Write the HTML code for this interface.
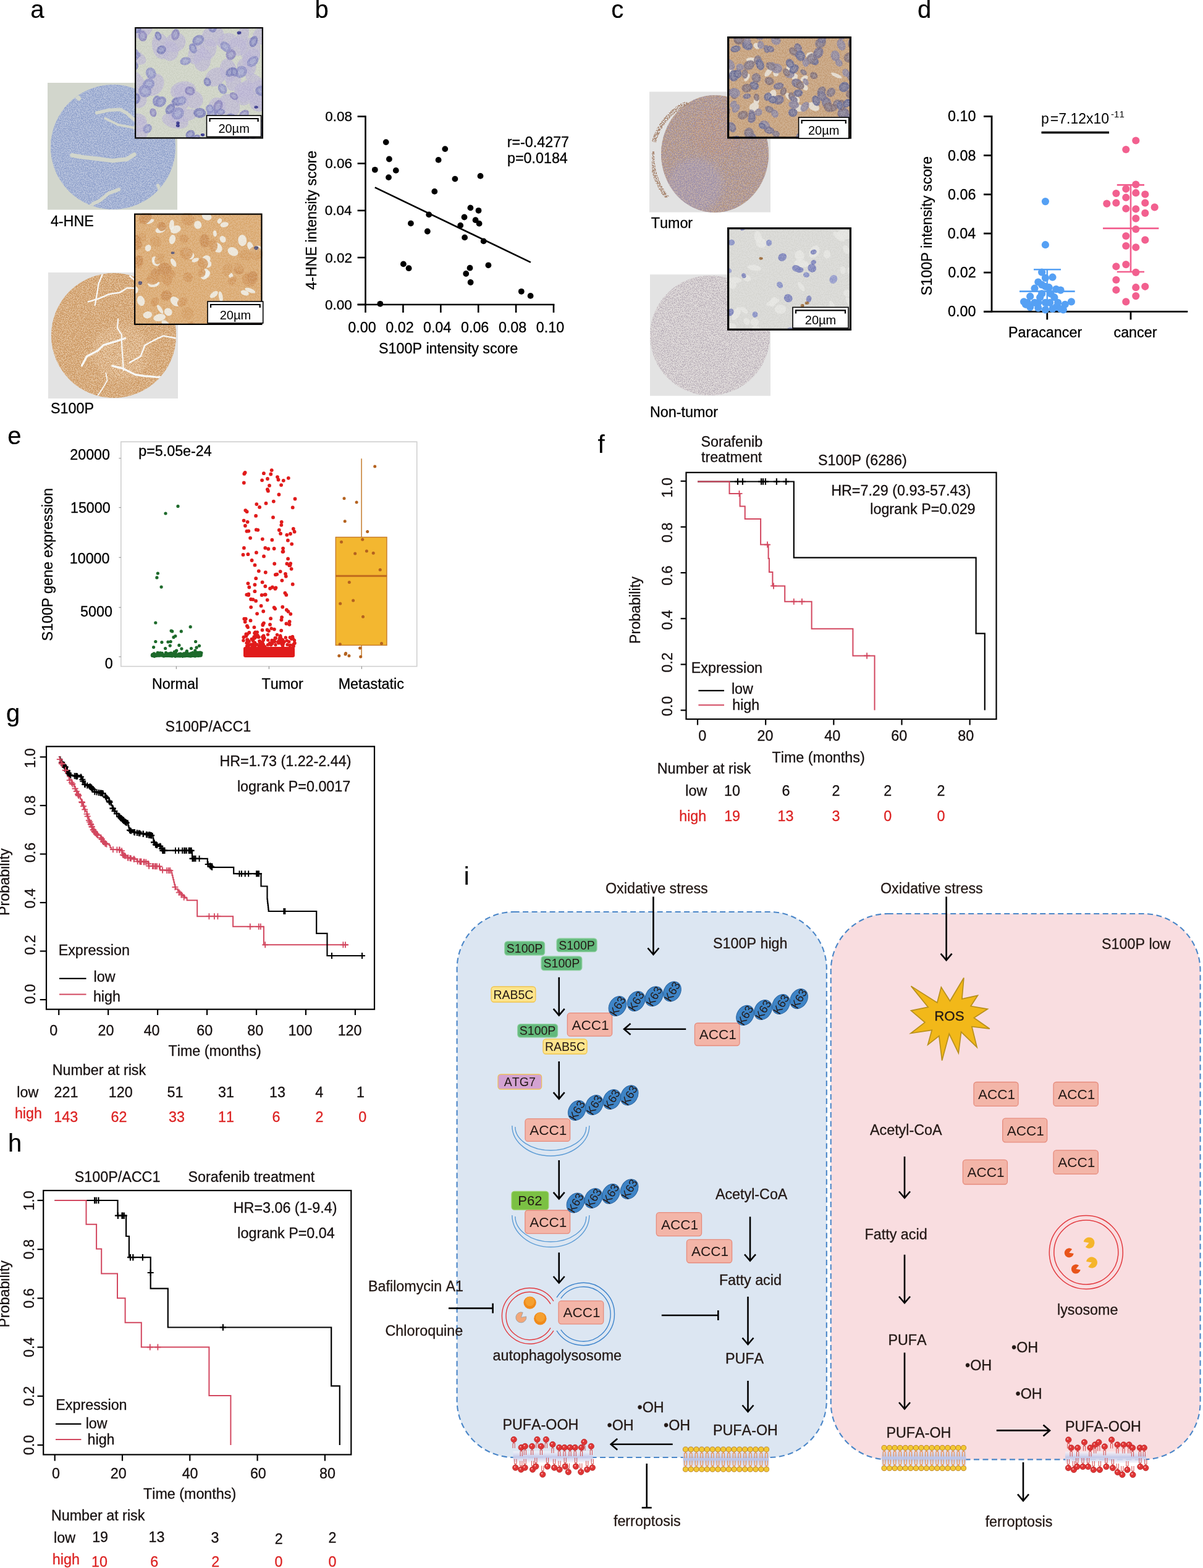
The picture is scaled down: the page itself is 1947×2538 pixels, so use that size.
<!DOCTYPE html>
<html><head><meta charset="utf-8"><title>Figure</title>
<style>
html,body{margin:0;padding:0;background:#fff;}
body{width:1947px;height:2538px;overflow:hidden;position:relative;}
svg{position:absolute;left:0;top:0;display:block;}
text{font-family:"Liberation Sans", Arial, Helvetica, sans-serif;font-kerning:none;}
</style></head><body>
<svg width="1947" height="2538" viewBox="0 0 1947 2538">
<defs>
<filter id="noise1" x="0" y="0" width="100%" height="100%"><feTurbulence type="fractalNoise" baseFrequency="0.55" numOctaves="2" seed="3" result="t"/><feColorMatrix in="t" type="matrix" values="0 0 0 0 1  0 0 0 0 1  0 0 0 0 1  0 0 0 -9 5.2" result="m"/><feComposite in="SourceGraphic" in2="m" operator="in"/></filter>
<filter id="blur6"><feGaussianBlur stdDeviation="6"/></filter>
<filter id="noise2" x="0" y="0" width="100%" height="100%"><feTurbulence type="fractalNoise" baseFrequency="0.7" numOctaves="2" seed="8" result="t"/><feColorMatrix in="t" type="matrix" values="0 0 0 0 1  0 0 0 0 1  0 0 0 0 1  0 0 0 9 -4.6" result="m"/><feComposite in="SourceGraphic" in2="m" operator="in"/></filter>
</defs>
<text x="49.35" y="29.20" font-size="40" fill="#000" stroke="#000" stroke-width="0.2" >a</text>
<rect x="77" y="134" width="210" height="205.5" fill="#d2d6cc"/>
<clipPath id="c1"><ellipse cx="183" cy="238" rx="101" ry="101"/></clipPath>
<ellipse cx="183" cy="238" rx="101" ry="101" fill="#a4b2d3"/>
<g clip-path="url(#c1)">
<rect x="82" y="137" width="202" height="202" fill="#c9d2e6" filter="url(#noise1)" opacity="0.55"/>
<rect x="82" y="137" width="202" height="202" fill="#7f93c5" filter="url(#noise2)" opacity="0.7"/>
<path d="M192.7,306.6 L176.0,312.7 L161.9,324.5 L151.2,329.5 L135.3,343.7 L126.8,366.7" stroke="#d2d6cc" stroke-width="5.4" fill="none" stroke-linecap="round" stroke-linejoin="round"/>
<path d="M127.7,159.6 L119.7,150.8 L110.5,142.7 L90.0,135.2 L75.4,124.3 L63.2,111.6" stroke="#d2d6cc" stroke-width="7.0" fill="none" stroke-linecap="round" stroke-linejoin="round"/>
<path d="M216.6,208.1 L220.8,197.6 L229.3,178.4 L239.9,157.9 L239.2,134.3 L237.3,118.4" stroke="#d2d6cc" stroke-width="2.8" fill="none" stroke-linecap="round" stroke-linejoin="round"/>
<path d="M228.0,200.8 L214.2,191.3 L204.9,182.9 L194.4,177.2 L176.0,178.3 L156.5,182.6" stroke="#d2d6cc" stroke-width="5.4" fill="none" stroke-linecap="round" stroke-linejoin="round"/>
<path d="M170.2,191.6 L191.7,202.2 L213.9,206.2 L236.3,210.1 L260.6,207.5 L280.2,201.1" stroke="#d2d6cc" stroke-width="3.8" fill="none" stroke-linecap="round" stroke-linejoin="round"/>
<path d="M116.8,251.4 L135.4,254.5 L159.5,257.2 L181.9,260.2 L205.3,257.6 L217.3,250.1" stroke="#d2d6cc" stroke-width="6.7" fill="none" stroke-linecap="round" stroke-linejoin="round"/>
<path d="M255.7,299.8 L259.5,311.0 L275.1,321.5 L281.6,341.2 L287.1,352.9 L289.0,366.1" stroke="#d2d6cc" stroke-width="5.0" fill="none" stroke-linecap="round" stroke-linejoin="round"/>
</g>
<clipPath id="i1"><rect x="218" y="44" width="208" height="180.5"/></clipPath>
<g clip-path="url(#i1)">
<rect x="218" y="44" width="208" height="180.5" fill="#ccd1c3"/>
<ellipse cx="395.3" cy="154.9" rx="14.8" ry="15.9" transform="rotate(37 395.3 154.9)" fill="#b7b1d1" opacity="0.72"/>
<ellipse cx="221.4" cy="92.6" rx="16.5" ry="9.5" transform="rotate(32 221.4 92.6)" fill="#b7b1d1" opacity="0.72"/>
<ellipse cx="294.7" cy="147.3" rx="13.3" ry="11.7" transform="rotate(160 294.7 147.3)" fill="#b7b1d1" opacity="0.72"/>
<ellipse cx="421.9" cy="162.6" rx="18.9" ry="13.4" transform="rotate(25 421.9 162.6)" fill="#b7b1d1" opacity="0.72"/>
<ellipse cx="225.3" cy="47.2" rx="21.1" ry="14.3" transform="rotate(173 225.3 47.2)" fill="#b7b1d1" opacity="0.72"/>
<ellipse cx="222.4" cy="158.8" rx="16.8" ry="14.5" transform="rotate(57 222.4 158.8)" fill="#b7b1d1" opacity="0.72"/>
<ellipse cx="425.9" cy="57.6" rx="17.5" ry="14.5" transform="rotate(162 425.9 57.6)" fill="#b7b1d1" opacity="0.72"/>
<ellipse cx="371.3" cy="171.0" rx="19.9" ry="15.9" transform="rotate(63 371.3 171.0)" fill="#b7b1d1" opacity="0.72"/>
<ellipse cx="360.5" cy="206.6" rx="20.7" ry="12.1" transform="rotate(142 360.5 206.6)" fill="#b7b1d1" opacity="0.72"/>
<ellipse cx="397.6" cy="147.4" rx="18.2" ry="11.9" transform="rotate(105 397.6 147.4)" fill="#b7b1d1" opacity="0.72"/>
<ellipse cx="344.6" cy="58.5" rx="18.4" ry="16.4" transform="rotate(158 344.6 58.5)" fill="#b7b1d1" opacity="0.72"/>
<ellipse cx="369.5" cy="114.1" rx="19.4" ry="13.4" transform="rotate(79 369.5 114.1)" fill="#b7b1d1" opacity="0.72"/>
<ellipse cx="392.4" cy="59.1" rx="19.5" ry="9.2" transform="rotate(108 392.4 59.1)" fill="#b7b1d1" opacity="0.72"/>
<ellipse cx="318.0" cy="85.6" rx="19.0" ry="12.7" transform="rotate(111 318.0 85.6)" fill="#b7b1d1" opacity="0.72"/>
<ellipse cx="409.5" cy="90.2" rx="12.1" ry="11.3" transform="rotate(122 409.5 90.2)" fill="#b7b1d1" opacity="0.72"/>
<ellipse cx="260.1" cy="74.6" rx="21.1" ry="13.9" transform="rotate(80 260.1 74.6)" fill="#b7b1d1" opacity="0.72"/>
<ellipse cx="403.5" cy="103.0" rx="18.7" ry="10.5" transform="rotate(78 403.5 103.0)" fill="#b7b1d1" opacity="0.72"/>
<ellipse cx="385.6" cy="209.0" rx="20.8" ry="11.9" transform="rotate(105 385.6 209.0)" fill="#b7b1d1" opacity="0.72"/>
<ellipse cx="283.8" cy="68.6" rx="17.0" ry="15.3" transform="rotate(153 283.8 68.6)" fill="#b7b1d1" opacity="0.72"/>
<ellipse cx="365.9" cy="215.5" rx="14.8" ry="10.3" transform="rotate(81 365.9 215.5)" fill="#b7b1d1" opacity="0.72"/>
<ellipse cx="275.2" cy="82.6" rx="16.1" ry="13.7" transform="rotate(89 275.2 82.6)" fill="#b7b1d1" opacity="0.72"/>
<ellipse cx="283.6" cy="195.5" rx="21.8" ry="12.4" transform="rotate(13 283.6 195.5)" fill="#b7b1d1" opacity="0.72"/>
<ellipse cx="224.5" cy="201.5" rx="12.4" ry="14.3" transform="rotate(103 224.5 201.5)" fill="#b7b1d1" opacity="0.72"/>
<ellipse cx="282.3" cy="186.9" rx="12.2" ry="10.0" transform="rotate(82 282.3 186.9)" fill="#b7b1d1" opacity="0.72"/>
<ellipse cx="223.1" cy="193.8" rx="14.4" ry="10.1" transform="rotate(8 223.1 193.8)" fill="#b7b1d1" opacity="0.72"/>
<ellipse cx="348.9" cy="124.6" rx="18.3" ry="13.9" transform="rotate(145 348.9 124.6)" fill="#b7b1d1" opacity="0.72"/>
<ellipse cx="417.4" cy="167.6" rx="14.0" ry="12.6" transform="rotate(32 417.4 167.6)" fill="#b7b1d1" opacity="0.72"/>
<ellipse cx="220.2" cy="129.2" rx="19.1" ry="10.3" transform="rotate(49 220.2 129.2)" fill="#b7b1d1" opacity="0.72"/>
<ellipse cx="289.9" cy="169.9" rx="17.2" ry="13.6" transform="rotate(136 289.9 169.9)" fill="#b7b1d1" opacity="0.72"/>
<ellipse cx="299.9" cy="186.9" rx="21.1" ry="9.7" transform="rotate(168 299.9 186.9)" fill="#b7b1d1" opacity="0.72"/>
<ellipse cx="368.3" cy="67.4" rx="16.5" ry="13.7" transform="rotate(164 368.3 67.4)" fill="#b7b1d1" opacity="0.72"/>
<ellipse cx="296.4" cy="146.7" rx="20.8" ry="15.0" transform="rotate(170 296.4 146.7)" fill="#b7b1d1" opacity="0.72"/>
<ellipse cx="314.5" cy="161.6" rx="14.0" ry="14.4" transform="rotate(147 314.5 161.6)" fill="#b7b1d1" opacity="0.72"/>
<ellipse cx="351.5" cy="173.5" rx="14.1" ry="15.7" transform="rotate(176 351.5 173.5)" fill="#b7b1d1" opacity="0.72"/>
<ellipse cx="421.3" cy="140.9" rx="19.9" ry="11.4" transform="rotate(164 421.3 140.9)" fill="#b7b1d1" opacity="0.72"/>
<ellipse cx="396.0" cy="106.9" rx="12.8" ry="12.3" transform="rotate(99 396.0 106.9)" fill="#b7b1d1" opacity="0.72"/>
<ellipse cx="377.8" cy="132.0" rx="12.3" ry="15.1" transform="rotate(12 377.8 132.0)" fill="#b7b1d1" opacity="0.72"/>
<ellipse cx="384.4" cy="75.2" rx="15.4" ry="14.9" transform="rotate(25 384.4 75.2)" fill="#b7b1d1" opacity="0.72"/>
<ellipse cx="248.9" cy="137.2" rx="19.2" ry="15.3" transform="rotate(124 248.9 137.2)" fill="#b7b1d1" opacity="0.72"/>
<ellipse cx="414.7" cy="132.9" rx="21.5" ry="9.6" transform="rotate(40 414.7 132.9)" fill="#b7b1d1" opacity="0.72"/>
<ellipse cx="327.5" cy="96.4" rx="19.3" ry="13.8" transform="rotate(94 327.5 96.4)" fill="#b7b1d1" opacity="0.72"/>
<ellipse cx="393.5" cy="145.1" rx="15.1" ry="11.9" transform="rotate(152 393.5 145.1)" fill="#b7b1d1" opacity="0.72"/>
<ellipse cx="405.3" cy="81.6" rx="20.5" ry="16.3" transform="rotate(94 405.3 81.6)" fill="#b7b1d1" opacity="0.72"/>
<ellipse cx="337.2" cy="80.3" rx="17.4" ry="12.8" transform="rotate(109 337.2 80.3)" fill="#b7b1d1" opacity="0.72"/>
<ellipse cx="223.8" cy="219.0" rx="17.2" ry="12.0" transform="rotate(144 223.8 219.0)" fill="#b7b1d1" opacity="0.72"/>
<ellipse cx="335.6" cy="132.6" rx="7.3" ry="5.9" transform="rotate(74 335.6 132.6)" fill="#7577b5" opacity="0.88"/>
<ellipse cx="335.6" cy="132.6" rx="4.0" ry="2.9" transform="rotate(74 335.6 132.6)" fill="#c9cde0" opacity="0.35"/>
<ellipse cx="420.7" cy="214.1" rx="8.0" ry="6.4" transform="rotate(61 420.7 214.1)" fill="#8a8cc2" opacity="0.88"/>
<ellipse cx="420.7" cy="214.1" rx="4.4" ry="3.2" transform="rotate(61 420.7 214.1)" fill="#c9cde0" opacity="0.35"/>
<ellipse cx="408.6" cy="216.4" rx="9.1" ry="6.2" transform="rotate(76 408.6 216.4)" fill="#8580b8" opacity="0.88"/>
<ellipse cx="408.6" cy="216.4" rx="5.0" ry="3.1" transform="rotate(76 408.6 216.4)" fill="#c9cde0" opacity="0.35"/>
<ellipse cx="220.4" cy="89.1" rx="7.1" ry="5.0" transform="rotate(2 220.4 89.1)" fill="#7f82bc" opacity="0.88"/>
<ellipse cx="220.4" cy="89.1" rx="3.9" ry="2.5" transform="rotate(2 220.4 89.1)" fill="#c9cde0" opacity="0.35"/>
<ellipse cx="275.4" cy="176.4" rx="9.5" ry="6.5" transform="rotate(132 275.4 176.4)" fill="#7577b5" opacity="0.88"/>
<ellipse cx="275.4" cy="176.4" rx="5.2" ry="3.2" transform="rotate(132 275.4 176.4)" fill="#c9cde0" opacity="0.35"/>
<ellipse cx="240.5" cy="136.2" rx="9.9" ry="8.5" transform="rotate(158 240.5 136.2)" fill="#8a8cc2" opacity="0.88"/>
<ellipse cx="240.5" cy="136.2" rx="5.4" ry="4.2" transform="rotate(158 240.5 136.2)" fill="#c9cde0" opacity="0.35"/>
<ellipse cx="219.0" cy="159.3" rx="9.2" ry="8.3" transform="rotate(96 219.0 159.3)" fill="#7577b5" opacity="0.88"/>
<ellipse cx="219.0" cy="159.3" rx="5.0" ry="4.2" transform="rotate(96 219.0 159.3)" fill="#c9cde0" opacity="0.35"/>
<ellipse cx="261.2" cy="80.7" rx="7.9" ry="6.9" transform="rotate(146 261.2 80.7)" fill="#7577b5" opacity="0.88"/>
<ellipse cx="261.2" cy="80.7" rx="4.4" ry="3.5" transform="rotate(146 261.2 80.7)" fill="#c9cde0" opacity="0.35"/>
<ellipse cx="409.0" cy="99.5" rx="10.6" ry="7.5" transform="rotate(140 409.0 99.5)" fill="#8a8cc2" opacity="0.88"/>
<ellipse cx="409.0" cy="99.5" rx="5.8" ry="3.7" transform="rotate(140 409.0 99.5)" fill="#c9cde0" opacity="0.35"/>
<ellipse cx="256.0" cy="58.3" rx="7.5" ry="5.1" transform="rotate(70 256.0 58.3)" fill="#7577b5" opacity="0.88"/>
<ellipse cx="256.0" cy="58.3" rx="4.1" ry="2.5" transform="rotate(70 256.0 58.3)" fill="#c9cde0" opacity="0.35"/>
<ellipse cx="307.9" cy="217.4" rx="7.8" ry="6.5" transform="rotate(144 307.9 217.4)" fill="#7577b5" opacity="0.88"/>
<ellipse cx="307.9" cy="217.4" rx="4.3" ry="3.3" transform="rotate(144 307.9 217.4)" fill="#c9cde0" opacity="0.35"/>
<ellipse cx="234.7" cy="147.4" rx="10.6" ry="10.0" transform="rotate(21 234.7 147.4)" fill="#8a8cc2" opacity="0.88"/>
<ellipse cx="234.7" cy="147.4" rx="5.9" ry="5.0" transform="rotate(21 234.7 147.4)" fill="#c9cde0" opacity="0.35"/>
<ellipse cx="323.2" cy="182.9" rx="10.2" ry="8.1" transform="rotate(4 323.2 182.9)" fill="#7577b5" opacity="0.88"/>
<ellipse cx="323.2" cy="182.9" rx="5.6" ry="4.1" transform="rotate(4 323.2 182.9)" fill="#c9cde0" opacity="0.35"/>
<ellipse cx="378.6" cy="155.6" rx="7.6" ry="5.4" transform="rotate(37 378.6 155.6)" fill="#8580b8" opacity="0.88"/>
<ellipse cx="378.6" cy="155.6" rx="4.2" ry="2.7" transform="rotate(37 378.6 155.6)" fill="#c9cde0" opacity="0.35"/>
<ellipse cx="395.5" cy="226.7" rx="9.3" ry="6.4" transform="rotate(123 395.5 226.7)" fill="#7f82bc" opacity="0.88"/>
<ellipse cx="395.5" cy="226.7" rx="5.1" ry="3.2" transform="rotate(123 395.5 226.7)" fill="#c9cde0" opacity="0.35"/>
<ellipse cx="230.8" cy="58.2" rx="8.9" ry="7.1" transform="rotate(77 230.8 58.2)" fill="#8580b8" opacity="0.88"/>
<ellipse cx="230.8" cy="58.2" rx="4.9" ry="3.6" transform="rotate(77 230.8 58.2)" fill="#c9cde0" opacity="0.35"/>
<ellipse cx="343.8" cy="42.5" rx="10.4" ry="7.3" transform="rotate(82 343.8 42.5)" fill="#7f82bc" opacity="0.88"/>
<ellipse cx="343.8" cy="42.5" rx="5.7" ry="3.7" transform="rotate(82 343.8 42.5)" fill="#c9cde0" opacity="0.35"/>
<ellipse cx="373.7" cy="116.4" rx="9.4" ry="6.4" transform="rotate(143 373.7 116.4)" fill="#7577b5" opacity="0.88"/>
<ellipse cx="373.7" cy="116.4" rx="5.2" ry="3.2" transform="rotate(143 373.7 116.4)" fill="#c9cde0" opacity="0.35"/>
<ellipse cx="283.9" cy="56.0" rx="9.3" ry="6.6" transform="rotate(105 283.9 56.0)" fill="#8580b8" opacity="0.88"/>
<ellipse cx="283.9" cy="56.0" rx="5.1" ry="3.3" transform="rotate(105 283.9 56.0)" fill="#c9cde0" opacity="0.35"/>
<ellipse cx="287.7" cy="183.7" rx="10.6" ry="9.3" transform="rotate(140 287.7 183.7)" fill="#8a8cc2" opacity="0.88"/>
<ellipse cx="287.7" cy="183.7" rx="5.9" ry="4.6" transform="rotate(140 287.7 183.7)" fill="#c9cde0" opacity="0.35"/>
<ellipse cx="390.0" cy="116.5" rx="10.5" ry="9.0" transform="rotate(138 390.0 116.5)" fill="#8a8cc2" opacity="0.88"/>
<ellipse cx="390.0" cy="116.5" rx="5.8" ry="4.5" transform="rotate(138 390.0 116.5)" fill="#c9cde0" opacity="0.35"/>
<ellipse cx="379.3" cy="116.5" rx="7.3" ry="5.5" transform="rotate(84 379.3 116.5)" fill="#7577b5" opacity="0.88"/>
<ellipse cx="379.3" cy="116.5" rx="4.0" ry="2.7" transform="rotate(84 379.3 116.5)" fill="#c9cde0" opacity="0.35"/>
<ellipse cx="216.3" cy="107.0" rx="7.9" ry="7.4" transform="rotate(120 216.3 107.0)" fill="#7f82bc" opacity="0.88"/>
<ellipse cx="216.3" cy="107.0" rx="4.4" ry="3.7" transform="rotate(120 216.3 107.0)" fill="#c9cde0" opacity="0.35"/>
<ellipse cx="287.0" cy="164.4" rx="9.1" ry="7.0" transform="rotate(180 287.0 164.4)" fill="#7577b5" opacity="0.88"/>
<ellipse cx="287.0" cy="164.4" rx="5.0" ry="3.5" transform="rotate(180 287.0 164.4)" fill="#c9cde0" opacity="0.35"/>
<ellipse cx="352.7" cy="172.2" rx="10.9" ry="7.2" transform="rotate(111 352.7 172.2)" fill="#8580b8" opacity="0.88"/>
<ellipse cx="352.7" cy="172.2" rx="6.0" ry="3.6" transform="rotate(111 352.7 172.2)" fill="#c9cde0" opacity="0.35"/>
<ellipse cx="373.6" cy="88.4" rx="9.0" ry="7.9" transform="rotate(117 373.6 88.4)" fill="#8580b8" opacity="0.88"/>
<ellipse cx="373.6" cy="88.4" rx="5.0" ry="4.0" transform="rotate(117 373.6 88.4)" fill="#c9cde0" opacity="0.35"/>
<ellipse cx="216.3" cy="88.7" rx="10.6" ry="8.7" transform="rotate(91 216.3 88.7)" fill="#8a8cc2" opacity="0.88"/>
<ellipse cx="216.3" cy="88.7" rx="5.8" ry="4.3" transform="rotate(91 216.3 88.7)" fill="#c9cde0" opacity="0.35"/>
<ellipse cx="422.9" cy="147.1" rx="9.6" ry="8.5" transform="rotate(14 422.9 147.1)" fill="#7f82bc" opacity="0.88"/>
<ellipse cx="422.9" cy="147.1" rx="5.3" ry="4.3" transform="rotate(14 422.9 147.1)" fill="#c9cde0" opacity="0.35"/>
<ellipse cx="343.1" cy="183.1" rx="8.5" ry="8.0" transform="rotate(69 343.1 183.1)" fill="#7f82bc" opacity="0.88"/>
<ellipse cx="343.1" cy="183.1" rx="4.7" ry="4.0" transform="rotate(69 343.1 183.1)" fill="#c9cde0" opacity="0.35"/>
<ellipse cx="423.5" cy="201.3" rx="8.7" ry="7.0" transform="rotate(51 423.5 201.3)" fill="#7f82bc" opacity="0.88"/>
<ellipse cx="423.5" cy="201.3" rx="4.8" ry="3.5" transform="rotate(51 423.5 201.3)" fill="#c9cde0" opacity="0.35"/>
<ellipse cx="300.1" cy="98.9" rx="8.9" ry="6.5" transform="rotate(167 300.1 98.9)" fill="#8a8cc2" opacity="0.88"/>
<ellipse cx="300.1" cy="98.9" rx="4.9" ry="3.3" transform="rotate(167 300.1 98.9)" fill="#c9cde0" opacity="0.35"/>
<ellipse cx="357.3" cy="181.0" rx="7.1" ry="5.1" transform="rotate(8 357.3 181.0)" fill="#7f82bc" opacity="0.88"/>
<ellipse cx="357.3" cy="181.0" rx="3.9" ry="2.6" transform="rotate(8 357.3 181.0)" fill="#c9cde0" opacity="0.35"/>
<ellipse cx="247.8" cy="182.3" rx="7.2" ry="5.4" transform="rotate(72 247.8 182.3)" fill="#8580b8" opacity="0.88"/>
<ellipse cx="247.8" cy="182.3" rx="4.0" ry="2.7" transform="rotate(72 247.8 182.3)" fill="#c9cde0" opacity="0.35"/>
<ellipse cx="339.7" cy="176.3" rx="7.3" ry="6.7" transform="rotate(77 339.7 176.3)" fill="#8a8cc2" opacity="0.88"/>
<ellipse cx="339.7" cy="176.3" rx="4.0" ry="3.4" transform="rotate(77 339.7 176.3)" fill="#c9cde0" opacity="0.35"/>
<ellipse cx="317.2" cy="223.4" rx="7.2" ry="4.9" transform="rotate(146 317.2 223.4)" fill="#7577b5" opacity="0.88"/>
<ellipse cx="317.2" cy="223.4" rx="3.9" ry="2.4" transform="rotate(146 317.2 223.4)" fill="#c9cde0" opacity="0.35"/>
<ellipse cx="410.4" cy="67.2" rx="9.4" ry="6.4" transform="rotate(112 410.4 67.2)" fill="#7577b5" opacity="0.88"/>
<ellipse cx="410.4" cy="67.2" rx="5.2" ry="3.2" transform="rotate(112 410.4 67.2)" fill="#c9cde0" opacity="0.35"/>
<ellipse cx="312.4" cy="78.4" rx="8.4" ry="5.9" transform="rotate(65 312.4 78.4)" fill="#7f82bc" opacity="0.88"/>
<ellipse cx="312.4" cy="78.4" rx="4.6" ry="2.9" transform="rotate(65 312.4 78.4)" fill="#c9cde0" opacity="0.35"/>
<ellipse cx="244.2" cy="118.6" rx="9.6" ry="8.2" transform="rotate(66 244.2 118.6)" fill="#8a8cc2" opacity="0.88"/>
<ellipse cx="244.2" cy="118.6" rx="5.3" ry="4.1" transform="rotate(66 244.2 118.6)" fill="#c9cde0" opacity="0.35"/>
<ellipse cx="374.7" cy="193.7" rx="10.8" ry="9.4" transform="rotate(43 374.7 193.7)" fill="#7577b5" opacity="0.88"/>
<ellipse cx="374.7" cy="193.7" rx="5.9" ry="4.7" transform="rotate(43 374.7 193.7)" fill="#c9cde0" opacity="0.35"/>
<ellipse cx="238.6" cy="208.3" rx="8.1" ry="6.7" transform="rotate(131 238.6 208.3)" fill="#8a8cc2" opacity="0.88"/>
<ellipse cx="238.6" cy="208.3" rx="4.5" ry="3.4" transform="rotate(131 238.6 208.3)" fill="#c9cde0" opacity="0.35"/>
<ellipse cx="365.0" cy="75.8" rx="10.0" ry="7.1" transform="rotate(45 365.0 75.8)" fill="#8a8cc2" opacity="0.88"/>
<ellipse cx="365.0" cy="75.8" rx="5.5" ry="3.5" transform="rotate(45 365.0 75.8)" fill="#c9cde0" opacity="0.35"/>
<ellipse cx="425.6" cy="212.6" rx="9.5" ry="6.2" transform="rotate(47 425.6 212.6)" fill="#7f82bc" opacity="0.88"/>
<ellipse cx="425.6" cy="212.6" rx="5.2" ry="3.1" transform="rotate(47 425.6 212.6)" fill="#c9cde0" opacity="0.35"/>
<ellipse cx="219.8" cy="47.2" rx="9.2" ry="6.2" transform="rotate(16 219.8 47.2)" fill="#7577b5" opacity="0.88"/>
<ellipse cx="219.8" cy="47.2" rx="5.0" ry="3.1" transform="rotate(16 219.8 47.2)" fill="#c9cde0" opacity="0.35"/>
<ellipse cx="360.1" cy="143.8" rx="8.9" ry="6.8" transform="rotate(61 360.1 143.8)" fill="#8a8cc2" opacity="0.88"/>
<ellipse cx="360.1" cy="143.8" rx="4.9" ry="3.4" transform="rotate(61 360.1 143.8)" fill="#c9cde0" opacity="0.35"/>
<ellipse cx="320.8" cy="65.1" rx="10.2" ry="8.0" transform="rotate(148 320.8 65.1)" fill="#7f82bc" opacity="0.88"/>
<ellipse cx="320.8" cy="65.1" rx="5.6" ry="4.0" transform="rotate(148 320.8 65.1)" fill="#c9cde0" opacity="0.35"/>
<ellipse cx="395.0" cy="184.9" rx="8.7" ry="6.3" transform="rotate(146 395.0 184.9)" fill="#8580b8" opacity="0.88"/>
<ellipse cx="395.0" cy="184.9" rx="4.8" ry="3.2" transform="rotate(146 395.0 184.9)" fill="#c9cde0" opacity="0.35"/>
<ellipse cx="293.7" cy="163.2" rx="8.2" ry="7.2" transform="rotate(149 293.7 163.2)" fill="#8a8cc2" opacity="0.88"/>
<ellipse cx="293.7" cy="163.2" rx="4.5" ry="3.6" transform="rotate(149 293.7 163.2)" fill="#c9cde0" opacity="0.35"/>
<ellipse cx="253.7" cy="163.2" rx="8.8" ry="6.6" transform="rotate(98 253.7 163.2)" fill="#7f82bc" opacity="0.88"/>
<ellipse cx="253.7" cy="163.2" rx="4.9" ry="3.3" transform="rotate(98 253.7 163.2)" fill="#c9cde0" opacity="0.35"/>
<ellipse cx="307.3" cy="147.1" rx="8.2" ry="7.2" transform="rotate(14 307.3 147.1)" fill="#8580b8" opacity="0.88"/>
<ellipse cx="307.3" cy="147.1" rx="4.5" ry="3.6" transform="rotate(14 307.3 147.1)" fill="#c9cde0" opacity="0.35"/>
<ellipse cx="260.1" cy="164.8" rx="9.8" ry="7.8" transform="rotate(138 260.1 164.8)" fill="#7f82bc" opacity="0.88"/>
<ellipse cx="260.1" cy="164.8" rx="5.4" ry="3.9" transform="rotate(138 260.1 164.8)" fill="#c9cde0" opacity="0.35"/>
<ellipse cx="287.9" cy="199.3" rx="2.8" ry="2.8" fill="#2b2b86"/>
<ellipse cx="287.8" cy="203.5" rx="3.0" ry="2.5" fill="#2b2b86"/>
<ellipse cx="340.8" cy="202.9" rx="3.5" ry="2.3" fill="#2b2b86"/>
<ellipse cx="328.0" cy="218.2" rx="3.2" ry="2.3" fill="#2b2b86"/>
<ellipse cx="414.6" cy="173.4" rx="3.3" ry="2.1" fill="#2b2b86"/>
<ellipse cx="387.0" cy="53.1" rx="3.5" ry="2.7" fill="#2b2b86"/>
<rect x="218" y="44" width="208" height="180.5" fill="#fff" filter="url(#noise1)" opacity="0.18"/>
</g>
<rect x="219.1" y="45.1" width="205.8" height="178.3" fill="none" stroke="#000" stroke-width="2.2"/>
<rect x="334.5" y="187" width="88.10000000000002" height="34.400000000000006" fill="#fff" stroke="#000" stroke-width="1.6"/>
<path d="M339.5,197 V192 H417.6 V197" fill="none" stroke="#000" stroke-width="2.2"/>
<text x="378.6" y="215.4" font-size="20" text-anchor="middle">20µm</text>
<text x="81.90" y="366.20" font-size="23.3" fill="#000" stroke="#000" stroke-width="0.3" >4-HNE</text>
<rect x="78" y="441" width="210" height="204" fill="#e3e3e3"/>
<clipPath id="c2"><ellipse cx="184" cy="543" rx="101" ry="101"/></clipPath>
<ellipse cx="184" cy="543" rx="101" ry="101" fill="#d6a774"/>
<g clip-path="url(#c2)">
<circle cx="195" cy="570" r="45" fill="#e6c29a" opacity="0.7" filter="url(#blur6)"/>
<rect x="83" y="442" width="202" height="202" fill="#eed8bd" filter="url(#noise1)" opacity="0.55"/>
<rect x="83" y="442" width="202" height="202" fill="#bf8650" filter="url(#noise2)" opacity="0.7"/>
<path d="M222.6,521.7 L224.8,503.1 L223.2,486.5 L227.9,473.5 L225.0,459.4 L210.3,447.0" stroke="#f7f7f5" stroke-width="2.7" fill="none" stroke-linecap="round" stroke-linejoin="round"/>
<path d="M191.3,516.3 L189.9,530.9 L196.8,541.6 L197.3,562.3 L198.4,577.3 L199.8,599.4" stroke="#f7f7f5" stroke-width="2.2" fill="none" stroke-linecap="round" stroke-linejoin="round"/>
<path d="M182.1,592.3 L199.6,596.7 L218.7,606.4 L234.1,608.6 L252.0,610.2 L262.1,610.4" stroke="#f7f7f5" stroke-width="3.3" fill="none" stroke-linecap="round" stroke-linejoin="round"/>
<path d="M142.9,488.4 L161.6,482.7 L177.3,475.9 L194.2,473.4 L206.0,466.0 L227.2,466.9" stroke="#f7f7f5" stroke-width="2.5" fill="none" stroke-linecap="round" stroke-linejoin="round"/>
<path d="M153.7,494.1 L157.0,475.4 L159.6,459.0 L167.9,438.7 L184.0,425.3 L203.5,416.4" stroke="#f7f7f5" stroke-width="2.3" fill="none" stroke-linecap="round" stroke-linejoin="round"/>
<path d="M209.9,586.9 L227.6,576.8 L234.5,558.7 L253.8,548.4 L264.4,543.6 L287.1,548.0" stroke="#f7f7f5" stroke-width="2.4" fill="none" stroke-linecap="round" stroke-linejoin="round"/>
<path d="M171.3,603.6 L173.6,615.7 L167.0,627.1 L157.0,642.3 L155.2,654.9 L159.9,666.9" stroke="#f7f7f5" stroke-width="1.8" fill="none" stroke-linecap="round" stroke-linejoin="round"/>
<path d="M202.6,547.5 L185.1,553.3 L167.7,558.4 L158.5,567.4 L140.5,576.7 L132.5,591.8" stroke="#f7f7f5" stroke-width="3.4" fill="none" stroke-linecap="round" stroke-linejoin="round"/>
</g>
<clipPath id="i2"><rect x="217" y="345.5" width="207.5" height="180.5"/></clipPath>
<g clip-path="url(#i2)">
<rect x="217" y="345.5" width="207.5" height="180.5" fill="#d9a76d"/>
<ellipse cx="417.0" cy="402.6" rx="6.4" ry="5.1" transform="rotate(180 417.0 402.6)" fill="#eef0ea" opacity="0.85"/>
<ellipse cx="355.4" cy="357.6" rx="4.4" ry="3.4" transform="rotate(120 355.4 357.6)" fill="#eef0ea" opacity="0.85"/>
<ellipse cx="357.2" cy="480.3" rx="8.7" ry="3.3" transform="rotate(80 357.2 480.3)" fill="#eef0ea" opacity="0.85"/>
<ellipse cx="396.2" cy="474.0" rx="6.9" ry="4.0" transform="rotate(20 396.2 474.0)" fill="#eef0ea" opacity="0.85"/>
<ellipse cx="377.2" cy="500.0" rx="9.1" ry="5.8" transform="rotate(162 377.2 500.0)" fill="#eef0ea" opacity="0.85"/>
<ellipse cx="248.6" cy="458.8" rx="9.6" ry="5.9" transform="rotate(172 248.6 458.8)" fill="#eef0ea" opacity="0.85"/>
<ellipse cx="373.6" cy="445.8" rx="4.5" ry="3.6" transform="rotate(68 373.6 445.8)" fill="#eef0ea" opacity="0.85"/>
<ellipse cx="239.7" cy="401.4" rx="5.6" ry="4.8" transform="rotate(115 239.7 401.4)" fill="#eef0ea" opacity="0.85"/>
<ellipse cx="309.7" cy="414.5" rx="4.6" ry="5.4" transform="rotate(24 309.7 414.5)" fill="#eef0ea" opacity="0.85"/>
<ellipse cx="347.8" cy="377.9" rx="5.2" ry="3.0" transform="rotate(83 347.8 377.9)" fill="#eef0ea" opacity="0.85"/>
<ellipse cx="363.1" cy="363.6" rx="4.2" ry="6.9" transform="rotate(78 363.1 363.6)" fill="#eef0ea" opacity="0.85"/>
<ellipse cx="377.0" cy="407.2" rx="8.9" ry="6.7" transform="rotate(25 377.0 407.2)" fill="#eef0ea" opacity="0.85"/>
<ellipse cx="259.6" cy="372.2" rx="8.1" ry="4.8" transform="rotate(166 259.6 372.2)" fill="#eef0ea" opacity="0.85"/>
<ellipse cx="346.3" cy="476.7" rx="7.7" ry="4.1" transform="rotate(142 346.3 476.7)" fill="#eef0ea" opacity="0.85"/>
<ellipse cx="267.8" cy="523.4" rx="7.2" ry="3.9" transform="rotate(34 267.8 523.4)" fill="#eef0ea" opacity="0.85"/>
<ellipse cx="280.7" cy="425.1" rx="7.3" ry="3.7" transform="rotate(60 280.7 425.1)" fill="#eef0ea" opacity="0.85"/>
<ellipse cx="277.9" cy="364.0" rx="8.3" ry="3.9" transform="rotate(97 277.9 364.0)" fill="#eef0ea" opacity="0.85"/>
<ellipse cx="278.9" cy="387.7" rx="7.7" ry="5.0" transform="rotate(103 278.9 387.7)" fill="#eef0ea" opacity="0.85"/>
<ellipse cx="258.1" cy="514.0" rx="10.0" ry="5.8" transform="rotate(168 258.1 514.0)" fill="#eef0ea" opacity="0.85"/>
<ellipse cx="334.7" cy="350.3" rx="8.0" ry="6.1" transform="rotate(25 334.7 350.3)" fill="#eef0ea" opacity="0.85"/>
<ellipse cx="316.2" cy="420.9" rx="6.0" ry="3.2" transform="rotate(157 316.2 420.9)" fill="#eef0ea" opacity="0.85"/>
<ellipse cx="272.2" cy="504.9" rx="6.7" ry="5.9" transform="rotate(43 272.2 504.9)" fill="#eef0ea" opacity="0.85"/>
<ellipse cx="335.1" cy="444.1" rx="4.4" ry="6.6" transform="rotate(30 335.1 444.1)" fill="#eef0ea" opacity="0.85"/>
<ellipse cx="371.7" cy="507.4" rx="6.0" ry="3.4" transform="rotate(168 371.7 507.4)" fill="#eef0ea" opacity="0.85"/>
<ellipse cx="217.8" cy="469.2" rx="6.2" ry="6.0" transform="rotate(65 217.8 469.2)" fill="#eef0ea" opacity="0.85"/>
<ellipse cx="251.4" cy="453.4" rx="8.9" ry="4.7" transform="rotate(73 251.4 453.4)" fill="#eef0ea" opacity="0.85"/>
<ellipse cx="379.4" cy="513.3" rx="10.0" ry="3.4" transform="rotate(136 379.4 513.3)" fill="#eef0ea" opacity="0.85"/>
<ellipse cx="392.8" cy="509.1" rx="7.7" ry="5.5" transform="rotate(137 392.8 509.1)" fill="#eef0ea" opacity="0.85"/>
<ellipse cx="249.9" cy="419.9" rx="4.2" ry="5.0" transform="rotate(21 249.9 419.9)" fill="#eef0ea" opacity="0.85"/>
<ellipse cx="301.2" cy="406.2" rx="4.8" ry="3.8" transform="rotate(168 301.2 406.2)" fill="#eef0ea" opacity="0.85"/>
<ellipse cx="228.1" cy="487.0" rx="8.3" ry="6.1" transform="rotate(73 228.1 487.0)" fill="#eef0ea" opacity="0.85"/>
<ellipse cx="320.2" cy="364.0" rx="6.1" ry="6.6" transform="rotate(164 320.2 364.0)" fill="#eef0ea" opacity="0.85"/>
<ellipse cx="334.2" cy="419.0" rx="5.7" ry="6.5" transform="rotate(83 334.2 419.0)" fill="#eef0ea" opacity="0.85"/>
<ellipse cx="404.9" cy="470.1" rx="9.0" ry="3.3" transform="rotate(21 404.9 470.1)" fill="#eef0ea" opacity="0.85"/>
<ellipse cx="411.8" cy="405.1" rx="7.1" ry="4.6" transform="rotate(4 411.8 405.1)" fill="#eef0ea" opacity="0.85"/>
<ellipse cx="405.3" cy="398.9" rx="7.7" ry="4.6" transform="rotate(68 405.3 398.9)" fill="#eef0ea" opacity="0.85"/>
<ellipse cx="283.8" cy="488.0" rx="9.3" ry="6.5" transform="rotate(44 283.8 488.0)" fill="#eef0ea" opacity="0.85"/>
<ellipse cx="392.2" cy="389.2" rx="9.2" ry="6.9" transform="rotate(86 392.2 389.2)" fill="#eef0ea" opacity="0.85"/>
<ellipse cx="238.9" cy="509.7" rx="7.3" ry="5.6" transform="rotate(169 238.9 509.7)" fill="#eef0ea" opacity="0.85"/>
<ellipse cx="399.5" cy="525.9" rx="8.4" ry="6.5" transform="rotate(66 399.5 525.9)" fill="#eef0ea" opacity="0.85"/>
<ellipse cx="330.3" cy="447.3" rx="5.0" ry="5.5" transform="rotate(76 330.3 447.3)" fill="#eef0ea" opacity="0.85"/>
<ellipse cx="242.5" cy="358.4" rx="7.1" ry="3.3" transform="rotate(159 242.5 358.4)" fill="#eef0ea" opacity="0.85"/>
<ellipse cx="336.5" cy="427.3" rx="5.8" ry="5.9" transform="rotate(4 336.5 427.3)" fill="#eef0ea" opacity="0.85"/>
<ellipse cx="252.7" cy="425.1" rx="6.7" ry="5.0" transform="rotate(25 252.7 425.1)" fill="#eef0ea" opacity="0.85"/>
<ellipse cx="360.6" cy="387.2" rx="5.8" ry="4.7" transform="rotate(56 360.6 387.2)" fill="#eef0ea" opacity="0.85"/>
<ellipse cx="284.3" cy="371.4" rx="8.7" ry="6.1" transform="rotate(158 284.3 371.4)" fill="#eef0ea" opacity="0.85"/>
<ellipse cx="259.1" cy="500.6" rx="8.2" ry="3.0" transform="rotate(57 259.1 500.6)" fill="#eef0ea" opacity="0.85"/>
<ellipse cx="395.3" cy="507.8" rx="4.1" ry="5.5" transform="rotate(126 395.3 507.8)" fill="#eef0ea" opacity="0.85"/>
<ellipse cx="333.2" cy="441.7" rx="5.4" ry="6.8" transform="rotate(176 333.2 441.7)" fill="#eef0ea" opacity="0.85"/>
<ellipse cx="351.9" cy="400.7" rx="8.9" ry="6.8" transform="rotate(49 351.9 400.7)" fill="#eef0ea" opacity="0.85"/>
<ellipse cx="303.6" cy="507.2" rx="10.5" ry="9.8" transform="rotate(80 303.6 507.2)" fill="#d39c60" opacity="0.88"/>
<ellipse cx="230.0" cy="383.6" rx="7.6" ry="6.5" transform="rotate(48 230.0 383.6)" fill="#d39c60" opacity="0.88"/>
<ellipse cx="368.2" cy="436.0" rx="11.0" ry="8.3" transform="rotate(119 368.2 436.0)" fill="#d39c60" opacity="0.88"/>
<ellipse cx="403.6" cy="452.7" rx="11.9" ry="10.9" transform="rotate(33 403.6 452.7)" fill="#cf9458" opacity="0.88"/>
<ellipse cx="261.7" cy="366.5" rx="7.4" ry="7.0" transform="rotate(79 261.7 366.5)" fill="#c88b50" opacity="0.88"/>
<ellipse cx="326.8" cy="441.6" rx="7.0" ry="5.8" transform="rotate(97 326.8 441.6)" fill="#cf9458" opacity="0.88"/>
<ellipse cx="304.3" cy="448.7" rx="8.4" ry="7.4" transform="rotate(44 304.3 448.7)" fill="#cf9458" opacity="0.88"/>
<ellipse cx="273.1" cy="444.8" rx="11.0" ry="7.6" transform="rotate(162 273.1 444.8)" fill="#cf9458" opacity="0.88"/>
<ellipse cx="347.0" cy="514.2" rx="8.9" ry="8.3" transform="rotate(90 347.0 514.2)" fill="#c88b50" opacity="0.88"/>
<ellipse cx="251.8" cy="446.3" rx="11.5" ry="8.6" transform="rotate(87 251.8 446.3)" fill="#c88b50" opacity="0.88"/>
<ellipse cx="219.9" cy="396.4" rx="10.4" ry="8.4" transform="rotate(171 219.9 396.4)" fill="#c88b50" opacity="0.88"/>
<ellipse cx="250.5" cy="488.5" rx="7.6" ry="5.9" transform="rotate(120 250.5 488.5)" fill="#cf9458" opacity="0.88"/>
<ellipse cx="331.1" cy="389.8" rx="11.0" ry="7.9" transform="rotate(88 331.1 389.8)" fill="#c88b50" opacity="0.88"/>
<ellipse cx="260.7" cy="450.8" rx="8.3" ry="5.9" transform="rotate(175 260.7 450.8)" fill="#d39c60" opacity="0.88"/>
<ellipse cx="224.3" cy="426.0" rx="8.6" ry="7.2" transform="rotate(110 224.3 426.0)" fill="#cf9458" opacity="0.88"/>
<ellipse cx="386.7" cy="436.5" rx="8.3" ry="7.4" transform="rotate(13 386.7 436.5)" fill="#c88b50" opacity="0.88"/>
<ellipse cx="408.5" cy="448.7" rx="9.9" ry="8.6" transform="rotate(112 408.5 448.7)" fill="#c88b50" opacity="0.88"/>
<ellipse cx="224.6" cy="421.7" rx="8.6" ry="7.2" transform="rotate(95 224.6 421.7)" fill="#c88b50" opacity="0.88"/>
<ellipse cx="270.0" cy="452.5" rx="10.3" ry="8.2" transform="rotate(68 270.0 452.5)" fill="#cf9458" opacity="0.88"/>
<ellipse cx="266.5" cy="435.2" rx="11.2" ry="9.9" transform="rotate(11 266.5 435.2)" fill="#c88b50" opacity="0.88"/>
<ellipse cx="301.5" cy="410.2" rx="10.5" ry="9.9" transform="rotate(23 301.5 410.2)" fill="#cf9458" opacity="0.88"/>
<ellipse cx="375.8" cy="454.7" rx="7.7" ry="6.1" transform="rotate(134 375.8 454.7)" fill="#cf9458" opacity="0.88"/>
<ellipse cx="221.5" cy="386.9" rx="7.7" ry="5.9" transform="rotate(54 221.5 386.9)" fill="#c88b50" opacity="0.88"/>
<ellipse cx="304.5" cy="355.9" rx="10.4" ry="9.0" transform="rotate(176 304.5 355.9)" fill="#cf9458" opacity="0.88"/>
<ellipse cx="345.0" cy="397.2" rx="9.8" ry="7.1" transform="rotate(83 345.0 397.2)" fill="#cf9458" opacity="0.88"/>
<ellipse cx="413.9" cy="410.1" rx="11.7" ry="10.9" transform="rotate(39 413.9 410.1)" fill="#d39c60" opacity="0.88"/>
<ellipse cx="247.6" cy="451.8" rx="10.7" ry="8.8" transform="rotate(164 247.6 451.8)" fill="#cf9458" opacity="0.88"/>
<ellipse cx="403.6" cy="515.7" rx="9.3" ry="7.2" transform="rotate(152 403.6 515.7)" fill="#cf9458" opacity="0.88"/>
<ellipse cx="295.1" cy="488.8" rx="9.1" ry="6.6" transform="rotate(143 295.1 488.8)" fill="#cf9458" opacity="0.88"/>
<ellipse cx="386.3" cy="432.0" rx="8.1" ry="6.4" transform="rotate(56 386.3 432.0)" fill="#d39c60" opacity="0.88"/>
<ellipse cx="309.4" cy="528.7" rx="7.9" ry="6.3" transform="rotate(97 309.4 528.7)" fill="#c88b50" opacity="0.88"/>
<ellipse cx="303.3" cy="350.4" rx="8.8" ry="6.5" transform="rotate(3 303.3 350.4)" fill="#d39c60" opacity="0.88"/>
<ellipse cx="252.2" cy="391.0" rx="9.8" ry="8.3" transform="rotate(39 252.2 391.0)" fill="#d39c60" opacity="0.88"/>
<ellipse cx="235.3" cy="352.3" rx="11.7" ry="8.9" transform="rotate(138 235.3 352.3)" fill="#c88b50" opacity="0.88"/>
<ellipse cx="368.9" cy="512.5" rx="12.0" ry="10.8" transform="rotate(81 368.9 512.5)" fill="#cf9458" opacity="0.88"/>
<ellipse cx="397.2" cy="413.4" rx="10.9" ry="8.7" transform="rotate(10 397.2 413.4)" fill="#d39c60" opacity="0.88"/>
<ellipse cx="297.9" cy="386.4" rx="7.9" ry="6.4" transform="rotate(23 297.9 386.4)" fill="#cf9458" opacity="0.88"/>
<ellipse cx="257.9" cy="418.9" rx="9.7" ry="6.7" transform="rotate(127 257.9 418.9)" fill="#d39c60" opacity="0.88"/>
<ellipse cx="269.1" cy="478.3" rx="8.9" ry="8.1" transform="rotate(150 269.1 478.3)" fill="#c88b50" opacity="0.88"/>
<ellipse cx="328.3" cy="426.2" rx="8.9" ry="8.1" transform="rotate(41 328.3 426.2)" fill="#cf9458" opacity="0.88"/>
<ellipse cx="279.7" cy="409.3" rx="2.8" ry="2.0" fill="#4b4a70"/>
<ellipse cx="226.8" cy="458.0" rx="3.3" ry="3.0" fill="#4b4a70"/>
<ellipse cx="414.7" cy="401.3" rx="3.5" ry="3.1" fill="#4b4a70"/>
<rect x="217" y="345.5" width="207.5" height="180.5" fill="#fff" filter="url(#noise1)" opacity="0.18"/>
</g>
<rect x="218.1" y="346.6" width="205.3" height="178.3" fill="none" stroke="#000" stroke-width="2.2"/>
<rect x="336" y="488" width="89.69999999999999" height="35" fill="#fff" stroke="#000" stroke-width="1.6"/>
<path d="M341,498 V493 H420.7 V498" fill="none" stroke="#000" stroke-width="2.2"/>
<text x="380.9" y="517.0" font-size="20" text-anchor="middle">20µm</text>
<text x="82.00" y="668.60" font-size="23.3" fill="#000" stroke="#000" stroke-width="0.3" >S100P</text>
<text x="989.35" y="29.10" font-size="40" fill="#000" stroke="#000" stroke-width="0.2" >c</text>
<rect x="1051" y="148.5" width="196" height="195.10000000000002" fill="#e2e2e2"/>
<clipPath id="c3"><ellipse cx="1157" cy="249" rx="87" ry="95"/></clipPath>
<ellipse cx="1157" cy="249" rx="87" ry="95" fill="#b3937d"/>
<g clip-path="url(#c3)">
<circle cx="1125" cy="300" r="45" fill="#a49dbd" opacity="0.55" filter="url(#blur6)"/>
<circle cx="1160" cy="215" r="40" fill="#c09070" opacity="0.5" filter="url(#blur6)"/>
<rect x="1062" y="154" width="190" height="190" fill="#d4c2b6" filter="url(#noise1)" opacity="0.55"/>
<rect x="1062" y="154" width="190" height="190" fill="#8f88b4" filter="url(#noise2)" opacity="0.7"/>
</g>
<path d="M1115,165 A98,102 0 0 0 1058,230 M1056,245 A98,102 0 0 0 1080,320" fill="none" stroke="#a88670" stroke-width="7" filter="url(#noise1)" opacity="0.95"/>
<clipPath id="i3"><rect x="1177" y="59" width="201" height="165.5"/></clipPath>
<g clip-path="url(#i3)">
<rect x="1177" y="59" width="201" height="165.5" fill="#c49e78"/>
<ellipse cx="1220.5" cy="173.1" rx="8.0" ry="6.8" transform="rotate(156 1220.5 173.1)" fill="#e8e2d8" opacity="0.85"/>
<ellipse cx="1224.2" cy="163.7" rx="4.5" ry="4.6" transform="rotate(71 1224.2 163.7)" fill="#e8e2d8" opacity="0.85"/>
<ellipse cx="1189.1" cy="122.4" rx="6.0" ry="4.9" transform="rotate(50 1189.1 122.4)" fill="#e8e2d8" opacity="0.85"/>
<ellipse cx="1208.9" cy="125.6" rx="6.9" ry="3.5" transform="rotate(120 1208.9 125.6)" fill="#e8e2d8" opacity="0.85"/>
<ellipse cx="1225.2" cy="74.4" rx="6.1" ry="4.6" transform="rotate(27 1225.2 74.4)" fill="#e8e2d8" opacity="0.85"/>
<ellipse cx="1294.1" cy="175.1" rx="7.3" ry="5.7" transform="rotate(4 1294.1 175.1)" fill="#e8e2d8" opacity="0.85"/>
<ellipse cx="1255.7" cy="119.3" rx="4.4" ry="4.5" transform="rotate(10 1255.7 119.3)" fill="#e8e2d8" opacity="0.85"/>
<ellipse cx="1276.6" cy="156.0" rx="6.8" ry="4.2" transform="rotate(46 1276.6 156.0)" fill="#e8e2d8" opacity="0.85"/>
<ellipse cx="1181.7" cy="116.4" rx="9.4" ry="5.2" transform="rotate(47 1181.7 116.4)" fill="#e8e2d8" opacity="0.85"/>
<ellipse cx="1311.3" cy="89.8" rx="6.8" ry="5.4" transform="rotate(172 1311.3 89.8)" fill="#e8e2d8" opacity="0.85"/>
<ellipse cx="1249.9" cy="154.4" rx="9.7" ry="6.0" transform="rotate(113 1249.9 154.4)" fill="#e8e2d8" opacity="0.85"/>
<ellipse cx="1301.8" cy="127.0" rx="6.5" ry="4.0" transform="rotate(149 1301.8 127.0)" fill="#e8e2d8" opacity="0.85"/>
<ellipse cx="1353.8" cy="122.2" rx="9.5" ry="3.0" transform="rotate(24 1353.8 122.2)" fill="#e8e2d8" opacity="0.85"/>
<ellipse cx="1278.9" cy="110.1" rx="6.2" ry="6.9" transform="rotate(27 1278.9 110.1)" fill="#e8e2d8" opacity="0.85"/>
<ellipse cx="1215.7" cy="96.8" rx="8.1" ry="3.8" transform="rotate(0 1215.7 96.8)" fill="#e8e2d8" opacity="0.85"/>
<ellipse cx="1286.3" cy="124.2" rx="5.4" ry="4.9" transform="rotate(117 1286.3 124.2)" fill="#e8e2d8" opacity="0.85"/>
<ellipse cx="1287.2" cy="162.3" rx="7.4" ry="6.3" transform="rotate(174 1287.2 162.3)" fill="#e8e2d8" opacity="0.85"/>
<ellipse cx="1244.0" cy="116.4" rx="9.3" ry="4.1" transform="rotate(129 1244.0 116.4)" fill="#e8e2d8" opacity="0.85"/>
<ellipse cx="1316.8" cy="172.6" rx="9.8" ry="6.3" transform="rotate(29 1316.8 172.6)" fill="#e8e2d8" opacity="0.85"/>
<ellipse cx="1301.9" cy="140.2" rx="7.4" ry="4.4" transform="rotate(51 1301.9 140.2)" fill="#e8e2d8" opacity="0.85"/>
<ellipse cx="1329.5" cy="147.6" rx="8.3" ry="6.3" transform="rotate(127 1329.5 147.6)" fill="#7a6e7e" opacity="0.88"/>
<ellipse cx="1329.5" cy="147.6" rx="4.5" ry="3.1" transform="rotate(127 1329.5 147.6)" fill="#a09aa8" opacity="0.35"/>
<ellipse cx="1364.7" cy="183.0" rx="9.5" ry="8.5" transform="rotate(159 1364.7 183.0)" fill="#6e6a8a" opacity="0.88"/>
<ellipse cx="1364.7" cy="183.0" rx="5.2" ry="4.2" transform="rotate(159 1364.7 183.0)" fill="#a09aa8" opacity="0.35"/>
<ellipse cx="1237.8" cy="202.3" rx="8.7" ry="6.9" transform="rotate(29 1237.8 202.3)" fill="#86809a" opacity="0.88"/>
<ellipse cx="1237.8" cy="202.3" rx="4.8" ry="3.5" transform="rotate(29 1237.8 202.3)" fill="#a09aa8" opacity="0.35"/>
<ellipse cx="1354.1" cy="205.9" rx="7.2" ry="5.5" transform="rotate(133 1354.1 205.9)" fill="#6e6a8a" opacity="0.88"/>
<ellipse cx="1354.1" cy="205.9" rx="4.0" ry="2.8" transform="rotate(133 1354.1 205.9)" fill="#a09aa8" opacity="0.35"/>
<ellipse cx="1318.0" cy="98.9" rx="7.3" ry="6.2" transform="rotate(33 1318.0 98.9)" fill="#62658e" opacity="0.88"/>
<ellipse cx="1318.0" cy="98.9" rx="4.0" ry="3.1" transform="rotate(33 1318.0 98.9)" fill="#a09aa8" opacity="0.35"/>
<ellipse cx="1351.9" cy="90.5" rx="8.9" ry="7.3" transform="rotate(76 1351.9 90.5)" fill="#86809a" opacity="0.88"/>
<ellipse cx="1351.9" cy="90.5" rx="4.9" ry="3.7" transform="rotate(76 1351.9 90.5)" fill="#a09aa8" opacity="0.35"/>
<ellipse cx="1320.7" cy="163.1" rx="8.8" ry="6.1" transform="rotate(68 1320.7 163.1)" fill="#62658e" opacity="0.88"/>
<ellipse cx="1320.7" cy="163.1" rx="4.8" ry="3.0" transform="rotate(68 1320.7 163.1)" fill="#a09aa8" opacity="0.35"/>
<ellipse cx="1312.9" cy="95.1" rx="9.4" ry="7.4" transform="rotate(125 1312.9 95.1)" fill="#7a6e7e" opacity="0.88"/>
<ellipse cx="1312.9" cy="95.1" rx="5.2" ry="3.7" transform="rotate(125 1312.9 95.1)" fill="#a09aa8" opacity="0.35"/>
<ellipse cx="1338.3" cy="215.9" rx="8.4" ry="6.5" transform="rotate(114 1338.3 215.9)" fill="#62658e" opacity="0.88"/>
<ellipse cx="1338.3" cy="215.9" rx="4.6" ry="3.3" transform="rotate(114 1338.3 215.9)" fill="#a09aa8" opacity="0.35"/>
<ellipse cx="1255.9" cy="216.9" rx="6.2" ry="5.3" transform="rotate(21 1255.9 216.9)" fill="#7a6e7e" opacity="0.88"/>
<ellipse cx="1255.9" cy="216.9" rx="3.4" ry="2.7" transform="rotate(21 1255.9 216.9)" fill="#a09aa8" opacity="0.35"/>
<ellipse cx="1181.9" cy="104.6" rx="9.5" ry="6.5" transform="rotate(59 1181.9 104.6)" fill="#86809a" opacity="0.88"/>
<ellipse cx="1181.9" cy="104.6" rx="5.2" ry="3.3" transform="rotate(59 1181.9 104.6)" fill="#a09aa8" opacity="0.35"/>
<ellipse cx="1178.5" cy="149.1" rx="6.6" ry="4.4" transform="rotate(79 1178.5 149.1)" fill="#7d6a70" opacity="0.88"/>
<ellipse cx="1178.5" cy="149.1" rx="3.6" ry="2.2" transform="rotate(79 1178.5 149.1)" fill="#a09aa8" opacity="0.35"/>
<ellipse cx="1354.8" cy="167.7" rx="7.4" ry="6.2" transform="rotate(138 1354.8 167.7)" fill="#7a6e7e" opacity="0.88"/>
<ellipse cx="1354.8" cy="167.7" rx="4.1" ry="3.1" transform="rotate(138 1354.8 167.7)" fill="#a09aa8" opacity="0.35"/>
<ellipse cx="1378.0" cy="122.6" rx="7.9" ry="7.0" transform="rotate(26 1378.0 122.6)" fill="#7a6e7e" opacity="0.88"/>
<ellipse cx="1378.0" cy="122.6" rx="4.4" ry="3.5" transform="rotate(26 1378.0 122.6)" fill="#a09aa8" opacity="0.35"/>
<ellipse cx="1209.6" cy="73.6" rx="9.1" ry="7.1" transform="rotate(27 1209.6 73.6)" fill="#62658e" opacity="0.88"/>
<ellipse cx="1209.6" cy="73.6" rx="5.0" ry="3.5" transform="rotate(27 1209.6 73.6)" fill="#a09aa8" opacity="0.35"/>
<ellipse cx="1357.8" cy="101.9" rx="6.5" ry="5.4" transform="rotate(49 1357.8 101.9)" fill="#86809a" opacity="0.88"/>
<ellipse cx="1357.8" cy="101.9" rx="3.6" ry="2.7" transform="rotate(49 1357.8 101.9)" fill="#a09aa8" opacity="0.35"/>
<ellipse cx="1220.6" cy="138.7" rx="7.9" ry="6.5" transform="rotate(27 1220.6 138.7)" fill="#62658e" opacity="0.88"/>
<ellipse cx="1220.6" cy="138.7" rx="4.4" ry="3.2" transform="rotate(27 1220.6 138.7)" fill="#a09aa8" opacity="0.35"/>
<ellipse cx="1174.5" cy="187.0" rx="6.0" ry="4.5" transform="rotate(25 1174.5 187.0)" fill="#6e6a8a" opacity="0.88"/>
<ellipse cx="1174.5" cy="187.0" rx="3.3" ry="2.3" transform="rotate(25 1174.5 187.0)" fill="#a09aa8" opacity="0.35"/>
<ellipse cx="1337.9" cy="227.0" rx="7.7" ry="6.0" transform="rotate(145 1337.9 227.0)" fill="#7d6a70" opacity="0.88"/>
<ellipse cx="1337.9" cy="227.0" rx="4.2" ry="3.0" transform="rotate(145 1337.9 227.0)" fill="#a09aa8" opacity="0.35"/>
<ellipse cx="1255.8" cy="65.0" rx="8.2" ry="7.3" transform="rotate(45 1255.8 65.0)" fill="#86809a" opacity="0.88"/>
<ellipse cx="1255.8" cy="65.0" rx="4.5" ry="3.7" transform="rotate(45 1255.8 65.0)" fill="#a09aa8" opacity="0.35"/>
<ellipse cx="1212.4" cy="105.5" rx="9.5" ry="7.4" transform="rotate(150 1212.4 105.5)" fill="#7a6e7e" opacity="0.88"/>
<ellipse cx="1212.4" cy="105.5" rx="5.2" ry="3.7" transform="rotate(150 1212.4 105.5)" fill="#a09aa8" opacity="0.35"/>
<ellipse cx="1324.5" cy="85.5" rx="9.3" ry="7.6" transform="rotate(121 1324.5 85.5)" fill="#6e6a8a" opacity="0.88"/>
<ellipse cx="1324.5" cy="85.5" rx="5.1" ry="3.8" transform="rotate(121 1324.5 85.5)" fill="#a09aa8" opacity="0.35"/>
<ellipse cx="1229.6" cy="59.2" rx="7.1" ry="5.7" transform="rotate(2 1229.6 59.2)" fill="#86809a" opacity="0.88"/>
<ellipse cx="1229.6" cy="59.2" rx="3.9" ry="2.8" transform="rotate(2 1229.6 59.2)" fill="#a09aa8" opacity="0.35"/>
<ellipse cx="1216.9" cy="221.4" rx="8.7" ry="6.3" transform="rotate(44 1216.9 221.4)" fill="#6e6a8a" opacity="0.88"/>
<ellipse cx="1216.9" cy="221.4" rx="4.8" ry="3.2" transform="rotate(44 1216.9 221.4)" fill="#a09aa8" opacity="0.35"/>
<ellipse cx="1366.2" cy="140.9" rx="8.8" ry="7.9" transform="rotate(138 1366.2 140.9)" fill="#62658e" opacity="0.88"/>
<ellipse cx="1366.2" cy="140.9" rx="4.8" ry="4.0" transform="rotate(138 1366.2 140.9)" fill="#a09aa8" opacity="0.35"/>
<ellipse cx="1379.1" cy="72.5" rx="7.4" ry="6.4" transform="rotate(45 1379.1 72.5)" fill="#7d6a70" opacity="0.88"/>
<ellipse cx="1379.1" cy="72.5" rx="4.1" ry="3.2" transform="rotate(45 1379.1 72.5)" fill="#a09aa8" opacity="0.35"/>
<ellipse cx="1363.1" cy="59.1" rx="6.5" ry="4.9" transform="rotate(130 1363.1 59.1)" fill="#86809a" opacity="0.88"/>
<ellipse cx="1363.1" cy="59.1" rx="3.6" ry="2.4" transform="rotate(130 1363.1 59.1)" fill="#a09aa8" opacity="0.35"/>
<ellipse cx="1278.8" cy="103.0" rx="8.2" ry="6.4" transform="rotate(56 1278.8 103.0)" fill="#62658e" opacity="0.88"/>
<ellipse cx="1278.8" cy="103.0" rx="4.5" ry="3.2" transform="rotate(56 1278.8 103.0)" fill="#a09aa8" opacity="0.35"/>
<ellipse cx="1186.9" cy="168.4" rx="6.3" ry="4.7" transform="rotate(133 1186.9 168.4)" fill="#86809a" opacity="0.88"/>
<ellipse cx="1186.9" cy="168.4" rx="3.5" ry="2.4" transform="rotate(133 1186.9 168.4)" fill="#a09aa8" opacity="0.35"/>
<ellipse cx="1217.2" cy="183.9" rx="7.1" ry="5.0" transform="rotate(63 1217.2 183.9)" fill="#86809a" opacity="0.88"/>
<ellipse cx="1217.2" cy="183.9" rx="3.9" ry="2.5" transform="rotate(63 1217.2 183.9)" fill="#a09aa8" opacity="0.35"/>
<ellipse cx="1205.5" cy="119.7" rx="7.5" ry="4.9" transform="rotate(90 1205.5 119.7)" fill="#7a6e7e" opacity="0.88"/>
<ellipse cx="1205.5" cy="119.7" rx="4.1" ry="2.5" transform="rotate(90 1205.5 119.7)" fill="#a09aa8" opacity="0.35"/>
<ellipse cx="1257.3" cy="110.8" rx="8.9" ry="7.9" transform="rotate(4 1257.3 110.8)" fill="#86809a" opacity="0.88"/>
<ellipse cx="1257.3" cy="110.8" rx="4.9" ry="3.9" transform="rotate(4 1257.3 110.8)" fill="#a09aa8" opacity="0.35"/>
<ellipse cx="1209.5" cy="66.5" rx="6.4" ry="6.0" transform="rotate(77 1209.5 66.5)" fill="#86809a" opacity="0.88"/>
<ellipse cx="1209.5" cy="66.5" rx="3.5" ry="3.0" transform="rotate(77 1209.5 66.5)" fill="#a09aa8" opacity="0.35"/>
<ellipse cx="1374.2" cy="93.1" rx="8.7" ry="8.0" transform="rotate(146 1374.2 93.1)" fill="#7d6a70" opacity="0.88"/>
<ellipse cx="1374.2" cy="93.1" rx="4.8" ry="4.0" transform="rotate(146 1374.2 93.1)" fill="#a09aa8" opacity="0.35"/>
<ellipse cx="1187.6" cy="122.7" rx="9.1" ry="8.0" transform="rotate(95 1187.6 122.7)" fill="#62658e" opacity="0.88"/>
<ellipse cx="1187.6" cy="122.7" rx="5.0" ry="4.0" transform="rotate(95 1187.6 122.7)" fill="#a09aa8" opacity="0.35"/>
<ellipse cx="1175.1" cy="181.7" rx="9.2" ry="6.1" transform="rotate(111 1175.1 181.7)" fill="#7d6a70" opacity="0.88"/>
<ellipse cx="1175.1" cy="181.7" rx="5.1" ry="3.1" transform="rotate(111 1175.1 181.7)" fill="#a09aa8" opacity="0.35"/>
<ellipse cx="1245.0" cy="131.2" rx="7.8" ry="6.4" transform="rotate(21 1245.0 131.2)" fill="#7d6a70" opacity="0.88"/>
<ellipse cx="1245.0" cy="131.2" rx="4.3" ry="3.2" transform="rotate(21 1245.0 131.2)" fill="#a09aa8" opacity="0.35"/>
<ellipse cx="1348.0" cy="174.7" rx="7.5" ry="5.9" transform="rotate(151 1348.0 174.7)" fill="#7d6a70" opacity="0.88"/>
<ellipse cx="1348.0" cy="174.7" rx="4.1" ry="3.0" transform="rotate(151 1348.0 174.7)" fill="#a09aa8" opacity="0.35"/>
<ellipse cx="1277.8" cy="120.1" rx="8.0" ry="6.4" transform="rotate(6 1277.8 120.1)" fill="#86809a" opacity="0.88"/>
<ellipse cx="1277.8" cy="120.1" rx="4.4" ry="3.2" transform="rotate(6 1277.8 120.1)" fill="#a09aa8" opacity="0.35"/>
<ellipse cx="1304.1" cy="132.5" rx="6.2" ry="4.1" transform="rotate(58 1304.1 132.5)" fill="#86809a" opacity="0.88"/>
<ellipse cx="1304.1" cy="132.5" rx="3.4" ry="2.1" transform="rotate(58 1304.1 132.5)" fill="#a09aa8" opacity="0.35"/>
<ellipse cx="1285.2" cy="111.9" rx="8.6" ry="6.4" transform="rotate(133 1285.2 111.9)" fill="#62658e" opacity="0.88"/>
<ellipse cx="1285.2" cy="111.9" rx="4.7" ry="3.2" transform="rotate(133 1285.2 111.9)" fill="#a09aa8" opacity="0.35"/>
<ellipse cx="1379.8" cy="124.8" rx="8.6" ry="7.9" transform="rotate(20 1379.8 124.8)" fill="#7a6e7e" opacity="0.88"/>
<ellipse cx="1379.8" cy="124.8" rx="4.7" ry="4.0" transform="rotate(20 1379.8 124.8)" fill="#a09aa8" opacity="0.35"/>
<ellipse cx="1212.1" cy="215.3" rx="8.9" ry="7.9" transform="rotate(92 1212.1 215.3)" fill="#7a6e7e" opacity="0.88"/>
<ellipse cx="1212.1" cy="215.3" rx="4.9" ry="4.0" transform="rotate(92 1212.1 215.3)" fill="#a09aa8" opacity="0.35"/>
<ellipse cx="1380.7" cy="66.2" rx="8.5" ry="6.2" transform="rotate(145 1380.7 66.2)" fill="#6e6a8a" opacity="0.88"/>
<ellipse cx="1380.7" cy="66.2" rx="4.7" ry="3.1" transform="rotate(145 1380.7 66.2)" fill="#a09aa8" opacity="0.35"/>
<ellipse cx="1267.9" cy="148.1" rx="6.7" ry="4.9" transform="rotate(116 1267.9 148.1)" fill="#7d6a70" opacity="0.88"/>
<ellipse cx="1267.9" cy="148.1" rx="3.7" ry="2.5" transform="rotate(116 1267.9 148.1)" fill="#a09aa8" opacity="0.35"/>
<ellipse cx="1188.4" cy="151.3" rx="9.1" ry="6.1" transform="rotate(89 1188.4 151.3)" fill="#7d6a70" opacity="0.88"/>
<ellipse cx="1188.4" cy="151.3" rx="5.0" ry="3.0" transform="rotate(89 1188.4 151.3)" fill="#a09aa8" opacity="0.35"/>
<ellipse cx="1184.7" cy="205.9" rx="8.8" ry="6.1" transform="rotate(66 1184.7 205.9)" fill="#6e6a8a" opacity="0.88"/>
<ellipse cx="1184.7" cy="205.9" rx="4.8" ry="3.1" transform="rotate(66 1184.7 205.9)" fill="#a09aa8" opacity="0.35"/>
<ellipse cx="1194.0" cy="61.4" rx="9.3" ry="6.7" transform="rotate(52 1194.0 61.4)" fill="#62658e" opacity="0.88"/>
<ellipse cx="1194.0" cy="61.4" rx="5.1" ry="3.3" transform="rotate(52 1194.0 61.4)" fill="#a09aa8" opacity="0.35"/>
<ellipse cx="1260.0" cy="161.6" rx="9.0" ry="7.5" transform="rotate(162 1260.0 161.6)" fill="#6e6a8a" opacity="0.88"/>
<ellipse cx="1260.0" cy="161.6" rx="4.9" ry="3.7" transform="rotate(162 1260.0 161.6)" fill="#a09aa8" opacity="0.35"/>
<ellipse cx="1188.0" cy="226.4" rx="7.9" ry="5.9" transform="rotate(172 1188.0 226.4)" fill="#7a6e7e" opacity="0.88"/>
<ellipse cx="1188.0" cy="226.4" rx="4.3" ry="2.9" transform="rotate(172 1188.0 226.4)" fill="#a09aa8" opacity="0.35"/>
<ellipse cx="1375.8" cy="152.2" rx="7.3" ry="6.6" transform="rotate(126 1375.8 152.2)" fill="#7d6a70" opacity="0.88"/>
<ellipse cx="1375.8" cy="152.2" rx="4.0" ry="3.3" transform="rotate(126 1375.8 152.2)" fill="#a09aa8" opacity="0.35"/>
<ellipse cx="1349.5" cy="219.1" rx="6.7" ry="4.8" transform="rotate(138 1349.5 219.1)" fill="#86809a" opacity="0.88"/>
<ellipse cx="1349.5" cy="219.1" rx="3.7" ry="2.4" transform="rotate(138 1349.5 219.1)" fill="#a09aa8" opacity="0.35"/>
<ellipse cx="1208.8" cy="155.7" rx="6.5" ry="4.4" transform="rotate(169 1208.8 155.7)" fill="#6e6a8a" opacity="0.88"/>
<ellipse cx="1208.8" cy="155.7" rx="3.5" ry="2.2" transform="rotate(169 1208.8 155.7)" fill="#a09aa8" opacity="0.35"/>
<ellipse cx="1300.5" cy="117.0" rx="6.0" ry="4.0" transform="rotate(37 1300.5 117.0)" fill="#7a6e7e" opacity="0.88"/>
<ellipse cx="1300.5" cy="117.0" rx="3.3" ry="2.0" transform="rotate(37 1300.5 117.0)" fill="#a09aa8" opacity="0.35"/>
<ellipse cx="1323.0" cy="206.0" rx="6.7" ry="4.5" transform="rotate(48 1323.0 206.0)" fill="#7d6a70" opacity="0.88"/>
<ellipse cx="1323.0" cy="206.0" rx="3.7" ry="2.2" transform="rotate(48 1323.0 206.0)" fill="#a09aa8" opacity="0.35"/>
<ellipse cx="1251.3" cy="161.3" rx="7.6" ry="6.1" transform="rotate(169 1251.3 161.3)" fill="#62658e" opacity="0.88"/>
<ellipse cx="1251.3" cy="161.3" rx="4.2" ry="3.0" transform="rotate(169 1251.3 161.3)" fill="#a09aa8" opacity="0.35"/>
<ellipse cx="1245.4" cy="177.1" rx="7.7" ry="5.3" transform="rotate(22 1245.4 177.1)" fill="#7a6e7e" opacity="0.88"/>
<ellipse cx="1245.4" cy="177.1" rx="4.2" ry="2.6" transform="rotate(22 1245.4 177.1)" fill="#a09aa8" opacity="0.35"/>
<ellipse cx="1356.2" cy="220.2" rx="8.4" ry="6.6" transform="rotate(168 1356.2 220.2)" fill="#6e6a8a" opacity="0.88"/>
<ellipse cx="1356.2" cy="220.2" rx="4.6" ry="3.3" transform="rotate(168 1356.2 220.2)" fill="#a09aa8" opacity="0.35"/>
<ellipse cx="1254.0" cy="184.0" rx="6.8" ry="5.7" transform="rotate(66 1254.0 184.0)" fill="#86809a" opacity="0.88"/>
<ellipse cx="1254.0" cy="184.0" rx="3.7" ry="2.9" transform="rotate(66 1254.0 184.0)" fill="#a09aa8" opacity="0.35"/>
<ellipse cx="1242.7" cy="156.4" rx="7.0" ry="6.0" transform="rotate(121 1242.7 156.4)" fill="#62658e" opacity="0.88"/>
<ellipse cx="1242.7" cy="156.4" rx="3.9" ry="3.0" transform="rotate(121 1242.7 156.4)" fill="#a09aa8" opacity="0.35"/>
<ellipse cx="1224.1" cy="126.4" rx="8.1" ry="7.3" transform="rotate(70 1224.1 126.4)" fill="#7a6e7e" opacity="0.88"/>
<ellipse cx="1224.1" cy="126.4" rx="4.4" ry="3.7" transform="rotate(70 1224.1 126.4)" fill="#a09aa8" opacity="0.35"/>
<ellipse cx="1231.2" cy="72.7" rx="6.4" ry="5.4" transform="rotate(82 1231.2 72.7)" fill="#86809a" opacity="0.88"/>
<ellipse cx="1231.2" cy="72.7" rx="3.5" ry="2.7" transform="rotate(82 1231.2 72.7)" fill="#a09aa8" opacity="0.35"/>
<ellipse cx="1216.7" cy="192.1" rx="7.3" ry="6.3" transform="rotate(120 1216.7 192.1)" fill="#6e6a8a" opacity="0.88"/>
<ellipse cx="1216.7" cy="192.1" rx="4.0" ry="3.2" transform="rotate(120 1216.7 192.1)" fill="#a09aa8" opacity="0.35"/>
<ellipse cx="1244.9" cy="210.8" rx="8.3" ry="5.8" transform="rotate(13 1244.9 210.8)" fill="#6e6a8a" opacity="0.88"/>
<ellipse cx="1244.9" cy="210.8" rx="4.6" ry="2.9" transform="rotate(13 1244.9 210.8)" fill="#a09aa8" opacity="0.35"/>
<ellipse cx="1208.6" cy="142.7" rx="8.3" ry="6.9" transform="rotate(175 1208.6 142.7)" fill="#7d6a70" opacity="0.88"/>
<ellipse cx="1208.6" cy="142.7" rx="4.6" ry="3.5" transform="rotate(175 1208.6 142.7)" fill="#a09aa8" opacity="0.35"/>
<ellipse cx="1377.1" cy="227.2" rx="7.5" ry="5.4" transform="rotate(97 1377.1 227.2)" fill="#7d6a70" opacity="0.88"/>
<ellipse cx="1377.1" cy="227.2" rx="4.1" ry="2.7" transform="rotate(97 1377.1 227.2)" fill="#a09aa8" opacity="0.35"/>
<ellipse cx="1196.0" cy="65.0" rx="8.3" ry="7.4" transform="rotate(168 1196.0 65.0)" fill="#7d6a70" opacity="0.88"/>
<ellipse cx="1196.0" cy="65.0" rx="4.6" ry="3.7" transform="rotate(168 1196.0 65.0)" fill="#a09aa8" opacity="0.35"/>
<ellipse cx="1281.2" cy="156.4" rx="7.3" ry="5.1" transform="rotate(71 1281.2 156.4)" fill="#7d6a70" opacity="0.88"/>
<ellipse cx="1281.2" cy="156.4" rx="4.0" ry="2.5" transform="rotate(71 1281.2 156.4)" fill="#a09aa8" opacity="0.35"/>
<ellipse cx="1328.0" cy="69.5" rx="9.4" ry="8.0" transform="rotate(142 1328.0 69.5)" fill="#7a6e7e" opacity="0.88"/>
<ellipse cx="1328.0" cy="69.5" rx="5.1" ry="4.0" transform="rotate(142 1328.0 69.5)" fill="#a09aa8" opacity="0.35"/>
<ellipse cx="1362.4" cy="170.1" rx="8.7" ry="6.0" transform="rotate(84 1362.4 170.1)" fill="#7d6a70" opacity="0.88"/>
<ellipse cx="1362.4" cy="170.1" rx="4.8" ry="3.0" transform="rotate(84 1362.4 170.1)" fill="#a09aa8" opacity="0.35"/>
<ellipse cx="1176.3" cy="204.2" rx="6.4" ry="4.9" transform="rotate(101 1176.3 204.2)" fill="#6e6a8a" opacity="0.88"/>
<ellipse cx="1176.3" cy="204.2" rx="3.5" ry="2.5" transform="rotate(101 1176.3 204.2)" fill="#a09aa8" opacity="0.35"/>
<ellipse cx="1376.7" cy="189.7" rx="7.1" ry="5.7" transform="rotate(22 1376.7 189.7)" fill="#6e6a8a" opacity="0.88"/>
<ellipse cx="1376.7" cy="189.7" rx="3.9" ry="2.8" transform="rotate(22 1376.7 189.7)" fill="#a09aa8" opacity="0.35"/>
<ellipse cx="1291.7" cy="77.5" rx="7.8" ry="5.8" transform="rotate(63 1291.7 77.5)" fill="#6e6a8a" opacity="0.88"/>
<ellipse cx="1291.7" cy="77.5" rx="4.3" ry="2.9" transform="rotate(63 1291.7 77.5)" fill="#a09aa8" opacity="0.35"/>
<ellipse cx="1224.4" cy="157.5" rx="6.2" ry="4.4" transform="rotate(81 1224.4 157.5)" fill="#7d6a70" opacity="0.88"/>
<ellipse cx="1224.4" cy="157.5" rx="3.4" ry="2.2" transform="rotate(81 1224.4 157.5)" fill="#a09aa8" opacity="0.35"/>
<ellipse cx="1289.6" cy="134.7" rx="8.8" ry="7.1" transform="rotate(26 1289.6 134.7)" fill="#6e6a8a" opacity="0.88"/>
<ellipse cx="1289.6" cy="134.7" rx="4.9" ry="3.5" transform="rotate(26 1289.6 134.7)" fill="#a09aa8" opacity="0.35"/>
<ellipse cx="1290.9" cy="85.1" rx="8.1" ry="7.4" transform="rotate(173 1290.9 85.1)" fill="#86809a" opacity="0.88"/>
<ellipse cx="1290.9" cy="85.1" rx="4.5" ry="3.7" transform="rotate(173 1290.9 85.1)" fill="#a09aa8" opacity="0.35"/>
<ellipse cx="1259.4" cy="56.9" rx="8.8" ry="6.0" transform="rotate(133 1259.4 56.9)" fill="#7a6e7e" opacity="0.88"/>
<ellipse cx="1259.4" cy="56.9" rx="4.8" ry="3.0" transform="rotate(133 1259.4 56.9)" fill="#a09aa8" opacity="0.35"/>
<ellipse cx="1251.7" cy="106.0" rx="6.1" ry="4.2" transform="rotate(54 1251.7 106.0)" fill="#86809a" opacity="0.88"/>
<ellipse cx="1251.7" cy="106.0" rx="3.4" ry="2.1" transform="rotate(54 1251.7 106.0)" fill="#a09aa8" opacity="0.35"/>
<ellipse cx="1374.9" cy="166.6" rx="7.4" ry="5.4" transform="rotate(39 1374.9 166.6)" fill="#6e6a8a" opacity="0.88"/>
<ellipse cx="1374.9" cy="166.6" rx="4.1" ry="2.7" transform="rotate(39 1374.9 166.6)" fill="#a09aa8" opacity="0.35"/>
<ellipse cx="1285.2" cy="169.0" rx="7.2" ry="5.7" transform="rotate(118 1285.2 169.0)" fill="#7d6a70" opacity="0.88"/>
<ellipse cx="1285.2" cy="169.0" rx="3.9" ry="2.8" transform="rotate(118 1285.2 169.0)" fill="#a09aa8" opacity="0.35"/>
<ellipse cx="1358.3" cy="219.2" rx="9.4" ry="8.8" transform="rotate(17 1358.3 219.2)" fill="#86809a" opacity="0.88"/>
<ellipse cx="1358.3" cy="219.2" rx="5.2" ry="4.4" transform="rotate(17 1358.3 219.2)" fill="#a09aa8" opacity="0.35"/>
<ellipse cx="1303.8" cy="101.4" rx="6.9" ry="5.2" transform="rotate(77 1303.8 101.4)" fill="#86809a" opacity="0.88"/>
<ellipse cx="1303.8" cy="101.4" rx="3.8" ry="2.6" transform="rotate(77 1303.8 101.4)" fill="#a09aa8" opacity="0.35"/>
<ellipse cx="1272.7" cy="117.2" rx="7.2" ry="4.9" transform="rotate(56 1272.7 117.2)" fill="#7d6a70" opacity="0.88"/>
<ellipse cx="1272.7" cy="117.2" rx="3.9" ry="2.5" transform="rotate(56 1272.7 117.2)" fill="#a09aa8" opacity="0.35"/>
<ellipse cx="1284.0" cy="83.3" rx="7.9" ry="6.1" transform="rotate(40 1284.0 83.3)" fill="#7d6a70" opacity="0.88"/>
<ellipse cx="1284.0" cy="83.3" rx="4.4" ry="3.0" transform="rotate(40 1284.0 83.3)" fill="#a09aa8" opacity="0.35"/>
<ellipse cx="1193.7" cy="119.5" rx="7.3" ry="6.8" transform="rotate(94 1193.7 119.5)" fill="#62658e" opacity="0.88"/>
<ellipse cx="1193.7" cy="119.5" rx="4.0" ry="3.4" transform="rotate(94 1193.7 119.5)" fill="#a09aa8" opacity="0.35"/>
<ellipse cx="1283.1" cy="182.2" rx="7.4" ry="7.0" transform="rotate(1 1283.1 182.2)" fill="#62658e" opacity="0.88"/>
<ellipse cx="1283.1" cy="182.2" rx="4.1" ry="3.5" transform="rotate(1 1283.1 182.2)" fill="#a09aa8" opacity="0.35"/>
<ellipse cx="1297.0" cy="221.7" rx="9.4" ry="8.0" transform="rotate(151 1297.0 221.7)" fill="#62658e" opacity="0.88"/>
<ellipse cx="1297.0" cy="221.7" rx="5.2" ry="4.0" transform="rotate(151 1297.0 221.7)" fill="#a09aa8" opacity="0.35"/>
<ellipse cx="1216.8" cy="187.3" rx="7.1" ry="5.7" transform="rotate(93 1216.8 187.3)" fill="#6e6a8a" opacity="0.88"/>
<ellipse cx="1216.8" cy="187.3" rx="3.9" ry="2.8" transform="rotate(93 1216.8 187.3)" fill="#a09aa8" opacity="0.35"/>
<ellipse cx="1330.5" cy="64.2" rx="6.7" ry="5.6" transform="rotate(145 1330.5 64.2)" fill="#6e6a8a" opacity="0.88"/>
<ellipse cx="1330.5" cy="64.2" rx="3.7" ry="2.8" transform="rotate(145 1330.5 64.2)" fill="#a09aa8" opacity="0.35"/>
<ellipse cx="1370.2" cy="167.3" rx="7.4" ry="5.5" transform="rotate(122 1370.2 167.3)" fill="#62658e" opacity="0.88"/>
<ellipse cx="1370.2" cy="167.3" rx="4.1" ry="2.7" transform="rotate(122 1370.2 167.3)" fill="#a09aa8" opacity="0.35"/>
<ellipse cx="1190.9" cy="225.7" rx="7.1" ry="5.3" transform="rotate(147 1190.9 225.7)" fill="#62658e" opacity="0.88"/>
<ellipse cx="1190.9" cy="225.7" rx="3.9" ry="2.7" transform="rotate(147 1190.9 225.7)" fill="#a09aa8" opacity="0.35"/>
<ellipse cx="1337.8" cy="166.4" rx="9.5" ry="7.6" transform="rotate(71 1337.8 166.4)" fill="#6e6a8a" opacity="0.88"/>
<ellipse cx="1337.8" cy="166.4" rx="5.2" ry="3.8" transform="rotate(71 1337.8 166.4)" fill="#a09aa8" opacity="0.35"/>
<ellipse cx="1190.5" cy="79.0" rx="8.2" ry="5.4" transform="rotate(168 1190.5 79.0)" fill="#62658e" opacity="0.88"/>
<ellipse cx="1190.5" cy="79.0" rx="4.5" ry="2.7" transform="rotate(168 1190.5 79.0)" fill="#a09aa8" opacity="0.35"/>
<ellipse cx="1330.3" cy="155.6" rx="8.9" ry="7.1" transform="rotate(60 1330.3 155.6)" fill="#6e6a8a" opacity="0.88"/>
<ellipse cx="1330.3" cy="155.6" rx="4.9" ry="3.5" transform="rotate(60 1330.3 155.6)" fill="#a09aa8" opacity="0.35"/>
<ellipse cx="1303.7" cy="213.5" rx="6.6" ry="4.5" transform="rotate(123 1303.7 213.5)" fill="#6e6a8a" opacity="0.88"/>
<ellipse cx="1303.7" cy="213.5" rx="3.6" ry="2.2" transform="rotate(123 1303.7 213.5)" fill="#a09aa8" opacity="0.35"/>
<ellipse cx="1202.3" cy="186.3" rx="8.8" ry="6.9" transform="rotate(162 1202.3 186.3)" fill="#7d6a70" opacity="0.88"/>
<ellipse cx="1202.3" cy="186.3" rx="4.8" ry="3.4" transform="rotate(162 1202.3 186.3)" fill="#a09aa8" opacity="0.35"/>
<ellipse cx="1325.1" cy="199.9" rx="8.3" ry="6.8" transform="rotate(20 1325.1 199.9)" fill="#62658e" opacity="0.88"/>
<ellipse cx="1325.1" cy="199.9" rx="4.6" ry="3.4" transform="rotate(20 1325.1 199.9)" fill="#a09aa8" opacity="0.35"/>
<ellipse cx="1197.7" cy="108.8" rx="6.4" ry="5.8" transform="rotate(17 1197.7 108.8)" fill="#86809a" opacity="0.88"/>
<ellipse cx="1197.7" cy="108.8" rx="3.5" ry="2.9" transform="rotate(17 1197.7 108.8)" fill="#a09aa8" opacity="0.35"/>
<ellipse cx="1240.7" cy="79.3" rx="6.5" ry="4.8" transform="rotate(73 1240.7 79.3)" fill="#6e6a8a" opacity="0.88"/>
<ellipse cx="1240.7" cy="79.3" rx="3.6" ry="2.4" transform="rotate(73 1240.7 79.3)" fill="#a09aa8" opacity="0.35"/>
<ellipse cx="1360.4" cy="216.4" rx="8.4" ry="7.8" transform="rotate(89 1360.4 216.4)" fill="#7a6e7e" opacity="0.88"/>
<ellipse cx="1360.4" cy="216.4" rx="4.6" ry="3.9" transform="rotate(89 1360.4 216.4)" fill="#a09aa8" opacity="0.35"/>
<ellipse cx="1317.1" cy="122.3" rx="6.4" ry="5.6" transform="rotate(30 1317.1 122.3)" fill="#7d6a70" opacity="0.88"/>
<ellipse cx="1317.1" cy="122.3" rx="3.5" ry="2.8" transform="rotate(30 1317.1 122.3)" fill="#a09aa8" opacity="0.35"/>
<ellipse cx="1295.4" cy="90.1" rx="8.9" ry="7.5" transform="rotate(68 1295.4 90.1)" fill="#62658e" opacity="0.88"/>
<ellipse cx="1295.4" cy="90.1" rx="4.9" ry="3.8" transform="rotate(68 1295.4 90.1)" fill="#a09aa8" opacity="0.35"/>
<ellipse cx="1340.8" cy="173.6" rx="8.0" ry="7.2" transform="rotate(64 1340.8 173.6)" fill="#7d6a70" opacity="0.88"/>
<ellipse cx="1340.8" cy="173.6" rx="4.4" ry="3.6" transform="rotate(64 1340.8 173.6)" fill="#a09aa8" opacity="0.35"/>
<ellipse cx="1295.0" cy="138.4" rx="7.1" ry="6.1" transform="rotate(42 1295.0 138.4)" fill="#7d6a70" opacity="0.88"/>
<ellipse cx="1295.0" cy="138.4" rx="3.9" ry="3.1" transform="rotate(42 1295.0 138.4)" fill="#a09aa8" opacity="0.35"/>
<ellipse cx="1227.6" cy="181.7" rx="6.2" ry="5.7" transform="rotate(144 1227.6 181.7)" fill="#86809a" opacity="0.88"/>
<ellipse cx="1227.6" cy="181.7" rx="3.4" ry="2.9" transform="rotate(144 1227.6 181.7)" fill="#a09aa8" opacity="0.35"/>
<ellipse cx="1226.3" cy="97.2" rx="7.5" ry="6.3" transform="rotate(101 1226.3 97.2)" fill="#7a6e7e" opacity="0.88"/>
<ellipse cx="1226.3" cy="97.2" rx="4.1" ry="3.1" transform="rotate(101 1226.3 97.2)" fill="#a09aa8" opacity="0.35"/>
<ellipse cx="1376.9" cy="212.8" rx="7.4" ry="5.0" transform="rotate(34 1376.9 212.8)" fill="#7d6a70" opacity="0.88"/>
<ellipse cx="1376.9" cy="212.8" rx="4.0" ry="2.5" transform="rotate(34 1376.9 212.8)" fill="#a09aa8" opacity="0.35"/>
<ellipse cx="1302.6" cy="172.9" rx="9.0" ry="5.9" transform="rotate(126 1302.6 172.9)" fill="#86809a" opacity="0.88"/>
<ellipse cx="1302.6" cy="172.9" rx="4.9" ry="3.0" transform="rotate(126 1302.6 172.9)" fill="#a09aa8" opacity="0.35"/>
<ellipse cx="1291.7" cy="150.7" rx="7.7" ry="6.0" transform="rotate(175 1291.7 150.7)" fill="#62658e" opacity="0.88"/>
<ellipse cx="1291.7" cy="150.7" rx="4.2" ry="3.0" transform="rotate(175 1291.7 150.7)" fill="#a09aa8" opacity="0.35"/>
<ellipse cx="1247.6" cy="107.4" rx="8.7" ry="6.3" transform="rotate(36 1247.6 107.4)" fill="#7a6e7e" opacity="0.88"/>
<ellipse cx="1247.6" cy="107.4" rx="4.8" ry="3.1" transform="rotate(36 1247.6 107.4)" fill="#a09aa8" opacity="0.35"/>
<ellipse cx="1284.8" cy="160.8" rx="6.6" ry="4.6" transform="rotate(30 1284.8 160.8)" fill="#6e6a8a" opacity="0.88"/>
<ellipse cx="1284.8" cy="160.8" rx="3.6" ry="2.3" transform="rotate(30 1284.8 160.8)" fill="#a09aa8" opacity="0.35"/>
<ellipse cx="1381.2" cy="119.0" rx="7.3" ry="6.8" transform="rotate(129 1381.2 119.0)" fill="#62658e" opacity="0.88"/>
<ellipse cx="1381.2" cy="119.0" rx="4.0" ry="3.4" transform="rotate(129 1381.2 119.0)" fill="#a09aa8" opacity="0.35"/>
<ellipse cx="1233.8" cy="203.8" rx="6.4" ry="4.8" transform="rotate(31 1233.8 203.8)" fill="#62658e" opacity="0.88"/>
<ellipse cx="1233.8" cy="203.8" rx="3.5" ry="2.4" transform="rotate(31 1233.8 203.8)" fill="#a09aa8" opacity="0.35"/>
<ellipse cx="1358.9" cy="170.9" rx="6.9" ry="4.7" transform="rotate(87 1358.9 170.9)" fill="#62658e" opacity="0.88"/>
<ellipse cx="1358.9" cy="170.9" rx="3.8" ry="2.4" transform="rotate(87 1358.9 170.9)" fill="#a09aa8" opacity="0.35"/>
<ellipse cx="1230.0" cy="104.5" rx="9.3" ry="6.5" transform="rotate(70 1230.0 104.5)" fill="#62658e" opacity="0.88"/>
<ellipse cx="1230.0" cy="104.5" rx="5.1" ry="3.2" transform="rotate(70 1230.0 104.5)" fill="#a09aa8" opacity="0.35"/>
<ellipse cx="1344.8" cy="149.5" rx="8.1" ry="6.6" transform="rotate(132 1344.8 149.5)" fill="#7a6e7e" opacity="0.88"/>
<ellipse cx="1344.8" cy="149.5" rx="4.5" ry="3.3" transform="rotate(132 1344.8 149.5)" fill="#a09aa8" opacity="0.35"/>
<ellipse cx="1284.7" cy="169.5" rx="8.7" ry="6.3" transform="rotate(10 1284.7 169.5)" fill="#86809a" opacity="0.88"/>
<ellipse cx="1284.7" cy="169.5" rx="4.8" ry="3.2" transform="rotate(10 1284.7 169.5)" fill="#a09aa8" opacity="0.35"/>
<ellipse cx="1368.8" cy="117.9" rx="6.8" ry="5.4" transform="rotate(67 1368.8 117.9)" fill="#86809a" opacity="0.88"/>
<ellipse cx="1368.8" cy="117.9" rx="3.7" ry="2.7" transform="rotate(67 1368.8 117.9)" fill="#a09aa8" opacity="0.35"/>
<ellipse cx="1325.4" cy="218.7" rx="6.9" ry="6.0" transform="rotate(159 1325.4 218.7)" fill="#86809a" opacity="0.88"/>
<ellipse cx="1325.4" cy="218.7" rx="3.8" ry="3.0" transform="rotate(159 1325.4 218.7)" fill="#a09aa8" opacity="0.35"/>
<ellipse cx="1188.8" cy="150.4" rx="9.3" ry="7.9" transform="rotate(13 1188.8 150.4)" fill="#86809a" opacity="0.88"/>
<ellipse cx="1188.8" cy="150.4" rx="5.1" ry="3.9" transform="rotate(13 1188.8 150.4)" fill="#a09aa8" opacity="0.35"/>
<ellipse cx="1361.5" cy="72.7" rx="9.4" ry="6.6" transform="rotate(66 1361.5 72.7)" fill="#86809a" opacity="0.88"/>
<ellipse cx="1361.5" cy="72.7" rx="5.2" ry="3.3" transform="rotate(66 1361.5 72.7)" fill="#a09aa8" opacity="0.35"/>
<ellipse cx="1246.9" cy="79.4" rx="6.5" ry="5.0" transform="rotate(26 1246.9 79.4)" fill="#6e6a8a" opacity="0.88"/>
<ellipse cx="1246.9" cy="79.4" rx="3.6" ry="2.5" transform="rotate(26 1246.9 79.4)" fill="#a09aa8" opacity="0.35"/>
<ellipse cx="1361.5" cy="224.0" rx="7.9" ry="6.2" transform="rotate(122 1361.5 224.0)" fill="#86809a" opacity="0.88"/>
<ellipse cx="1361.5" cy="224.0" rx="4.3" ry="3.1" transform="rotate(122 1361.5 224.0)" fill="#a09aa8" opacity="0.35"/>
<ellipse cx="1191.0" cy="175.5" rx="7.7" ry="5.5" transform="rotate(127 1191.0 175.5)" fill="#86809a" opacity="0.88"/>
<ellipse cx="1191.0" cy="175.5" rx="4.3" ry="2.7" transform="rotate(127 1191.0 175.5)" fill="#a09aa8" opacity="0.35"/>
<ellipse cx="1260.2" cy="139.3" rx="8.4" ry="5.6" transform="rotate(169 1260.2 139.3)" fill="#6e6a8a" opacity="0.88"/>
<ellipse cx="1260.2" cy="139.3" rx="4.6" ry="2.8" transform="rotate(169 1260.2 139.3)" fill="#a09aa8" opacity="0.35"/>
<rect x="1177" y="59" width="201" height="165.5" fill="#fff" filter="url(#noise1)" opacity="0.18"/>
</g>
<rect x="1178.6" y="60.6" width="197.8" height="162.3" fill="none" stroke="#000" stroke-width="3.2"/>
<rect x="1292.6" y="190" width="81.20000000000005" height="34" fill="#fff" stroke="#000" stroke-width="1.6"/>
<path d="M1297.6,200 V195 H1368.8 V200" fill="none" stroke="#000" stroke-width="2.2"/>
<text x="1333.2" y="218.0" font-size="20" text-anchor="middle">20µm</text>
<text x="1053.80" y="368.60" font-size="23.3" fill="#000" stroke="#000" stroke-width="0.3" >Tumor</text>
<rect x="1052" y="444.3" width="195" height="196.40000000000003" fill="#e3e3e3"/>
<clipPath id="c4"><ellipse cx="1149" cy="543" rx="97" ry="97"/></clipPath>
<ellipse cx="1149" cy="543" rx="97" ry="97" fill="#d5cfcf"/>
<g clip-path="url(#c4)">
<rect x="1052" y="446" width="194" height="194" fill="#ebe8e8" filter="url(#noise1)" opacity="0.55"/>
<rect x="1052" y="446" width="194" height="194" fill="#a99dac" filter="url(#noise2)" opacity="0.7"/>
</g>
<clipPath id="i4"><rect x="1177" y="368" width="201" height="167"/></clipPath>
<g clip-path="url(#i4)">
<rect x="1177" y="368" width="201" height="167" fill="#d6d6d2"/>
<ellipse cx="1357.6" cy="382.9" rx="11.3" ry="4.8" transform="rotate(39 1357.6 382.9)" fill="#e4e4e0" opacity="0.85"/>
<ellipse cx="1231.8" cy="393.2" rx="8.8" ry="7.8" transform="rotate(28 1231.8 393.2)" fill="#e4e4e0" opacity="0.85"/>
<ellipse cx="1263.0" cy="500.6" rx="9.3" ry="7.4" transform="rotate(179 1263.0 500.6)" fill="#e4e4e0" opacity="0.85"/>
<ellipse cx="1291.9" cy="518.0" rx="7.2" ry="4.3" transform="rotate(138 1291.9 518.0)" fill="#e4e4e0" opacity="0.85"/>
<ellipse cx="1208.6" cy="520.5" rx="5.8" ry="5.0" transform="rotate(54 1208.6 520.5)" fill="#e4e4e0" opacity="0.85"/>
<ellipse cx="1375.5" cy="437.2" rx="6.0" ry="4.4" transform="rotate(109 1375.5 437.2)" fill="#e4e4e0" opacity="0.85"/>
<ellipse cx="1347.2" cy="496.0" rx="9.7" ry="3.9" transform="rotate(67 1347.2 496.0)" fill="#e4e4e0" opacity="0.85"/>
<ellipse cx="1369.6" cy="404.1" rx="7.8" ry="4.6" transform="rotate(63 1369.6 404.1)" fill="#e4e4e0" opacity="0.85"/>
<ellipse cx="1221.1" cy="433.5" rx="11.3" ry="4.7" transform="rotate(9 1221.1 433.5)" fill="#e4e4e0" opacity="0.85"/>
<ellipse cx="1251.3" cy="488.7" rx="8.6" ry="5.2" transform="rotate(117 1251.3 488.7)" fill="#e4e4e0" opacity="0.85"/>
<ellipse cx="1364.1" cy="437.2" rx="6.4" ry="4.5" transform="rotate(81 1364.1 437.2)" fill="#e4e4e0" opacity="0.85"/>
<ellipse cx="1221.4" cy="521.4" rx="6.3" ry="6.8" transform="rotate(110 1221.4 521.4)" fill="#e4e4e0" opacity="0.85"/>
<ellipse cx="1296.7" cy="463.9" rx="9.0" ry="3.6" transform="rotate(56 1296.7 463.9)" fill="#e4e4e0" opacity="0.85"/>
<ellipse cx="1190.2" cy="453.1" rx="10.2" ry="4.5" transform="rotate(6 1190.2 453.1)" fill="#e4e4e0" opacity="0.85"/>
<ellipse cx="1226.8" cy="383.5" rx="9.8" ry="6.0" transform="rotate(79 1226.8 383.5)" fill="#e4e4e0" opacity="0.85"/>
<ellipse cx="1186.0" cy="461.0" rx="6.0" ry="6.8" transform="rotate(13 1186.0 461.0)" fill="#e4e4e0" opacity="0.85"/>
<ellipse cx="1191.7" cy="507.5" rx="12.0" ry="5.6" transform="rotate(121 1191.7 507.5)" fill="#e4e4e0" opacity="0.85"/>
<ellipse cx="1223.7" cy="533.8" rx="6.4" ry="7.9" transform="rotate(101 1223.7 533.8)" fill="#e4e4e0" opacity="0.85"/>
<ellipse cx="1366.7" cy="379.4" rx="11.8" ry="8.0" transform="rotate(9 1366.7 379.4)" fill="#e4e4e0" opacity="0.85"/>
<ellipse cx="1183.6" cy="527.4" rx="8.0" ry="4.3" transform="rotate(12 1183.6 527.4)" fill="#e4e4e0" opacity="0.85"/>
<ellipse cx="1209.1" cy="450.3" rx="6.6" ry="5.1" transform="rotate(25 1209.1 450.3)" fill="#e4e4e0" opacity="0.85"/>
<ellipse cx="1204.4" cy="502.2" rx="7.2" ry="3.7" transform="rotate(43 1204.4 502.2)" fill="#e4e4e0" opacity="0.85"/>
<ellipse cx="1318.0" cy="407.6" rx="10.9" ry="7.8" transform="rotate(120 1318.0 407.6)" fill="#e4e4e0" opacity="0.85"/>
<ellipse cx="1250.8" cy="489.4" rx="11.5" ry="4.2" transform="rotate(157 1250.8 489.4)" fill="#e4e4e0" opacity="0.85"/>
<ellipse cx="1374.7" cy="489.2" rx="9.7" ry="4.1" transform="rotate(58 1374.7 489.2)" fill="#e4e4e0" opacity="0.85"/>
<ellipse cx="1294.1" cy="413.7" rx="8.7" ry="7.5" transform="rotate(80 1294.1 413.7)" fill="#e4e4e0" opacity="0.85"/>
<ellipse cx="1338.5" cy="411.7" rx="5.6" ry="6.7" transform="rotate(3 1338.5 411.7)" fill="#e4e4e0" opacity="0.85"/>
<ellipse cx="1362.3" cy="530.9" rx="11.5" ry="6.8" transform="rotate(33 1362.3 530.9)" fill="#e4e4e0" opacity="0.85"/>
<ellipse cx="1371.0" cy="474.6" rx="5.7" ry="5.9" transform="rotate(161 1371.0 474.6)" fill="#e4e4e0" opacity="0.85"/>
<ellipse cx="1297.1" cy="426.5" rx="12.0" ry="5.9" transform="rotate(7 1297.1 426.5)" fill="#e4e4e0" opacity="0.85"/>
<ellipse cx="1203.8" cy="446.1" rx="4.1" ry="3.6" transform="rotate(72 1203.8 446.1)" fill="#7178b5" opacity="0.88"/>
<ellipse cx="1183.8" cy="392.5" rx="5.4" ry="4.8" transform="rotate(173 1183.8 392.5)" fill="#7d86c0" opacity="0.88"/>
<ellipse cx="1178.1" cy="438.2" rx="6.1" ry="4.1" transform="rotate(4 1178.1 438.2)" fill="#8790c6" opacity="0.88"/>
<ellipse cx="1244.5" cy="393.1" rx="5.2" ry="4.7" transform="rotate(101 1244.5 393.1)" fill="#7d86c0" opacity="0.88"/>
<ellipse cx="1316.7" cy="407.9" rx="5.1" ry="3.9" transform="rotate(159 1316.7 407.9)" fill="#7178b5" opacity="0.88"/>
<ellipse cx="1294.4" cy="437.0" rx="6.1" ry="4.4" transform="rotate(171 1294.4 437.0)" fill="#7178b5" opacity="0.88"/>
<ellipse cx="1275.7" cy="482.6" rx="7.0" ry="6.4" transform="rotate(29 1275.7 482.6)" fill="#7178b5" opacity="0.88"/>
<ellipse cx="1279.4" cy="536.3" rx="6.7" ry="6.2" transform="rotate(56 1279.4 536.3)" fill="#8790c6" opacity="0.88"/>
<ellipse cx="1289.0" cy="434.6" rx="7.3" ry="5.4" transform="rotate(17 1289.0 434.6)" fill="#7178b5" opacity="0.88"/>
<ellipse cx="1316.6" cy="424.7" rx="4.4" ry="3.8" transform="rotate(144 1316.6 424.7)" fill="#7178b5" opacity="0.88"/>
<ellipse cx="1309.0" cy="484.0" rx="5.7" ry="4.2" transform="rotate(103 1309.0 484.0)" fill="#7178b5" opacity="0.88"/>
<ellipse cx="1305.1" cy="444.9" rx="5.1" ry="4.3" transform="rotate(11 1305.1 444.9)" fill="#7d86c0" opacity="0.88"/>
<ellipse cx="1202.9" cy="368.8" rx="5.5" ry="3.7" transform="rotate(144 1202.9 368.8)" fill="#7178b5" opacity="0.88"/>
<ellipse cx="1222.0" cy="509.1" rx="4.9" ry="4.5" transform="rotate(91 1222.0 509.1)" fill="#7d86c0" opacity="0.88"/>
<ellipse cx="1262.1" cy="461.2" rx="5.7" ry="4.5" transform="rotate(52 1262.1 461.2)" fill="#7d86c0" opacity="0.88"/>
<ellipse cx="1348.8" cy="452.0" rx="7.2" ry="6.1" transform="rotate(124 1348.8 452.0)" fill="#8790c6" opacity="0.88"/>
<ellipse cx="1266.2" cy="416.3" rx="7.2" ry="6.2" transform="rotate(144 1266.2 416.3)" fill="#7178b5" opacity="0.88"/>
<ellipse cx="1321.7" cy="505.7" rx="4.4" ry="3.5" transform="rotate(129 1321.7 505.7)" fill="#7d86c0" opacity="0.88"/>
<ellipse cx="1182.2" cy="505.5" rx="6.3" ry="5.0" transform="rotate(116 1182.2 505.5)" fill="#7178b5" opacity="0.88"/>
<ellipse cx="1314.2" cy="434.0" rx="7.0" ry="6.6" transform="rotate(29 1314.2 434.0)" fill="#7178b5" opacity="0.88"/>
<ellipse cx="1231.6" cy="418.2" rx="3.1" ry="2.3" fill="#9a6a3a"/>
<ellipse cx="1298.6" cy="494.7" rx="2.9" ry="2.8" fill="#9a6a3a"/>
<ellipse cx="1306.0" cy="490.6" rx="3.5" ry="2.5" fill="#9a6a3a"/>
<rect x="1177" y="368" width="201" height="167" fill="#fff" filter="url(#noise1)" opacity="0.18"/>
</g>
<rect x="1178.6" y="369.6" width="197.8" height="163.8" fill="none" stroke="#000" stroke-width="3.2"/>
<rect x="1283" y="497.4" width="90" height="33.60000000000002" fill="#fff" stroke="#000" stroke-width="1.6"/>
<path d="M1288,507.4 V502.4 H1368 V507.4" fill="none" stroke="#000" stroke-width="2.2"/>
<text x="1328.0" y="525.0" font-size="20" text-anchor="middle">20µm</text>
<text x="1052.00" y="675.00" font-size="23.3" fill="#000" stroke="#000" stroke-width="0.3" >Non-tumor</text>
<text x="509.60" y="29.20" font-size="40" fill="#000" stroke="#000" stroke-width="0.2" >b</text>
<line x1="591.50" y1="187.30" x2="591.50" y2="494.20" stroke="#000" stroke-width="2.6" />
<line x1="578.60" y1="493.00" x2="897.40" y2="493.00" stroke="#000" stroke-width="2.6" />
<line x1="578.60" y1="188.50" x2="591.50" y2="188.50" stroke="#000" stroke-width="2.6" />
<text x="526.25" y="196.10" font-size="22.5" fill="#000" stroke="#000" stroke-width="0.3" >0.08</text>
<line x1="578.60" y1="264.60" x2="591.50" y2="264.60" stroke="#000" stroke-width="2.6" />
<text x="526.25" y="272.20" font-size="22.5" fill="#000" stroke="#000" stroke-width="0.3" >0.06</text>
<line x1="578.60" y1="340.80" x2="591.50" y2="340.80" stroke="#000" stroke-width="2.6" />
<text x="525.75" y="348.40" font-size="22.5" fill="#000" stroke="#000" stroke-width="0.3" >0.04</text>
<line x1="578.60" y1="416.90" x2="591.50" y2="416.90" stroke="#000" stroke-width="2.6" />
<text x="526.25" y="424.50" font-size="22.5" fill="#000" stroke="#000" stroke-width="0.3" >0.02</text>
<line x1="578.60" y1="493.00" x2="591.50" y2="493.00" stroke="#000" stroke-width="2.6" />
<text x="526.00" y="500.60" font-size="22.5" fill="#000" stroke="#000" stroke-width="0.3" >0.00</text>
<line x1="591.50" y1="493.00" x2="591.50" y2="506.00" stroke="#000" stroke-width="2.6" />
<text x="563.27" y="538.40" font-size="23.3" fill="#000" stroke="#000" stroke-width="0.3" >0.00</text>
<line x1="652.40" y1="493.00" x2="652.40" y2="506.00" stroke="#000" stroke-width="2.6" />
<text x="624.30" y="538.40" font-size="23.3" fill="#000" stroke="#000" stroke-width="0.3" >0.02</text>
<line x1="713.30" y1="493.00" x2="713.30" y2="506.00" stroke="#000" stroke-width="2.6" />
<text x="684.95" y="538.40" font-size="23.3" fill="#000" stroke="#000" stroke-width="0.3" >0.04</text>
<line x1="774.20" y1="493.00" x2="774.20" y2="506.00" stroke="#000" stroke-width="2.6" />
<text x="745.98" y="538.40" font-size="23.3" fill="#000" stroke="#000" stroke-width="0.3" >0.06</text>
<line x1="835.10" y1="493.00" x2="835.10" y2="506.00" stroke="#000" stroke-width="2.6" />
<text x="806.88" y="538.40" font-size="23.3" fill="#000" stroke="#000" stroke-width="0.3" >0.08</text>
<line x1="896.00" y1="493.00" x2="896.00" y2="506.00" stroke="#000" stroke-width="2.6" />
<text x="867.77" y="538.40" font-size="23.3" fill="#000" stroke="#000" stroke-width="0.3" >0.10</text>
<text x="613.00" y="571.50" font-size="23.3" fill="#000" stroke="#000" stroke-width="0.3" >S100P intensity score</text>
<text transform="translate(512.00,468.95) rotate(-90)" x="0" y="0" font-size="23.3" fill="#000" stroke="#000" stroke-width="0.3">4-HNE intensity score</text>
<text x="820.70" y="237.80" font-size="23.3" fill="#000" stroke="#000" stroke-width="0.3" >r=-0.4277</text>
<text x="821.00" y="264.30" font-size="23.3" fill="#000" stroke="#000" stroke-width="0.3" >p=0.0184</text>
<circle cx="606.8" cy="274.8" r="4.9" fill="#000"/>
<circle cx="624.7" cy="230.1" r="4.9" fill="#000"/>
<circle cx="629.9" cy="257.5" r="4.9" fill="#000"/>
<circle cx="629.0" cy="287.1" r="4.9" fill="#000"/>
<circle cx="640.8" cy="275.9" r="4.9" fill="#000"/>
<circle cx="615.3" cy="491.8" r="4.9" fill="#000"/>
<circle cx="652.9" cy="427.4" r="4.9" fill="#000"/>
<circle cx="661.6" cy="434.2" r="4.9" fill="#000"/>
<circle cx="664.9" cy="361.6" r="4.9" fill="#000"/>
<circle cx="691.8" cy="374.5" r="4.9" fill="#000"/>
<circle cx="694.2" cy="347.4" r="4.9" fill="#000"/>
<circle cx="703.3" cy="309.9" r="4.9" fill="#000"/>
<circle cx="709.6" cy="258.9" r="4.9" fill="#000"/>
<circle cx="720.3" cy="241.1" r="4.9" fill="#000"/>
<circle cx="736.4" cy="289.6" r="4.9" fill="#000"/>
<circle cx="745.2" cy="364.9" r="4.9" fill="#000"/>
<circle cx="751.5" cy="351.5" r="4.9" fill="#000"/>
<circle cx="752.1" cy="384.4" r="4.9" fill="#000"/>
<circle cx="754.2" cy="443.0" r="4.9" fill="#000"/>
<circle cx="760.5" cy="433.7" r="4.9" fill="#000"/>
<circle cx="761.4" cy="336.4" r="4.9" fill="#000"/>
<circle cx="761.6" cy="457.0" r="4.9" fill="#000"/>
<circle cx="769.6" cy="356.2" r="4.9" fill="#000"/>
<circle cx="774.5" cy="340.8" r="4.9" fill="#000"/>
<circle cx="775.6" cy="361.9" r="4.9" fill="#000"/>
<circle cx="777.5" cy="284.9" r="4.9" fill="#000"/>
<circle cx="782.7" cy="390.4" r="4.9" fill="#000"/>
<circle cx="790.4" cy="429.3" r="4.9" fill="#000"/>
<circle cx="843.8" cy="471.8" r="4.9" fill="#000"/>
<circle cx="858.6" cy="478.9" r="4.9" fill="#000"/>
<line x1="606.80" y1="303.30" x2="858.90" y2="424.70" stroke="#000" stroke-width="2.6" />
<text x="1484.95" y="29.20" font-size="40" fill="#000" stroke="#000" stroke-width="0.2" >d</text>
<line x1="1605.00" y1="187.00" x2="1605.00" y2="505.50" stroke="#000" stroke-width="2.8" />
<line x1="1592.00" y1="504.30" x2="1922.30" y2="504.30" stroke="#000" stroke-width="2.8" />
<line x1="1592.00" y1="188.40" x2="1605.00" y2="188.40" stroke="#000" stroke-width="2.8" />
<text x="1534.05" y="196.40" font-size="23.3" fill="#000" stroke="#000" stroke-width="0.3" >0.10</text>
<line x1="1592.00" y1="251.58" x2="1605.00" y2="251.58" stroke="#000" stroke-width="2.8" />
<text x="1534.05" y="259.58" font-size="23.3" fill="#000" stroke="#000" stroke-width="0.3" >0.08</text>
<line x1="1592.00" y1="314.76" x2="1605.00" y2="314.76" stroke="#000" stroke-width="2.8" />
<text x="1534.05" y="322.76" font-size="23.3" fill="#000" stroke="#000" stroke-width="0.3" >0.06</text>
<line x1="1592.00" y1="377.94" x2="1605.00" y2="377.94" stroke="#000" stroke-width="2.8" />
<text x="1533.80" y="385.94" font-size="23.3" fill="#000" stroke="#000" stroke-width="0.3" >0.04</text>
<line x1="1592.00" y1="441.12" x2="1605.00" y2="441.12" stroke="#000" stroke-width="2.8" />
<text x="1534.30" y="449.12" font-size="23.3" fill="#000" stroke="#000" stroke-width="0.3" >0.02</text>
<line x1="1592.00" y1="504.30" x2="1605.00" y2="504.30" stroke="#000" stroke-width="2.8" />
<text x="1534.05" y="512.30" font-size="23.3" fill="#000" stroke="#000" stroke-width="0.3" >0.00</text>
<line x1="1694.80" y1="504.30" x2="1694.80" y2="517.40" stroke="#000" stroke-width="2.8" />
<line x1="1830.00" y1="504.30" x2="1830.00" y2="517.40" stroke="#000" stroke-width="2.8" />
<text x="1632.00" y="545.50" font-size="23.3" fill="#000" stroke="#000" stroke-width="0.3" >Paracancer</text>
<text x="1802.50" y="545.50" font-size="23.3" fill="#000" stroke="#000" stroke-width="0.3" >cancer</text>
<text transform="translate(1507.50,478.25) rotate(-90)" x="0" y="0" font-size="23.3" fill="#000" stroke="#000" stroke-width="0.3">S100P intensity score</text>
<text x="1685" y="199.5" font-size="23">p<tspan dx="2">=7.12x10</tspan><tspan dx="3" dy="-10" font-size="15">-11</tspan></text>
<line x1="1685.50" y1="214.50" x2="1795.00" y2="214.50" stroke="#000" stroke-width="3.5" />
<line x1="1785.00" y1="369.60" x2="1875.40" y2="369.60" stroke="#f2608f" stroke-width="2.6" />
<line x1="1830.00" y1="299.40" x2="1830.00" y2="440.00" stroke="#f2608f" stroke-width="2.6" />
<line x1="1807.80" y1="299.40" x2="1852.00" y2="299.40" stroke="#f2608f" stroke-width="2.6" />
<line x1="1807.80" y1="440.00" x2="1852.00" y2="440.00" stroke="#f2608f" stroke-width="2.6" />
<circle cx="1838.3" cy="227.5" r="6.1" fill="#f2608f"/>
<circle cx="1822.3" cy="242.0" r="6.1" fill="#f2608f"/>
<circle cx="1838.3" cy="298.6" r="6.1" fill="#f2608f"/>
<circle cx="1822.3" cy="305.8" r="6.1" fill="#f2608f"/>
<circle cx="1806.4" cy="313.0" r="6.1" fill="#f2608f"/>
<circle cx="1838.3" cy="312.2" r="6.1" fill="#f2608f"/>
<circle cx="1853.3" cy="314.5" r="6.1" fill="#f2608f"/>
<circle cx="1791.3" cy="329.6" r="6.1" fill="#f2608f"/>
<circle cx="1806.4" cy="328.4" r="6.1" fill="#f2608f"/>
<circle cx="1822.3" cy="319.7" r="6.1" fill="#f2608f"/>
<circle cx="1853.3" cy="328.4" r="6.1" fill="#f2608f"/>
<circle cx="1868.7" cy="335.4" r="6.1" fill="#f2608f"/>
<circle cx="1822.3" cy="337.7" r="6.1" fill="#f2608f"/>
<circle cx="1838.3" cy="338.3" r="6.1" fill="#f2608f"/>
<circle cx="1853.3" cy="344.9" r="6.1" fill="#f2608f"/>
<circle cx="1838.3" cy="353.6" r="6.1" fill="#f2608f"/>
<circle cx="1838.3" cy="371.0" r="6.1" fill="#f2608f"/>
<circle cx="1822.3" cy="382.0" r="6.1" fill="#f2608f"/>
<circle cx="1853.3" cy="388.4" r="6.1" fill="#f2608f"/>
<circle cx="1822.3" cy="398.0" r="6.1" fill="#f2608f"/>
<circle cx="1838.3" cy="400.3" r="6.1" fill="#f2608f"/>
<circle cx="1806.4" cy="431.3" r="6.1" fill="#f2608f"/>
<circle cx="1822.3" cy="428.1" r="6.1" fill="#f2608f"/>
<circle cx="1838.3" cy="440.9" r="6.1" fill="#f2608f"/>
<circle cx="1806.4" cy="453.0" r="6.1" fill="#f2608f"/>
<circle cx="1806.4" cy="469.3" r="6.1" fill="#f2608f"/>
<circle cx="1838.3" cy="465.2" r="6.1" fill="#f2608f"/>
<circle cx="1853.3" cy="463.8" r="6.1" fill="#f2608f"/>
<circle cx="1838.3" cy="479.1" r="6.1" fill="#f2608f"/>
<circle cx="1822.3" cy="488.4" r="6.1" fill="#f2608f"/>
<circle cx="1680.3" cy="456.5" r="6.1" fill="#55a0f4"/>
<circle cx="1700.6" cy="475.4" r="6.1" fill="#55a0f4"/>
<circle cx="1712.2" cy="489.9" r="6.1" fill="#55a0f4"/>
<circle cx="1680.3" cy="498.6" r="6.1" fill="#55a0f4"/>
<circle cx="1660.0" cy="492.8" r="6.1" fill="#55a0f4"/>
<circle cx="1720.9" cy="501.4" r="6.1" fill="#55a0f4"/>
<circle cx="1691.9" cy="463.8" r="6.1" fill="#55a0f4"/>
<circle cx="1706.4" cy="481.2" r="6.1" fill="#55a0f4"/>
<circle cx="1691.9" cy="326.1" r="6.1" fill="#55a0f4"/>
<circle cx="1691.9" cy="396.2" r="6.1" fill="#55a0f4"/>
<circle cx="1686.1" cy="440.6" r="6.1" fill="#55a0f4"/>
<circle cx="1691.9" cy="449.9" r="6.1" fill="#55a0f4"/>
<circle cx="1703.5" cy="448.7" r="6.1" fill="#55a0f4"/>
<circle cx="1686.1" cy="460.9" r="6.1" fill="#55a0f4"/>
<circle cx="1674.5" cy="466.7" r="6.1" fill="#55a0f4"/>
<circle cx="1697.7" cy="465.2" r="6.1" fill="#55a0f4"/>
<circle cx="1709.3" cy="468.1" r="6.1" fill="#55a0f4"/>
<circle cx="1716.5" cy="469.6" r="6.1" fill="#55a0f4"/>
<circle cx="1686.1" cy="475.4" r="6.1" fill="#55a0f4"/>
<circle cx="1667.2" cy="479.7" r="6.1" fill="#55a0f4"/>
<circle cx="1657.1" cy="488.4" r="6.1" fill="#55a0f4"/>
<circle cx="1680.3" cy="489.9" r="6.1" fill="#55a0f4"/>
<circle cx="1691.9" cy="489.9" r="6.1" fill="#55a0f4"/>
<circle cx="1699.1" cy="489.9" r="6.1" fill="#55a0f4"/>
<circle cx="1723.8" cy="492.8" r="6.1" fill="#55a0f4"/>
<circle cx="1733.9" cy="488.4" r="6.1" fill="#55a0f4"/>
<circle cx="1667.2" cy="497.1" r="6.1" fill="#55a0f4"/>
<circle cx="1709.3" cy="497.1" r="6.1" fill="#55a0f4"/>
<circle cx="1691.9" cy="501.4" r="6.1" fill="#55a0f4"/>
<circle cx="1703.5" cy="500.0" r="6.1" fill="#55a0f4"/>
<circle cx="1716.5" cy="500.0" r="6.1" fill="#55a0f4"/>
<circle cx="1674.5" cy="489.9" r="6.1" fill="#55a0f4"/>
<circle cx="1662.9" cy="489.9" r="6.1" fill="#55a0f4"/>
<circle cx="1683.2" cy="481.2" r="6.1" fill="#55a0f4"/>
<line x1="1650.00" y1="471.60" x2="1739.70" y2="471.60" stroke="#55a0f4" stroke-width="2.6" />
<line x1="1694.80" y1="436.20" x2="1694.80" y2="504.00" stroke="#55a0f4" stroke-width="2.6" />
<line x1="1673.00" y1="436.20" x2="1717.00" y2="436.20" stroke="#55a0f4" stroke-width="2.6" />
<text x="12.25" y="719.30" font-size="40" fill="#000" stroke="#000" stroke-width="0.2" >e</text>
<rect x="195.8" y="715.1" width="478.9" height="363.5" fill="none" stroke="#cfcfcf" stroke-width="1.6"/>
<line x1="192.40" y1="741.80" x2="195.80" y2="741.80" stroke="#999" stroke-width="1.2" />
<text x="113.25" y="744.20" font-size="23.3" fill="#000" stroke="#000" stroke-width="0.3" >20000</text>
<line x1="192.40" y1="821.50" x2="195.80" y2="821.50" stroke="#999" stroke-width="1.2" />
<text x="113.95" y="830.00" font-size="23.3" fill="#000" stroke="#000" stroke-width="0.3" >15000</text>
<line x1="192.40" y1="902.30" x2="195.80" y2="902.30" stroke="#999" stroke-width="1.2" />
<text x="112.75" y="911.90" font-size="23.3" fill="#000" stroke="#000" stroke-width="0.3" >10000</text>
<line x1="192.40" y1="983.20" x2="195.80" y2="983.20" stroke="#999" stroke-width="1.2" />
<text x="130.05" y="998.30" font-size="23.3" fill="#000" stroke="#000" stroke-width="0.3" >5000</text>
<line x1="192.40" y1="1063.00" x2="195.80" y2="1063.00" stroke="#999" stroke-width="1.2" />
<text x="169.80" y="1081.60" font-size="23.3" fill="#000" stroke="#000" stroke-width="0.3" >0</text>
<line x1="285.40" y1="1078.60" x2="285.40" y2="1083.00" stroke="#999" stroke-width="1.2" />
<line x1="435.40" y1="1078.60" x2="435.40" y2="1083.00" stroke="#999" stroke-width="1.2" />
<line x1="585.40" y1="1078.60" x2="585.40" y2="1083.00" stroke="#999" stroke-width="1.2" />
<text x="246.00" y="1115.40" font-size="23.3" fill="#000" stroke="#000" stroke-width="0.3" >Normal</text>
<text x="423.50" y="1115.40" font-size="23.3" fill="#000" stroke="#000" stroke-width="0.3" >Tumor</text>
<text x="547.70" y="1115.40" font-size="23.3" fill="#000" stroke="#000" stroke-width="0.3" >Metastatic</text>
<text x="224.20" y="737.60" font-size="23.3" fill="#000" stroke="#000" stroke-width="0.3" >p=5.05e-24</text>
<text transform="translate(85.00,1037.40) rotate(-90)" x="0" y="0" font-size="23.3" fill="#000" stroke="#000" stroke-width="0.3">S100P gene expression</text>
<circle cx="288.0" cy="819.4" r="2.6" fill="#1d6a2b"/>
<circle cx="268.0" cy="831.0" r="2.6" fill="#1d6a2b"/>
<circle cx="255.4" cy="928.0" r="2.6" fill="#1d6a2b"/>
<circle cx="253.9" cy="934.9" r="2.6" fill="#1d6a2b"/>
<circle cx="261.1" cy="950.1" r="2.6" fill="#1d6a2b"/>
<circle cx="251.8" cy="1008.0" r="2.6" fill="#1d6a2b"/>
<circle cx="308.2" cy="1014.7" r="2.6" fill="#1d6a2b"/>
<circle cx="277.1" cy="1021.0" r="2.6" fill="#1d6a2b"/>
<circle cx="293.3" cy="1021.9" r="2.6" fill="#1d6a2b"/>
<circle cx="283.8" cy="1029.5" r="2.6" fill="#1d6a2b"/>
<circle cx="281.0" cy="1031.4" r="2.6" fill="#1d6a2b"/>
<circle cx="251.8" cy="1038.5" r="2.6" fill="#1d6a2b"/>
<circle cx="261.9" cy="1039.6" r="2.6" fill="#1d6a2b"/>
<circle cx="272.0" cy="1039.0" r="2.6" fill="#1d6a2b"/>
<circle cx="276.2" cy="1038.5" r="2.6" fill="#1d6a2b"/>
<circle cx="316.6" cy="1038.5" r="2.6" fill="#1d6a2b"/>
<circle cx="275.2" cy="1045.1" r="2.6" fill="#1d6a2b"/>
<circle cx="289.9" cy="1044.4" r="2.6" fill="#1d6a2b"/>
<circle cx="322.5" cy="1045.3" r="2.6" fill="#1d6a2b"/>
<circle cx="248.6" cy="1047.6" r="2.6" fill="#1d6a2b"/>
<circle cx="267.6" cy="1049.5" r="2.6" fill="#1d6a2b"/>
<circle cx="293.9" cy="1050.1" r="2.6" fill="#1d6a2b"/>
<circle cx="309.5" cy="1049.5" r="2.6" fill="#1d6a2b"/>
<circle cx="318.1" cy="1048.2" r="2.6" fill="#1d6a2b"/>
<circle cx="278.7" cy="1021.9" r="2.6" fill="#1d6a2b"/>
<circle cx="295.8" cy="1061.7" r="2.6" fill="#1d6a2b"/>
<circle cx="321.4" cy="1056.3" r="2.6" fill="#1d6a2b"/>
<circle cx="305.2" cy="1061.3" r="2.6" fill="#1d6a2b"/>
<circle cx="283.2" cy="1061.6" r="2.6" fill="#1d6a2b"/>
<circle cx="321.5" cy="1057.9" r="2.6" fill="#1d6a2b"/>
<circle cx="255.1" cy="1056.5" r="2.6" fill="#1d6a2b"/>
<circle cx="283.5" cy="1061.9" r="2.6" fill="#1d6a2b"/>
<circle cx="291.9" cy="1058.0" r="2.6" fill="#1d6a2b"/>
<circle cx="247.0" cy="1061.5" r="2.6" fill="#1d6a2b"/>
<circle cx="319.3" cy="1059.5" r="2.6" fill="#1d6a2b"/>
<circle cx="307.3" cy="1058.9" r="2.6" fill="#1d6a2b"/>
<circle cx="257.1" cy="1057.2" r="2.6" fill="#1d6a2b"/>
<circle cx="295.4" cy="1061.9" r="2.6" fill="#1d6a2b"/>
<circle cx="315.7" cy="1061.9" r="2.6" fill="#1d6a2b"/>
<circle cx="262.8" cy="1060.0" r="2.6" fill="#1d6a2b"/>
<circle cx="315.8" cy="1053.1" r="2.6" fill="#1d6a2b"/>
<circle cx="269.1" cy="1058.1" r="2.6" fill="#1d6a2b"/>
<circle cx="300.2" cy="1061.0" r="2.6" fill="#1d6a2b"/>
<circle cx="262.4" cy="1057.4" r="2.6" fill="#1d6a2b"/>
<circle cx="323.3" cy="1060.2" r="2.6" fill="#1d6a2b"/>
<circle cx="317.5" cy="1061.1" r="2.6" fill="#1d6a2b"/>
<circle cx="259.3" cy="1059.1" r="2.6" fill="#1d6a2b"/>
<circle cx="257.7" cy="1059.5" r="2.6" fill="#1d6a2b"/>
<circle cx="294.2" cy="1060.9" r="2.6" fill="#1d6a2b"/>
<circle cx="246.3" cy="1060.7" r="2.6" fill="#1d6a2b"/>
<circle cx="270.8" cy="1059.4" r="2.6" fill="#1d6a2b"/>
<circle cx="311.5" cy="1059.2" r="2.6" fill="#1d6a2b"/>
<circle cx="284.5" cy="1061.7" r="2.6" fill="#1d6a2b"/>
<circle cx="302.4" cy="1053.9" r="2.6" fill="#1d6a2b"/>
<circle cx="247.8" cy="1059.0" r="2.6" fill="#1d6a2b"/>
<circle cx="306.0" cy="1061.7" r="2.6" fill="#1d6a2b"/>
<circle cx="309.0" cy="1061.5" r="2.6" fill="#1d6a2b"/>
<circle cx="275.3" cy="1061.6" r="2.6" fill="#1d6a2b"/>
<circle cx="249.7" cy="1061.8" r="2.6" fill="#1d6a2b"/>
<circle cx="260.5" cy="1060.0" r="2.6" fill="#1d6a2b"/>
<circle cx="306.5" cy="1061.4" r="2.6" fill="#1d6a2b"/>
<circle cx="320.4" cy="1059.3" r="2.6" fill="#1d6a2b"/>
<circle cx="274.4" cy="1061.0" r="2.6" fill="#1d6a2b"/>
<circle cx="288.0" cy="1061.8" r="2.6" fill="#1d6a2b"/>
<circle cx="305.9" cy="1060.5" r="2.6" fill="#1d6a2b"/>
<circle cx="309.8" cy="1061.4" r="2.6" fill="#1d6a2b"/>
<circle cx="321.7" cy="1061.3" r="2.6" fill="#1d6a2b"/>
<circle cx="253.3" cy="1059.6" r="2.6" fill="#1d6a2b"/>
<circle cx="319.4" cy="1058.3" r="2.6" fill="#1d6a2b"/>
<circle cx="273.2" cy="1058.4" r="2.6" fill="#1d6a2b"/>
<circle cx="271.0" cy="1060.2" r="2.6" fill="#1d6a2b"/>
<circle cx="271.3" cy="1061.4" r="2.6" fill="#1d6a2b"/>
<circle cx="257.9" cy="1060.8" r="2.6" fill="#1d6a2b"/>
<circle cx="301.1" cy="1060.1" r="2.6" fill="#1d6a2b"/>
<circle cx="249.9" cy="1062.0" r="2.6" fill="#1d6a2b"/>
<circle cx="324.9" cy="1058.8" r="2.6" fill="#1d6a2b"/>
<circle cx="265.0" cy="1061.3" r="2.6" fill="#1d6a2b"/>
<circle cx="293.5" cy="1060.4" r="2.6" fill="#1d6a2b"/>
<circle cx="279.7" cy="1058.9" r="2.6" fill="#1d6a2b"/>
<circle cx="250.5" cy="1061.3" r="2.6" fill="#1d6a2b"/>
<circle cx="285.5" cy="1061.6" r="2.6" fill="#1d6a2b"/>
<circle cx="313.1" cy="1058.5" r="2.6" fill="#1d6a2b"/>
<circle cx="322.0" cy="1058.2" r="2.6" fill="#1d6a2b"/>
<circle cx="296.4" cy="1061.6" r="2.6" fill="#1d6a2b"/>
<circle cx="280.8" cy="1060.5" r="2.6" fill="#1d6a2b"/>
<circle cx="257.9" cy="1060.5" r="2.6" fill="#1d6a2b"/>
<circle cx="282.3" cy="1059.8" r="2.6" fill="#1d6a2b"/>
<circle cx="325.9" cy="1056.8" r="2.6" fill="#1d6a2b"/>
<circle cx="282.3" cy="1055.0" r="2.6" fill="#1d6a2b"/>
<circle cx="285.1" cy="1061.5" r="2.6" fill="#1d6a2b"/>
<circle cx="269.3" cy="1058.4" r="2.6" fill="#1d6a2b"/>
<circle cx="278.3" cy="1060.1" r="2.6" fill="#1d6a2b"/>
<circle cx="325.1" cy="1059.5" r="2.6" fill="#1d6a2b"/>
<circle cx="322.8" cy="1059.4" r="2.6" fill="#1d6a2b"/>
<circle cx="273.1" cy="1059.3" r="2.6" fill="#1d6a2b"/>
<circle cx="253.1" cy="1061.2" r="2.6" fill="#1d6a2b"/>
<circle cx="315.4" cy="1056.5" r="2.6" fill="#1d6a2b"/>
<circle cx="274.9" cy="1060.8" r="2.6" fill="#1d6a2b"/>
<circle cx="301.6" cy="1056.6" r="2.6" fill="#1d6a2b"/>
<circle cx="299.1" cy="1061.8" r="2.6" fill="#1d6a2b"/>
<circle cx="302.4" cy="1059.0" r="2.6" fill="#1d6a2b"/>
<circle cx="268.5" cy="1056.5" r="2.6" fill="#1d6a2b"/>
<circle cx="301.3" cy="1061.5" r="2.6" fill="#1d6a2b"/>
<circle cx="269.5" cy="1057.6" r="2.6" fill="#1d6a2b"/>
<circle cx="292.5" cy="1060.4" r="2.6" fill="#1d6a2b"/>
<circle cx="246.9" cy="1059.7" r="2.6" fill="#1d6a2b"/>
<circle cx="299.7" cy="1061.3" r="2.6" fill="#1d6a2b"/>
<circle cx="283.0" cy="1060.1" r="2.6" fill="#1d6a2b"/>
<circle cx="309.8" cy="1057.8" r="2.6" fill="#1d6a2b"/>
<circle cx="273.8" cy="1058.8" r="2.6" fill="#1d6a2b"/>
<circle cx="312.3" cy="1057.9" r="2.6" fill="#1d6a2b"/>
<circle cx="274.0" cy="1058.4" r="2.6" fill="#1d6a2b"/>
<circle cx="301.1" cy="1056.6" r="2.6" fill="#1d6a2b"/>
<circle cx="324.1" cy="1058.3" r="2.6" fill="#1d6a2b"/>
<circle cx="288.3" cy="1061.0" r="2.6" fill="#1d6a2b"/>
<circle cx="259.3" cy="1058.1" r="2.6" fill="#1d6a2b"/>
<circle cx="284.2" cy="1055.6" r="2.6" fill="#1d6a2b"/>
<circle cx="301.3" cy="1061.0" r="2.6" fill="#1d6a2b"/>
<circle cx="259.7" cy="1056.9" r="2.6" fill="#1d6a2b"/>
<circle cx="308.4" cy="1057.9" r="2.6" fill="#1d6a2b"/>
<circle cx="279.7" cy="1059.7" r="2.6" fill="#1d6a2b"/>
<circle cx="295.9" cy="1061.3" r="2.6" fill="#1d6a2b"/>
<circle cx="303.6" cy="1057.5" r="2.6" fill="#1d6a2b"/>
<circle cx="248.2" cy="1060.2" r="2.6" fill="#1d6a2b"/>
<circle cx="298.0" cy="1059.1" r="2.6" fill="#1d6a2b"/>
<circle cx="263.5" cy="1060.2" r="2.6" fill="#1d6a2b"/>
<circle cx="249.3" cy="1057.8" r="2.6" fill="#1d6a2b"/>
<circle cx="283.7" cy="1061.8" r="2.6" fill="#1d6a2b"/>
<circle cx="256.7" cy="1060.9" r="2.6" fill="#1d6a2b"/>
<circle cx="271.4" cy="1061.1" r="2.6" fill="#1d6a2b"/>
<circle cx="248.9" cy="1060.1" r="2.6" fill="#1d6a2b"/>
<circle cx="283.2" cy="1058.8" r="2.6" fill="#1d6a2b"/>
<circle cx="293.2" cy="1059.0" r="2.6" fill="#1d6a2b"/>
<circle cx="265.0" cy="1061.9" r="2.6" fill="#1d6a2b"/>
<circle cx="278.4" cy="1061.9" r="2.6" fill="#1d6a2b"/>
<circle cx="268.3" cy="1060.7" r="2.6" fill="#1d6a2b"/>
<circle cx="312.5" cy="1061.2" r="2.6" fill="#1d6a2b"/>
<circle cx="275.9" cy="1057.7" r="2.6" fill="#1d6a2b"/>
<circle cx="253.6" cy="1061.0" r="2.6" fill="#1d6a2b"/>
<circle cx="289.6" cy="1059.8" r="2.6" fill="#1d6a2b"/>
<circle cx="322.7" cy="1058.4" r="2.6" fill="#1d6a2b"/>
<circle cx="311.5" cy="1056.9" r="2.6" fill="#1d6a2b"/>
<circle cx="297.4" cy="1059.1" r="2.6" fill="#1d6a2b"/>
<circle cx="275.6" cy="1059.3" r="2.6" fill="#1d6a2b"/>
<circle cx="291.1" cy="1058.6" r="2.6" fill="#1d6a2b"/>
<circle cx="322.6" cy="1057.7" r="2.6" fill="#1d6a2b"/>
<circle cx="274.1" cy="1061.1" r="2.6" fill="#1d6a2b"/>
<circle cx="317.5" cy="1060.5" r="2.6" fill="#1d6a2b"/>
<circle cx="291.3" cy="1062.0" r="2.6" fill="#1d6a2b"/>
<circle cx="295.2" cy="1059.1" r="2.6" fill="#1d6a2b"/>
<circle cx="317.3" cy="1058.5" r="2.6" fill="#1d6a2b"/>
<circle cx="276.1" cy="1059.9" r="2.6" fill="#1d6a2b"/>
<circle cx="269.3" cy="1061.0" r="2.6" fill="#1d6a2b"/>
<circle cx="323.8" cy="1056.1" r="2.6" fill="#1d6a2b"/>
<circle cx="319.1" cy="1056.4" r="2.6" fill="#1d6a2b"/>
<circle cx="293.7" cy="1061.4" r="2.6" fill="#1d6a2b"/>
<circle cx="285.7" cy="1053.0" r="2.6" fill="#1d6a2b"/>
<circle cx="279.2" cy="1058.1" r="2.6" fill="#1d6a2b"/>
<circle cx="285.3" cy="1053.6" r="2.6" fill="#1d6a2b"/>
<circle cx="268.9" cy="1060.4" r="2.6" fill="#1d6a2b"/>
<circle cx="295.7" cy="1061.8" r="2.6" fill="#1d6a2b"/>
<circle cx="281.5" cy="1060.5" r="2.6" fill="#1d6a2b"/>
<circle cx="312.1" cy="1056.6" r="2.6" fill="#1d6a2b"/>
<circle cx="247.1" cy="1059.5" r="2.6" fill="#1d6a2b"/>
<circle cx="320.8" cy="1061.5" r="2.6" fill="#1d6a2b"/>
<circle cx="308.6" cy="1061.9" r="2.6" fill="#1d6a2b"/>
<circle cx="258.4" cy="1059.5" r="2.6" fill="#1d6a2b"/>
<circle cx="325.1" cy="1060.8" r="2.6" fill="#1d6a2b"/>
<circle cx="284.0" cy="1057.8" r="2.6" fill="#1d6a2b"/>
<circle cx="297.6" cy="1057.8" r="2.6" fill="#1d6a2b"/>
<circle cx="255.5" cy="1058.8" r="2.6" fill="#1d6a2b"/>
<circle cx="306.8" cy="1060.8" r="2.6" fill="#1d6a2b"/>
<circle cx="272.9" cy="1058.2" r="2.6" fill="#1d6a2b"/>
<circle cx="269.7" cy="1058.5" r="2.6" fill="#1d6a2b"/>
<circle cx="274.9" cy="1061.3" r="2.6" fill="#1d6a2b"/>
<circle cx="305.6" cy="1061.3" r="2.6" fill="#1d6a2b"/>
<circle cx="266.2" cy="1061.5" r="2.6" fill="#1d6a2b"/>
<circle cx="282.4" cy="1056.2" r="2.6" fill="#1d6a2b"/>
<circle cx="289.6" cy="1058.6" r="2.6" fill="#1d6a2b"/>
<circle cx="247.2" cy="1061.4" r="2.6" fill="#1d6a2b"/>
<circle cx="292.1" cy="1058.7" r="2.6" fill="#1d6a2b"/>
<circle cx="302.7" cy="1059.5" r="2.6" fill="#1d6a2b"/>
<circle cx="318.9" cy="1059.3" r="2.6" fill="#1d6a2b"/>
<circle cx="276.8" cy="1057.1" r="2.6" fill="#1d6a2b"/>
<circle cx="261.7" cy="1058.1" r="2.6" fill="#1d6a2b"/>
<circle cx="269.7" cy="1061.4" r="2.6" fill="#1d6a2b"/>
<circle cx="312.9" cy="1061.0" r="2.6" fill="#1d6a2b"/>
<circle cx="301.6" cy="1059.6" r="2.6" fill="#1d6a2b"/>
<circle cx="308.5" cy="1060.9" r="2.6" fill="#1d6a2b"/>
<circle cx="318.9" cy="1059.7" r="2.6" fill="#1d6a2b"/>
<circle cx="289.9" cy="1059.1" r="2.6" fill="#1d6a2b"/>
<circle cx="285.8" cy="1061.1" r="2.6" fill="#1d6a2b"/>
<circle cx="292.9" cy="1060.4" r="2.6" fill="#1d6a2b"/>
<circle cx="310.9" cy="1059.9" r="2.6" fill="#1d6a2b"/>
<circle cx="311.6" cy="1061.0" r="2.6" fill="#1d6a2b"/>
<circle cx="309.3" cy="1061.6" r="2.6" fill="#1d6a2b"/>
<circle cx="303.8" cy="1061.4" r="2.6" fill="#1d6a2b"/>
<circle cx="324.3" cy="1057.0" r="2.6" fill="#1d6a2b"/>
<circle cx="249.9" cy="1061.9" r="2.6" fill="#1d6a2b"/>
<circle cx="313.4" cy="1061.1" r="2.6" fill="#1d6a2b"/>
<circle cx="322.2" cy="1057.5" r="2.6" fill="#1d6a2b"/>
<circle cx="303.0" cy="1060.2" r="2.6" fill="#1d6a2b"/>
<circle cx="319.4" cy="1060.0" r="2.6" fill="#1d6a2b"/>
<circle cx="258.0" cy="1059.5" r="2.6" fill="#1d6a2b"/>
<circle cx="258.9" cy="1059.9" r="2.6" fill="#1d6a2b"/>
<rect x="245" y="1057.5" width="81" height="6" fill="#1d6a2b"/>
<circle cx="446.1" cy="1033.0" r="2.9" fill="#e01b1b"/>
<circle cx="401.4" cy="944.3" r="2.9" fill="#e01b1b"/>
<circle cx="398.3" cy="1029.7" r="2.9" fill="#e01b1b"/>
<circle cx="442.0" cy="837.4" r="2.9" fill="#e01b1b"/>
<circle cx="468.4" cy="1010.8" r="2.9" fill="#e01b1b"/>
<circle cx="429.6" cy="962.4" r="2.9" fill="#e01b1b"/>
<circle cx="444.2" cy="912.5" r="2.9" fill="#e01b1b"/>
<circle cx="473.7" cy="945.7" r="2.9" fill="#e01b1b"/>
<circle cx="396.9" cy="851.0" r="2.9" fill="#e01b1b"/>
<circle cx="405.1" cy="870.8" r="2.9" fill="#e01b1b"/>
<circle cx="436.0" cy="785.9" r="2.9" fill="#e01b1b"/>
<circle cx="440.3" cy="873.9" r="2.9" fill="#e01b1b"/>
<circle cx="414.9" cy="894.4" r="2.9" fill="#e01b1b"/>
<circle cx="414.1" cy="834.9" r="2.9" fill="#e01b1b"/>
<circle cx="437.0" cy="1010.9" r="2.9" fill="#e01b1b"/>
<circle cx="412.4" cy="946.5" r="2.9" fill="#e01b1b"/>
<circle cx="456.1" cy="999.1" r="2.9" fill="#e01b1b"/>
<circle cx="454.1" cy="863.7" r="2.9" fill="#e01b1b"/>
<circle cx="399.4" cy="859.8" r="2.9" fill="#e01b1b"/>
<circle cx="399.9" cy="1013.2" r="2.9" fill="#e01b1b"/>
<circle cx="443.7" cy="983.3" r="2.9" fill="#e01b1b"/>
<circle cx="468.3" cy="915.2" r="2.9" fill="#e01b1b"/>
<circle cx="420.1" cy="820.9" r="2.9" fill="#e01b1b"/>
<circle cx="394.6" cy="842.6" r="2.9" fill="#e01b1b"/>
<circle cx="396.7" cy="1006.6" r="2.9" fill="#e01b1b"/>
<circle cx="474.8" cy="855.9" r="2.9" fill="#e01b1b"/>
<circle cx="411.4" cy="1015.4" r="2.9" fill="#e01b1b"/>
<circle cx="476.6" cy="860.7" r="2.9" fill="#e01b1b"/>
<circle cx="463.4" cy="1009.4" r="2.9" fill="#e01b1b"/>
<circle cx="446.4" cy="951.3" r="2.9" fill="#e01b1b"/>
<circle cx="412.4" cy="957.2" r="2.9" fill="#e01b1b"/>
<circle cx="445.4" cy="952.9" r="2.9" fill="#e01b1b"/>
<circle cx="425.6" cy="1010.3" r="2.9" fill="#e01b1b"/>
<circle cx="464.3" cy="865.8" r="2.9" fill="#e01b1b"/>
<circle cx="462.0" cy="928.8" r="2.9" fill="#e01b1b"/>
<circle cx="466.1" cy="904.4" r="2.9" fill="#e01b1b"/>
<circle cx="443.6" cy="888.0" r="2.9" fill="#e01b1b"/>
<circle cx="456.4" cy="939.6" r="2.9" fill="#e01b1b"/>
<circle cx="400.4" cy="1035.3" r="2.9" fill="#e01b1b"/>
<circle cx="409.6" cy="1033.9" r="2.9" fill="#e01b1b"/>
<circle cx="469.4" cy="915.0" r="2.9" fill="#e01b1b"/>
<circle cx="458.2" cy="1041.9" r="2.9" fill="#e01b1b"/>
<circle cx="432.9" cy="792.2" r="2.9" fill="#e01b1b"/>
<circle cx="445.9" cy="930.2" r="2.9" fill="#e01b1b"/>
<circle cx="432.5" cy="1019.5" r="2.9" fill="#e01b1b"/>
<circle cx="405.5" cy="1004.4" r="2.9" fill="#e01b1b"/>
<circle cx="424.6" cy="942.4" r="2.9" fill="#e01b1b"/>
<circle cx="468.6" cy="1006.2" r="2.9" fill="#e01b1b"/>
<circle cx="414.1" cy="972.7" r="2.9" fill="#e01b1b"/>
<circle cx="406.1" cy="970.0" r="2.9" fill="#e01b1b"/>
<circle cx="412.5" cy="914.7" r="2.9" fill="#e01b1b"/>
<circle cx="394.8" cy="781.5" r="2.9" fill="#e01b1b"/>
<circle cx="424.1" cy="777.3" r="2.9" fill="#e01b1b"/>
<circle cx="451.8" cy="858.0" r="2.9" fill="#e01b1b"/>
<circle cx="433.0" cy="775.0" r="2.9" fill="#e01b1b"/>
<circle cx="402.3" cy="859.6" r="2.9" fill="#e01b1b"/>
<circle cx="417.3" cy="857.8" r="2.9" fill="#e01b1b"/>
<circle cx="455.4" cy="1003.3" r="2.9" fill="#e01b1b"/>
<circle cx="409.5" cy="1037.1" r="2.9" fill="#e01b1b"/>
<circle cx="412.1" cy="1024.8" r="2.9" fill="#e01b1b"/>
<circle cx="426.9" cy="766.2" r="2.9" fill="#e01b1b"/>
<circle cx="423.7" cy="963.2" r="2.9" fill="#e01b1b"/>
<circle cx="432.7" cy="971.1" r="2.9" fill="#e01b1b"/>
<circle cx="455.7" cy="844.8" r="2.9" fill="#e01b1b"/>
<circle cx="406.2" cy="982.8" r="2.9" fill="#e01b1b"/>
<circle cx="450.5" cy="776.5" r="2.9" fill="#e01b1b"/>
<circle cx="448.2" cy="929.6" r="2.9" fill="#e01b1b"/>
<circle cx="476.9" cy="1040.9" r="2.9" fill="#e01b1b"/>
<circle cx="397.3" cy="826.1" r="2.9" fill="#e01b1b"/>
<circle cx="427.7" cy="1032.6" r="2.9" fill="#e01b1b"/>
<circle cx="439.7" cy="761.2" r="2.9" fill="#e01b1b"/>
<circle cx="437.1" cy="952.5" r="2.9" fill="#e01b1b"/>
<circle cx="400.2" cy="1026.5" r="2.9" fill="#e01b1b"/>
<circle cx="470.2" cy="912.1" r="2.9" fill="#e01b1b"/>
<circle cx="473.4" cy="1030.6" r="2.9" fill="#e01b1b"/>
<circle cx="413.2" cy="1031.4" r="2.9" fill="#e01b1b"/>
<circle cx="426.6" cy="1029.1" r="2.9" fill="#e01b1b"/>
<circle cx="414.2" cy="936.2" r="2.9" fill="#e01b1b"/>
<circle cx="418.6" cy="1031.2" r="2.9" fill="#e01b1b"/>
<circle cx="395.3" cy="766.9" r="2.9" fill="#e01b1b"/>
<circle cx="407.6" cy="907.0" r="2.9" fill="#e01b1b"/>
<circle cx="427.0" cy="900.4" r="2.9" fill="#e01b1b"/>
<circle cx="399.3" cy="962.6" r="2.9" fill="#e01b1b"/>
<circle cx="401.4" cy="897.2" r="2.9" fill="#e01b1b"/>
<circle cx="472.2" cy="880.6" r="2.9" fill="#e01b1b"/>
<circle cx="466.5" cy="989.8" r="2.9" fill="#e01b1b"/>
<circle cx="393.5" cy="897.9" r="2.9" fill="#e01b1b"/>
<circle cx="434.3" cy="888.5" r="2.9" fill="#e01b1b"/>
<circle cx="424.8" cy="872.6" r="2.9" fill="#e01b1b"/>
<circle cx="455.1" cy="785.1" r="2.9" fill="#e01b1b"/>
<circle cx="418.8" cy="924.3" r="2.9" fill="#e01b1b"/>
<circle cx="463.9" cy="987.2" r="2.9" fill="#e01b1b"/>
<circle cx="402.1" cy="963.2" r="2.9" fill="#e01b1b"/>
<circle cx="399.6" cy="828.2" r="2.9" fill="#e01b1b"/>
<circle cx="463.3" cy="962.9" r="2.9" fill="#e01b1b"/>
<circle cx="403.3" cy="1023.9" r="2.9" fill="#e01b1b"/>
<circle cx="413.3" cy="1023.3" r="2.9" fill="#e01b1b"/>
<circle cx="429.3" cy="886.9" r="2.9" fill="#e01b1b"/>
<circle cx="413.3" cy="1028.8" r="2.9" fill="#e01b1b"/>
<circle cx="453.0" cy="1031.9" r="2.9" fill="#e01b1b"/>
<circle cx="409.4" cy="970.3" r="2.9" fill="#e01b1b"/>
<circle cx="424.5" cy="1019.8" r="2.9" fill="#e01b1b"/>
<circle cx="428.6" cy="962.6" r="2.9" fill="#e01b1b"/>
<circle cx="457.5" cy="893.1" r="2.9" fill="#e01b1b"/>
<circle cx="470.0" cy="864.0" r="2.9" fill="#e01b1b"/>
<circle cx="458.1" cy="887.6" r="2.9" fill="#e01b1b"/>
<circle cx="430.5" cy="814.7" r="2.9" fill="#e01b1b"/>
<circle cx="449.0" cy="772.1" r="2.9" fill="#e01b1b"/>
<circle cx="455.3" cy="849.8" r="2.9" fill="#e01b1b"/>
<circle cx="415.3" cy="816.1" r="2.9" fill="#e01b1b"/>
<circle cx="425.3" cy="1011.8" r="2.9" fill="#e01b1b"/>
<circle cx="397.7" cy="1001.7" r="2.9" fill="#e01b1b"/>
<circle cx="414.8" cy="857.4" r="2.9" fill="#e01b1b"/>
<circle cx="416.8" cy="1028.3" r="2.9" fill="#e01b1b"/>
<circle cx="458.4" cy="892.7" r="2.9" fill="#e01b1b"/>
<circle cx="394.4" cy="1031.3" r="2.9" fill="#e01b1b"/>
<circle cx="403.3" cy="950.5" r="2.9" fill="#e01b1b"/>
<circle cx="466.8" cy="773.8" r="2.9" fill="#e01b1b"/>
<circle cx="445.2" cy="985.3" r="2.9" fill="#e01b1b"/>
<circle cx="429.3" cy="949.0" r="2.9" fill="#e01b1b"/>
<circle cx="420.7" cy="1039.7" r="2.9" fill="#e01b1b"/>
<circle cx="442.8" cy="811.6" r="2.9" fill="#e01b1b"/>
<circle cx="455.2" cy="1020.6" r="2.9" fill="#e01b1b"/>
<circle cx="438.1" cy="1001.2" r="2.9" fill="#e01b1b"/>
<circle cx="453.7" cy="925.1" r="2.9" fill="#e01b1b"/>
<circle cx="473.7" cy="821.4" r="2.9" fill="#e01b1b"/>
<circle cx="402.3" cy="961.7" r="2.9" fill="#e01b1b"/>
<circle cx="471.6" cy="920.8" r="2.9" fill="#e01b1b"/>
<circle cx="429.8" cy="926.5" r="2.9" fill="#e01b1b"/>
<circle cx="458.8" cy="777.8" r="2.9" fill="#e01b1b"/>
<circle cx="438.3" cy="767.5" r="2.9" fill="#e01b1b"/>
<circle cx="443.9" cy="1018.6" r="2.9" fill="#e01b1b"/>
<circle cx="462.8" cy="932.8" r="2.9" fill="#e01b1b"/>
<circle cx="396.6" cy="764.9" r="2.9" fill="#e01b1b"/>
<circle cx="394.9" cy="886.9" r="2.9" fill="#e01b1b"/>
<circle cx="433.9" cy="794.7" r="2.9" fill="#e01b1b"/>
<circle cx="426.2" cy="989.5" r="2.9" fill="#e01b1b"/>
<circle cx="416.1" cy="993.3" r="2.9" fill="#e01b1b"/>
<circle cx="440.9" cy="950.5" r="2.9" fill="#e01b1b"/>
<circle cx="457.3" cy="982.5" r="2.9" fill="#e01b1b"/>
<circle cx="422.6" cy="980.7" r="2.9" fill="#e01b1b"/>
<circle cx="477.5" cy="807.5" r="2.9" fill="#e01b1b"/>
<circle cx="465.9" cy="874.7" r="2.9" fill="#e01b1b"/>
<circle cx="426.9" cy="1008.6" r="2.9" fill="#e01b1b"/>
<circle cx="464.4" cy="912.4" r="2.9" fill="#e01b1b"/>
<circle cx="395.3" cy="1001.7" r="2.9" fill="#e01b1b"/>
<circle cx="400.6" cy="844.8" r="2.9" fill="#e01b1b"/>
<circle cx="470.3" cy="993.8" r="2.9" fill="#e01b1b"/>
<circle cx="461.3" cy="959.8" r="2.9" fill="#e01b1b"/>
<circle cx="451.4" cy="800.5" r="2.9" fill="#e01b1b"/>
<circle cx="446.0" cy="1043.7" r="2.7" fill="#e01b1b"/>
<circle cx="393.9" cy="1036.8" r="2.7" fill="#e01b1b"/>
<circle cx="436.5" cy="1041.0" r="2.7" fill="#e01b1b"/>
<circle cx="426.1" cy="1043.4" r="2.7" fill="#e01b1b"/>
<circle cx="420.0" cy="1037.6" r="2.7" fill="#e01b1b"/>
<circle cx="425.5" cy="1045.4" r="2.7" fill="#e01b1b"/>
<circle cx="433.5" cy="1043.8" r="2.7" fill="#e01b1b"/>
<circle cx="476.5" cy="1036.4" r="2.7" fill="#e01b1b"/>
<circle cx="462.3" cy="1032.0" r="2.7" fill="#e01b1b"/>
<circle cx="450.0" cy="1039.2" r="2.7" fill="#e01b1b"/>
<circle cx="438.6" cy="1043.9" r="2.7" fill="#e01b1b"/>
<circle cx="443.5" cy="1037.0" r="2.7" fill="#e01b1b"/>
<circle cx="450.8" cy="1038.1" r="2.7" fill="#e01b1b"/>
<circle cx="399.6" cy="1045.7" r="2.7" fill="#e01b1b"/>
<circle cx="400.4" cy="1038.1" r="2.7" fill="#e01b1b"/>
<circle cx="457.6" cy="1035.6" r="2.7" fill="#e01b1b"/>
<circle cx="453.7" cy="1038.2" r="2.7" fill="#e01b1b"/>
<circle cx="416.3" cy="1023.3" r="2.7" fill="#e01b1b"/>
<circle cx="453.9" cy="1030.4" r="2.7" fill="#e01b1b"/>
<circle cx="449.9" cy="1039.0" r="2.7" fill="#e01b1b"/>
<circle cx="474.3" cy="1033.6" r="2.7" fill="#e01b1b"/>
<circle cx="464.3" cy="1036.9" r="2.7" fill="#e01b1b"/>
<circle cx="455.8" cy="1041.2" r="2.7" fill="#e01b1b"/>
<circle cx="436.9" cy="1042.2" r="2.7" fill="#e01b1b"/>
<circle cx="469.2" cy="1045.0" r="2.7" fill="#e01b1b"/>
<circle cx="439.2" cy="1017.2" r="2.7" fill="#e01b1b"/>
<circle cx="426.4" cy="1036.1" r="2.7" fill="#e01b1b"/>
<circle cx="408.1" cy="1046.8" r="2.7" fill="#e01b1b"/>
<circle cx="448.5" cy="1027.5" r="2.7" fill="#e01b1b"/>
<circle cx="445.2" cy="1032.7" r="2.7" fill="#e01b1b"/>
<circle cx="425.9" cy="1034.0" r="2.7" fill="#e01b1b"/>
<circle cx="440.0" cy="1036.4" r="2.7" fill="#e01b1b"/>
<circle cx="453.8" cy="1030.9" r="2.7" fill="#e01b1b"/>
<circle cx="411.1" cy="1030.7" r="2.7" fill="#e01b1b"/>
<circle cx="419.0" cy="1045.3" r="2.7" fill="#e01b1b"/>
<circle cx="469.3" cy="1031.7" r="2.7" fill="#e01b1b"/>
<circle cx="407.2" cy="1034.4" r="2.7" fill="#e01b1b"/>
<circle cx="412.1" cy="1033.1" r="2.7" fill="#e01b1b"/>
<circle cx="398.3" cy="1028.0" r="2.7" fill="#e01b1b"/>
<circle cx="467.7" cy="1038.7" r="2.7" fill="#e01b1b"/>
<circle cx="454.9" cy="1037.0" r="2.7" fill="#e01b1b"/>
<circle cx="437.9" cy="1041.2" r="2.7" fill="#e01b1b"/>
<circle cx="469.9" cy="1044.1" r="2.7" fill="#e01b1b"/>
<circle cx="444.5" cy="1038.5" r="2.7" fill="#e01b1b"/>
<circle cx="475.2" cy="1045.9" r="2.7" fill="#e01b1b"/>
<circle cx="402.8" cy="1044.5" r="2.7" fill="#e01b1b"/>
<circle cx="440.8" cy="1041.4" r="2.7" fill="#e01b1b"/>
<circle cx="409.2" cy="1042.8" r="2.7" fill="#e01b1b"/>
<circle cx="443.5" cy="1036.8" r="2.7" fill="#e01b1b"/>
<circle cx="455.0" cy="1033.6" r="2.7" fill="#e01b1b"/>
<circle cx="398.2" cy="1026.2" r="2.7" fill="#e01b1b"/>
<circle cx="474.4" cy="1045.0" r="2.7" fill="#e01b1b"/>
<circle cx="420.1" cy="1037.7" r="2.7" fill="#e01b1b"/>
<circle cx="471.8" cy="1034.2" r="2.7" fill="#e01b1b"/>
<circle cx="412.5" cy="1040.1" r="2.7" fill="#e01b1b"/>
<circle cx="433.5" cy="1027.1" r="2.7" fill="#e01b1b"/>
<circle cx="401.6" cy="1044.8" r="2.7" fill="#e01b1b"/>
<circle cx="400.9" cy="1041.0" r="2.7" fill="#e01b1b"/>
<circle cx="405.9" cy="1043.1" r="2.7" fill="#e01b1b"/>
<circle cx="457.4" cy="1043.6" r="2.7" fill="#e01b1b"/>
<circle cx="455.6" cy="1039.0" r="2.7" fill="#e01b1b"/>
<circle cx="453.6" cy="1028.9" r="2.7" fill="#e01b1b"/>
<circle cx="471.5" cy="1032.2" r="2.7" fill="#e01b1b"/>
<circle cx="475.0" cy="1042.9" r="2.7" fill="#e01b1b"/>
<circle cx="401.8" cy="1043.8" r="2.7" fill="#e01b1b"/>
<circle cx="410.5" cy="1044.6" r="2.7" fill="#e01b1b"/>
<circle cx="424.8" cy="1030.9" r="2.7" fill="#e01b1b"/>
<circle cx="456.1" cy="1042.7" r="2.7" fill="#e01b1b"/>
<circle cx="400.1" cy="1035.7" r="2.7" fill="#e01b1b"/>
<circle cx="424.9" cy="1039.1" r="2.7" fill="#e01b1b"/>
<circle cx="403.0" cy="1038.3" r="2.7" fill="#e01b1b"/>
<circle cx="451.1" cy="1040.9" r="2.7" fill="#e01b1b"/>
<circle cx="435.1" cy="1021.2" r="2.7" fill="#e01b1b"/>
<circle cx="399.1" cy="1040.8" r="2.7" fill="#e01b1b"/>
<circle cx="457.6" cy="1045.3" r="2.7" fill="#e01b1b"/>
<circle cx="402.9" cy="1037.9" r="2.7" fill="#e01b1b"/>
<circle cx="433.7" cy="1036.1" r="2.7" fill="#e01b1b"/>
<circle cx="471.1" cy="1032.7" r="2.7" fill="#e01b1b"/>
<circle cx="425.5" cy="1043.7" r="2.7" fill="#e01b1b"/>
<circle cx="452.2" cy="1034.5" r="2.7" fill="#e01b1b"/>
<circle cx="460.1" cy="1038.8" r="2.7" fill="#e01b1b"/>
<circle cx="421.6" cy="1042.8" r="2.7" fill="#e01b1b"/>
<circle cx="465.1" cy="1043.5" r="2.7" fill="#e01b1b"/>
<circle cx="428.8" cy="1046.6" r="2.7" fill="#e01b1b"/>
<circle cx="413.2" cy="1044.8" r="2.7" fill="#e01b1b"/>
<circle cx="416.0" cy="1043.3" r="2.7" fill="#e01b1b"/>
<circle cx="401.2" cy="1015.5" r="2.7" fill="#e01b1b"/>
<circle cx="439.0" cy="1042.5" r="2.7" fill="#e01b1b"/>
<circle cx="425.8" cy="1042.6" r="2.7" fill="#e01b1b"/>
<circle cx="423.2" cy="1045.1" r="2.7" fill="#e01b1b"/>
<rect x="394" y="1047" width="83" height="17" rx="3" fill="#e01b1b"/>
<line x1="585.1" y1="742.2" x2="585.1" y2="869.5" stroke="#c57a2a" stroke-width="1.5"/>
<line x1="585.1" y1="1044.4" x2="585.1" y2="1062.5" stroke="#c57a2a" stroke-width="1.5"/>
<rect x="543.3" y="869.5" width="82.7" height="174.9" fill="#f3b730" stroke="#c57a2a" stroke-width="1.4"/>
<line x1="543.3" y1="932.2" x2="626" y2="932.2" stroke="#bf6a1c" stroke-width="3"/>
<circle cx="606.7" cy="755.0" r="2.5" fill="#b4621f"/>
<circle cx="557.0" cy="806.7" r="2.5" fill="#b4621f"/>
<circle cx="577.1" cy="813.0" r="2.5" fill="#b4621f"/>
<circle cx="558.2" cy="843.8" r="2.5" fill="#b4621f"/>
<circle cx="594.7" cy="860.5" r="2.5" fill="#b4621f"/>
<circle cx="586.7" cy="873.3" r="2.5" fill="#b4621f"/>
<circle cx="552.5" cy="877.2" r="2.5" fill="#b4621f"/>
<circle cx="574.7" cy="896.1" r="2.5" fill="#b4621f"/>
<circle cx="593.4" cy="891.9" r="2.5" fill="#b4621f"/>
<circle cx="604.2" cy="895.3" r="2.5" fill="#b4621f"/>
<circle cx="615.2" cy="922.2" r="2.5" fill="#b4621f"/>
<circle cx="565.3" cy="942.4" r="2.5" fill="#b4621f"/>
<circle cx="571.6" cy="971.9" r="2.5" fill="#b4621f"/>
<circle cx="550.7" cy="977.0" r="2.5" fill="#b4621f"/>
<circle cx="587.5" cy="998.2" r="2.5" fill="#b4621f"/>
<circle cx="550.3" cy="1042.8" r="2.5" fill="#b4621f"/>
<circle cx="617.5" cy="1041.5" r="2.5" fill="#b4621f"/>
<circle cx="582.6" cy="1049.1" r="2.5" fill="#b4621f"/>
<circle cx="559.6" cy="1057.6" r="2.5" fill="#b4621f"/>
<circle cx="548.8" cy="1061.5" r="2.5" fill="#b4621f"/>
<circle cx="564.9" cy="1061.5" r="2.5" fill="#b4621f"/>
<circle cx="583.7" cy="1062.9" r="2.5" fill="#b4621f"/>
<circle cx="559.0" cy="1059.1" r="2.5" fill="#b4621f"/>
<text x="967.60" y="732.90" font-size="40" fill="#000" stroke="#000" stroke-width="0.2" >f</text>
<g fill="#161010">
<text x="1134.40" y="723.30" font-size="23.3" fill="#161010" stroke="#161010" stroke-width="0.3" >Sorafenib</text>
<text x="1134.95" y="748.40" font-size="23.3" fill="#161010" stroke="#161010" stroke-width="0.3" >treatment</text>
<text x="1324.00" y="752.50" font-size="23.3" fill="#161010" stroke="#161010" stroke-width="0.3" >S100P (6286)</text>
<text x="1345.20" y="801.70" font-size="23.3" fill="#161010" stroke="#161010" stroke-width="0.3" >HR=7.29 (0.93-57.43)</text>
<text x="1408.25" y="831.80" font-size="23.3" fill="#161010" stroke="#161010" stroke-width="0.3" >logrank P=0.029</text>
<text x="1118.80" y="1089.00" font-size="23.3" fill="#161010" stroke="#161010" stroke-width="0.3" >Expression</text>
<text x="1183.90" y="1122.90" font-size="23.3" fill="#161010" stroke="#161010" stroke-width="0.3" >low</text>
<text x="1185.20" y="1148.70" font-size="23.3" fill="#161010" stroke="#161010" stroke-width="0.3" >high</text>
<text x="1249.50" y="1233.50" font-size="23.3" fill="#161010" stroke="#161010" stroke-width="0.3" >Time (months)</text>
<text x="1063.80" y="1252.30" font-size="23.3" fill="#161010" stroke="#161010" stroke-width="0.3" >Number at risk</text>
<text transform="translate(1036.00,1041.95) rotate(-90)" x="0" y="0" font-size="23.3" fill="#161010" stroke="#161010" stroke-width="0.3">Probability</text>
<text transform="translate(1088.30,805.38) rotate(-90)" x="0" y="0" font-size="23.3" fill="#161010" stroke="#161010" stroke-width="0.3">1.0</text>
<text transform="translate(1088.30,878.25) rotate(-90)" x="0" y="0" font-size="23.3" fill="#161010" stroke="#161010" stroke-width="0.3">0.8</text>
<text transform="translate(1088.30,947.85) rotate(-90)" x="0" y="0" font-size="23.3" fill="#161010" stroke="#161010" stroke-width="0.3">0.6</text>
<text transform="translate(1088.30,1019.77) rotate(-90)" x="0" y="0" font-size="23.3" fill="#161010" stroke="#161010" stroke-width="0.3">0.4</text>
<text transform="translate(1088.30,1088.53) rotate(-90)" x="0" y="0" font-size="23.3" fill="#161010" stroke="#161010" stroke-width="0.3">0.2</text>
<text transform="translate(1088.30,1159.15) rotate(-90)" x="0" y="0" font-size="23.3" fill="#161010" stroke="#161010" stroke-width="0.3">0.0</text>
<text x="1130.20" y="1198.50" font-size="23.3" fill="#161010" stroke="#161010" stroke-width="0.3" >0</text>
<text x="1225.62" y="1198.50" font-size="23.3" fill="#161010" stroke="#161010" stroke-width="0.3" >20</text>
<text x="1334.25" y="1198.50" font-size="23.3" fill="#161010" stroke="#161010" stroke-width="0.3" >40</text>
<text x="1442.28" y="1198.50" font-size="23.3" fill="#161010" stroke="#161010" stroke-width="0.3" >60</text>
<text x="1550.30" y="1198.50" font-size="23.3" fill="#161010" stroke="#161010" stroke-width="0.3" >80</text>
<text x="1109.25" y="1288.00" font-size="23.3" fill="#161010" stroke="#161010" stroke-width="0.3" >low</text>
<text x="1099.20" y="1329.00" font-size="23.3" fill="#dc2222" stroke="#dc2222" stroke-width="0.3" >high</text>
<text x="1172.03" y="1288.00" font-size="23.3" fill="#161010" stroke="#161010" stroke-width="0.3" >10</text>
<text x="1265.38" y="1288.00" font-size="23.3" fill="#161010" stroke="#161010" stroke-width="0.3" >6</text>
<text x="1346.50" y="1288.00" font-size="23.3" fill="#161010" stroke="#161010" stroke-width="0.3" >2</text>
<text x="1430.20" y="1288.00" font-size="23.3" fill="#161010" stroke="#161010" stroke-width="0.3" >2</text>
<text x="1516.50" y="1288.00" font-size="23.3" fill="#161010" stroke="#161010" stroke-width="0.3" >2</text>
<text x="1172.15" y="1329.00" font-size="23.3" fill="#dc2222" stroke="#dc2222" stroke-width="0.3" >19</text>
<text x="1258.62" y="1329.00" font-size="23.3" fill="#dc2222" stroke="#dc2222" stroke-width="0.3" >13</text>
<text x="1346.50" y="1329.00" font-size="23.3" fill="#dc2222" stroke="#dc2222" stroke-width="0.3" >3</text>
<text x="1430.20" y="1329.00" font-size="23.3" fill="#dc2222" stroke="#dc2222" stroke-width="0.3" >0</text>
<text x="1516.50" y="1329.00" font-size="23.3" fill="#dc2222" stroke="#dc2222" stroke-width="0.3" >0</text>
</g>
<rect x="1110.5" y="764.8" width="502" height="399.2" fill="none" stroke="#000" stroke-width="2.2"/>
<line x1="1101.60" y1="1149.60" x2="1110.50" y2="1149.60" stroke="#000" stroke-width="2.2" />
<line x1="1101.60" y1="1075.43" x2="1110.50" y2="1075.43" stroke="#000" stroke-width="2.2" />
<line x1="1101.60" y1="1001.26" x2="1110.50" y2="1001.26" stroke="#000" stroke-width="2.2" />
<line x1="1101.60" y1="927.09" x2="1110.50" y2="927.09" stroke="#000" stroke-width="2.2" />
<line x1="1101.60" y1="852.92" x2="1110.50" y2="852.92" stroke="#000" stroke-width="2.2" />
<line x1="1101.60" y1="778.75" x2="1110.50" y2="778.75" stroke="#000" stroke-width="2.2" />
<line x1="1129.00" y1="1164.00" x2="1129.00" y2="1173.50" stroke="#000" stroke-width="2.2" />
<line x1="1239.15" y1="1164.00" x2="1239.15" y2="1173.50" stroke="#000" stroke-width="2.2" />
<line x1="1349.30" y1="1164.00" x2="1349.30" y2="1173.50" stroke="#000" stroke-width="2.2" />
<line x1="1459.45" y1="1164.00" x2="1459.45" y2="1173.50" stroke="#000" stroke-width="2.2" />
<line x1="1569.60" y1="1164.00" x2="1569.60" y2="1173.50" stroke="#000" stroke-width="2.2" />
<line x1="1130.40" y1="1117.90" x2="1172.00" y2="1117.90" stroke="#000" stroke-width="2.2" />
<line x1="1130.40" y1="1141.30" x2="1172.00" y2="1141.30" stroke="#d2475f" stroke-width="2.0" />
<path d="M1129.0,779.5 H1284.8 V902.6 H1579.6 V1025.4 H1593.8 V1149.6" fill="none" stroke="#000" stroke-width="2.2"/>
<path d="M1194.0,774.3 V784.7 M1189.0,779.5 H1199.0" stroke="#000" stroke-width="2.2" fill="none"/>
<path d="M1201.9,774.3 V784.7 M1196.9,779.5 H1206.9" stroke="#000" stroke-width="2.2" fill="none"/>
<path d="M1232.1,774.3 V784.7 M1227.1,779.5 H1237.1" stroke="#000" stroke-width="2.2" fill="none"/>
<path d="M1235.0,774.3 V784.7 M1230.0,779.5 H1240.0" stroke="#000" stroke-width="2.2" fill="none"/>
<path d="M1238.9,774.3 V784.7 M1233.9,779.5 H1243.9" stroke="#000" stroke-width="2.2" fill="none"/>
<path d="M1256.9,774.3 V784.7 M1251.9,779.5 H1261.9" stroke="#000" stroke-width="2.2" fill="none"/>
<path d="M1272.2,774.3 V784.7 M1267.2,779.5 H1277.2" stroke="#000" stroke-width="2.2" fill="none"/>
<path d="M1129.0,779.5 H1180.5 V798.9 H1197.6 V819.5 H1205.7 V840.0 H1231.1 V881.6 H1243.6 V903.9 H1244.9 V926.1 H1250.4 V948.4 H1270.2 V973.7 H1313.6 V1017.8 H1380.4 V1061.4 H1415.5 V1149.6" fill="none" stroke="#d2475f" stroke-width="2"/>
<path d="M1196.5,793.9 V803.9 M1191.5,798.9 H1201.5" stroke="#d2475f" stroke-width="1.8" fill="none"/>
<path d="M1242.0,876.6 V886.6 M1237.0,881.6 H1247.0" stroke="#d2475f" stroke-width="1.8" fill="none"/>
<path d="M1252.0,943.4 V953.4 M1247.0,948.4 H1257.0" stroke="#d2475f" stroke-width="1.8" fill="none"/>
<path d="M1284.8,968.7 V978.7 M1279.8,973.7 H1289.8" stroke="#d2475f" stroke-width="1.8" fill="none"/>
<path d="M1297.9,968.7 V978.7 M1292.9,973.7 H1302.9" stroke="#d2475f" stroke-width="1.8" fill="none"/>
<path d="M1403.1,1056.4 V1066.4 M1398.1,1061.4 H1408.1" stroke="#d2475f" stroke-width="1.8" fill="none"/>
<text x="10.05" y="1168.40" font-size="40" fill="#000" stroke="#000" stroke-width="0.2" >g</text>
<g>
<text x="267.60" y="1184.20" font-size="23.3" fill="#161010" stroke="#161010" stroke-width="0.3" >S100P/ACC1</text>
<text x="355.40" y="1239.50" font-size="23.3" fill="#161010" stroke="#161010" stroke-width="0.3" >HR=1.73 (1.22-2.44)</text>
<text x="383.95" y="1280.50" font-size="23.3" fill="#161010" stroke="#161010" stroke-width="0.3" >logrank P=0.0017</text>
<text x="94.70" y="1545.50" font-size="23.3" fill="#161010" stroke="#161010" stroke-width="0.3" >Expression</text>
<text x="151.50" y="1589.00" font-size="23.3" fill="#161010" stroke="#161010" stroke-width="0.3" >low</text>
<text x="150.90" y="1621.00" font-size="23.3" fill="#161010" stroke="#161010" stroke-width="0.3" >high</text>
<text x="272.50" y="1708.50" font-size="23.3" fill="#161010" stroke="#161010" stroke-width="0.3" >Time (months)</text>
<text x="84.70" y="1740.00" font-size="23.3" fill="#161010" stroke="#161010" stroke-width="0.3" >Number at risk</text>
<text transform="translate(14.50,1481.95) rotate(-90)" x="0" y="0" font-size="23.3" fill="#161010" stroke="#161010" stroke-width="0.3">Probability</text>
<text transform="translate(56.50,1243.33) rotate(-90)" x="0" y="0" font-size="23.3" fill="#161010" stroke="#161010" stroke-width="0.3">1.0</text>
<text transform="translate(56.50,1320.05) rotate(-90)" x="0" y="0" font-size="23.3" fill="#161010" stroke="#161010" stroke-width="0.3">0.8</text>
<text transform="translate(56.50,1396.25) rotate(-90)" x="0" y="0" font-size="23.3" fill="#161010" stroke="#161010" stroke-width="0.3">0.6</text>
<text transform="translate(56.50,1470.38) rotate(-90)" x="0" y="0" font-size="23.3" fill="#161010" stroke="#161010" stroke-width="0.3">0.4</text>
<text transform="translate(56.50,1545.72) rotate(-90)" x="0" y="0" font-size="23.3" fill="#161010" stroke="#161010" stroke-width="0.3">0.2</text>
<text transform="translate(56.50,1625.15) rotate(-90)" x="0" y="0" font-size="23.3" fill="#161010" stroke="#161010" stroke-width="0.3">0.0</text>
<text x="80.20" y="1676.00" font-size="23.3" fill="#161010" stroke="#161010" stroke-width="0.3" >0</text>
<text x="158.47" y="1676.00" font-size="23.3" fill="#161010" stroke="#161010" stroke-width="0.3" >20</text>
<text x="232.65" y="1676.00" font-size="23.3" fill="#161010" stroke="#161010" stroke-width="0.3" >40</text>
<text x="318.27" y="1676.00" font-size="23.3" fill="#161010" stroke="#161010" stroke-width="0.3" >60</text>
<text x="400.30" y="1676.00" font-size="23.3" fill="#161010" stroke="#161010" stroke-width="0.3" >80</text>
<text x="466.55" y="1676.00" font-size="23.3" fill="#161010" stroke="#161010" stroke-width="0.3" >100</text>
<text x="546.65" y="1676.00" font-size="23.3" fill="#161010" stroke="#161010" stroke-width="0.3" >120</text>
<text x="27.25" y="1775.50" font-size="23.3" fill="#161010" stroke="#161010" stroke-width="0.3" >low</text>
<text x="23.90" y="1810.00" font-size="23.3" fill="#dc2222" stroke="#dc2222" stroke-width="0.3" >high</text>
<text x="87.62" y="1775.50" font-size="23.3" fill="#161010" stroke="#161010" stroke-width="0.3" >221</text>
<text x="175.85" y="1775.50" font-size="23.3" fill="#161010" stroke="#161010" stroke-width="0.3" >120</text>
<text x="270.52" y="1775.50" font-size="23.3" fill="#161010" stroke="#161010" stroke-width="0.3" >51</text>
<text x="353.12" y="1775.50" font-size="23.3" fill="#161010" stroke="#161010" stroke-width="0.3" >31</text>
<text x="436.02" y="1775.50" font-size="23.3" fill="#161010" stroke="#161010" stroke-width="0.3" >13</text>
<text x="510.23" y="1775.50" font-size="23.3" fill="#161010" stroke="#161010" stroke-width="0.3" >4</text>
<text x="577.05" y="1775.50" font-size="23.3" fill="#161010" stroke="#161010" stroke-width="0.3" >1</text>
<text x="87.25" y="1816.00" font-size="23.3" fill="#dc2222" stroke="#dc2222" stroke-width="0.3" >143</text>
<text x="179.60" y="1816.00" font-size="23.3" fill="#dc2222" stroke="#dc2222" stroke-width="0.3" >62</text>
<text x="273.00" y="1816.00" font-size="23.3" fill="#dc2222" stroke="#dc2222" stroke-width="0.3" >33</text>
<text x="352.93" y="1816.00" font-size="23.3" fill="#dc2222" stroke="#dc2222" stroke-width="0.3" >11</text>
<text x="440.38" y="1816.00" font-size="23.3" fill="#dc2222" stroke="#dc2222" stroke-width="0.3" >6</text>
<text x="510.50" y="1816.00" font-size="23.3" fill="#dc2222" stroke="#dc2222" stroke-width="0.3" >2</text>
<text x="580.20" y="1816.00" font-size="23.3" fill="#dc2222" stroke="#dc2222" stroke-width="0.3" >0</text>
</g>
<rect x="75" y="1208.3" width="531" height="425.4" fill="none" stroke="#000" stroke-width="2.2"/>
<line x1="64.70" y1="1618.10" x2="75.00" y2="1618.10" stroke="#000" stroke-width="2.2" />
<line x1="64.70" y1="1539.54" x2="75.00" y2="1539.54" stroke="#000" stroke-width="2.2" />
<line x1="64.70" y1="1460.98" x2="75.00" y2="1460.98" stroke="#000" stroke-width="2.2" />
<line x1="64.70" y1="1382.42" x2="75.00" y2="1382.42" stroke="#000" stroke-width="2.2" />
<line x1="64.70" y1="1303.86" x2="75.00" y2="1303.86" stroke="#000" stroke-width="2.2" />
<line x1="64.70" y1="1225.30" x2="75.00" y2="1225.30" stroke="#000" stroke-width="2.2" />
<line x1="95.20" y1="1633.70" x2="95.20" y2="1643.00" stroke="#000" stroke-width="2.2" />
<line x1="175.15" y1="1633.70" x2="175.15" y2="1643.00" stroke="#000" stroke-width="2.2" />
<line x1="255.10" y1="1633.70" x2="255.10" y2="1643.00" stroke="#000" stroke-width="2.2" />
<line x1="335.05" y1="1633.70" x2="335.05" y2="1643.00" stroke="#000" stroke-width="2.2" />
<line x1="415.00" y1="1633.70" x2="415.00" y2="1643.00" stroke="#000" stroke-width="2.2" />
<line x1="494.95" y1="1633.70" x2="494.95" y2="1643.00" stroke="#000" stroke-width="2.2" />
<line x1="574.90" y1="1633.70" x2="574.90" y2="1643.00" stroke="#000" stroke-width="2.2" />
<line x1="96.00" y1="1583.90" x2="139.50" y2="1583.90" stroke="#000" stroke-width="2.2" />
<line x1="96.00" y1="1609.40" x2="139.50" y2="1609.40" stroke="#d2475f" stroke-width="2.0" />
<path d="M95.3,1225.0 H96.8 V1229.2 H98.3 V1233.3 H100.4 V1236.7 H102.5 V1240.0 H104.6 V1244.2 H106.7 V1248.3 H108.0 V1252.5 H109.2 V1256.7 H111.7 V1261.7 H115.8 V1266.7 H117.9 V1270.0 H120.0 V1273.3 H121.7 V1276.7 H123.3 V1280.0 H125.0 V1283.3 H126.7 V1286.7 H128.3 V1290.0 H130.0 V1293.3 H131.7 V1296.7 H133.3 V1300.0 H134.6 V1303.3 H135.8 V1306.7 H137.1 V1310.0 H138.3 V1313.3 H140.8 V1318.3 H142.1 V1322.5 H143.3 V1326.7 H145.0 V1330.0 H146.7 V1333.3 H148.3 V1337.5 H150.0 V1341.7 H153.3 V1346.7 H157.5 V1351.7 H163.3 V1355.8 H166.7 V1361.7 H170.8 V1365.8 H176.7 V1368.3 H178.3 V1371.7 H180.0 V1375.0 H196.7 V1375.8 H197.5 V1379.5 H198.3 V1383.3 H203.3 V1385.8 H206.7 V1388.3 H218.3 V1390.8 H221.7 V1394.2 H240.0 V1395.8 H240.8 V1401.7 H258.3 V1402.5 H259.2 V1408.3 H276.7 V1409.2 H277.6 V1412.9 H278.5 V1416.7 H279.5 V1420.4 H280.4 V1424.1 H281.3 V1427.8 H282.2 V1431.5 H283.2 V1435.2 H284.1 V1438.9 H287.8 V1442.6 H291.5 V1446.3 H295.2 V1450.0 H298.9 V1453.6 H302.6 V1457.3 H319.2 V1483.2 H377.1 V1499.8 H426.9 V1529.3 H563.8" fill="none" stroke="#d2475f" stroke-width="2"/>
<path d="M95.3,1225.0 H97.4 V1228.9 H99.6 V1232.8 H101.7 V1236.7 H104.2 V1240.0 H106.7 V1243.3 H108.8 V1247.5 H110.8 V1251.7 H113.3 V1255.0 H131.7 V1257.5 H132.8 V1260.6 H133.9 V1263.6 H135.0 V1266.7 H137.5 V1270.0 H146.7 V1273.3 H150.0 V1277.5 H153.3 V1281.7 H166.7 V1284.2 H170.0 V1288.3 H173.3 V1292.5 H176.7 V1296.7 H178.3 V1300.0 H180.0 V1303.3 H181.7 V1306.7 H183.3 V1310.0 H185.8 V1313.3 H188.3 V1316.7 H191.7 V1320.0 H195.0 V1323.3 H200.0 V1328.3 H206.7 V1333.3 H207.5 V1336.6 H208.4 V1340.0 H209.2 V1343.3 H215.0 V1346.7 H228.3 V1349.2 H246.7 V1352.5 H247.5 V1356.7 H248.3 V1360.8 H250.0 V1366.7 H260.0 V1370.0 H261.6 V1373.3 H263.3 V1376.7 H311.0 V1389.8 H335.8 V1398.3 H343.2 V1403.8 H378.2 V1414.2 H422.5 V1434.5 H432.5 V1455.5 H432.9 V1458.8 H433.2 V1462.0 H433.6 V1465.2 H434.0 V1468.5 H434.3 V1471.8 H434.7 V1475.0 H512.2 V1510.8 H529.5 V1547.0 H590.4" fill="none" stroke="#000" stroke-width="2.2"/>
<path d="M137.7,1265.1 V1275.1 M132.7,1270.1 H142.7" stroke="#000" stroke-width="2" fill="none"/>
<path d="M188.9,1312.3 V1322.3 M183.9,1317.3 H193.9" stroke="#000" stroke-width="2" fill="none"/>
<path d="M159.8,1277.9 V1287.9 M154.8,1282.9 H164.8" stroke="#000" stroke-width="2" fill="none"/>
<path d="M198.9,1322.2 V1332.2 M193.9,1327.2 H203.9" stroke="#000" stroke-width="2" fill="none"/>
<path d="M202.5,1325.2 V1335.2 M197.5,1330.2 H207.5" stroke="#000" stroke-width="2" fill="none"/>
<path d="M108.9,1242.9 V1252.9 M103.9,1247.9 H113.9" stroke="#000" stroke-width="2" fill="none"/>
<path d="M100.2,1229.0 V1239.0 M95.2,1234.0 H105.2" stroke="#000" stroke-width="2" fill="none"/>
<path d="M237.9,1345.9 V1355.9 M232.9,1350.9 H242.9" stroke="#000" stroke-width="2" fill="none"/>
<path d="M141.3,1266.4 V1276.4 M136.3,1271.4 H146.3" stroke="#000" stroke-width="2" fill="none"/>
<path d="M137.1,1264.5 V1274.5 M132.1,1269.5 H142.1" stroke="#000" stroke-width="2" fill="none"/>
<path d="M264.3,1371.7 V1381.7 M259.3,1376.7 H269.3" stroke="#000" stroke-width="2" fill="none"/>
<path d="M176.5,1291.5 V1301.5 M171.5,1296.5 H181.5" stroke="#000" stroke-width="2" fill="none"/>
<path d="M237.7,1345.9 V1355.9 M232.7,1350.9 H242.7" stroke="#000" stroke-width="2" fill="none"/>
<path d="M177.6,1293.4 V1303.4 M172.6,1298.4 H182.6" stroke="#000" stroke-width="2" fill="none"/>
<path d="M204.7,1326.8 V1336.8 M199.7,1331.8 H209.7" stroke="#000" stroke-width="2" fill="none"/>
<path d="M123.2,1251.3 V1261.3 M118.2,1256.3 H128.2" stroke="#000" stroke-width="2" fill="none"/>
<path d="M204.0,1326.3 V1336.3 M199.0,1331.3 H209.0" stroke="#000" stroke-width="2" fill="none"/>
<path d="M243.0,1346.8 V1356.8 M238.0,1351.8 H248.0" stroke="#000" stroke-width="2" fill="none"/>
<path d="M185.4,1307.8 V1317.8 M180.4,1312.8 H190.4" stroke="#000" stroke-width="2" fill="none"/>
<path d="M221.8,1343.0 V1353.0 M216.8,1348.0 H226.8" stroke="#000" stroke-width="2" fill="none"/>
<path d="M210.1,1338.8 V1348.8 M205.1,1343.8 H215.1" stroke="#000" stroke-width="2" fill="none"/>
<path d="M108.7,1242.4 V1252.4 M103.7,1247.4 H113.7" stroke="#000" stroke-width="2" fill="none"/>
<path d="M224.6,1343.5 V1353.5 M219.6,1348.5 H229.6" stroke="#000" stroke-width="2" fill="none"/>
<path d="M196.7,1320.0 V1330.0 M191.7,1325.0 H201.7" stroke="#000" stroke-width="2" fill="none"/>
<path d="M148.3,1270.4 V1280.4 M143.3,1275.4 H153.3" stroke="#000" stroke-width="2" fill="none"/>
<path d="M103.2,1233.7 V1243.7 M98.2,1238.7 H108.2" stroke="#000" stroke-width="2" fill="none"/>
<path d="M242.5,1346.8 V1356.8 M237.5,1351.8 H247.5" stroke="#000" stroke-width="2" fill="none"/>
<path d="M176.9,1292.2 V1302.2 M171.9,1297.2 H181.9" stroke="#000" stroke-width="2" fill="none"/>
<path d="M218.0,1342.3 V1352.3 M213.0,1347.3 H223.0" stroke="#000" stroke-width="2" fill="none"/>
<path d="M244.8,1347.2 V1357.2 M239.8,1352.2 H249.8" stroke="#000" stroke-width="2" fill="none"/>
<path d="M217.3,1342.1 V1352.1 M212.3,1347.1 H222.3" stroke="#000" stroke-width="2" fill="none"/>
<path d="M251.8,1362.3 V1372.3 M246.8,1367.3 H256.8" stroke="#000" stroke-width="2" fill="none"/>
<path d="M164.0,1278.7 V1288.7 M159.0,1283.7 H169.0" stroke="#000" stroke-width="2" fill="none"/>
<path d="M231.8,1344.8 V1354.8 M226.8,1349.8 H236.8" stroke="#000" stroke-width="2" fill="none"/>
<path d="M172.3,1286.1 V1296.1 M167.3,1291.1 H177.3" stroke="#000" stroke-width="2" fill="none"/>
<path d="M254.2,1363.1 V1373.1 M249.2,1368.1 H259.2" stroke="#000" stroke-width="2" fill="none"/>
<path d="M244.8,1347.2 V1357.2 M239.8,1352.2 H249.8" stroke="#000" stroke-width="2" fill="none"/>
<path d="M114.3,1250.1 V1260.1 M109.3,1255.1 H119.3" stroke="#000" stroke-width="2" fill="none"/>
<path d="M120.7,1251.0 V1261.0 M115.7,1256.0 H125.7" stroke="#000" stroke-width="2" fill="none"/>
<path d="M134.2,1259.6 V1269.6 M129.2,1264.6 H139.2" stroke="#000" stroke-width="2" fill="none"/>
<path d="M259.2,1364.7 V1374.7 M254.2,1369.7 H264.2" stroke="#000" stroke-width="2" fill="none"/>
<path d="M170.8,1284.4 V1294.4 M165.8,1289.4 H175.8" stroke="#000" stroke-width="2" fill="none"/>
<path d="M202.7,1325.3 V1335.3 M197.7,1330.3 H207.7" stroke="#000" stroke-width="2" fill="none"/>
<path d="M148.3,1270.3 V1280.3 M143.3,1275.3 H153.3" stroke="#000" stroke-width="2" fill="none"/>
<path d="M182.7,1303.8 V1313.8 M177.7,1308.8 H187.7" stroke="#000" stroke-width="2" fill="none"/>
<path d="M162.4,1278.4 V1288.4 M157.4,1283.4 H167.4" stroke="#000" stroke-width="2" fill="none"/>
<path d="M156.6,1277.3 V1287.3 M151.6,1282.3 H161.6" stroke="#000" stroke-width="2" fill="none"/>
<path d="M195.7,1319.0 V1329.0 M190.7,1324.0 H200.7" stroke="#000" stroke-width="2" fill="none"/>
<path d="M195.6,1318.9 V1328.9 M190.6,1323.9 H200.6" stroke="#000" stroke-width="2" fill="none"/>
<path d="M249.0,1358.2 V1368.2 M244.0,1363.2 H254.0" stroke="#000" stroke-width="2" fill="none"/>
<path d="M211.9,1339.9 V1349.9 M206.9,1344.9 H216.9" stroke="#000" stroke-width="2" fill="none"/>
<path d="M253.1,1362.7 V1372.7 M248.1,1367.7 H258.1" stroke="#000" stroke-width="2" fill="none"/>
<path d="M241.0,1346.5 V1356.5 M236.0,1351.5 H246.0" stroke="#000" stroke-width="2" fill="none"/>
<path d="M263.5,1371.7 V1381.7 M258.5,1376.7 H268.5" stroke="#000" stroke-width="2" fill="none"/>
<path d="M210.1,1338.8 V1348.8 M205.1,1343.8 H215.1" stroke="#000" stroke-width="2" fill="none"/>
<path d="M125.2,1251.6 V1261.6 M120.2,1256.6 H130.2" stroke="#000" stroke-width="2" fill="none"/>
<path d="M241.7,1346.6 V1356.6 M236.7,1351.6 H246.7" stroke="#000" stroke-width="2" fill="none"/>
<path d="M259.1,1364.7 V1374.7 M254.1,1369.7 H264.1" stroke="#000" stroke-width="2" fill="none"/>
<path d="M249.1,1358.5 V1368.5 M244.1,1363.5 H254.1" stroke="#000" stroke-width="2" fill="none"/>
<path d="M193.0,1316.4 V1326.4 M188.0,1321.4 H198.0" stroke="#000" stroke-width="2" fill="none"/>
<path d="M217.2,1342.1 V1352.1 M212.2,1347.1 H222.2" stroke="#000" stroke-width="2" fill="none"/>
<path d="M133.3,1256.8 V1266.8 M128.3,1261.8 H138.3" stroke="#000" stroke-width="2" fill="none"/>
<path d="M236.9,1345.7 V1355.7 M231.9,1350.7 H241.9" stroke="#000" stroke-width="2" fill="none"/>
<path d="M193.8,1317.1 V1327.1 M188.8,1322.1 H198.8" stroke="#000" stroke-width="2" fill="none"/>
<path d="M145.6,1267.9 V1277.9 M140.6,1272.9 H150.6" stroke="#000" stroke-width="2" fill="none"/>
<path d="M108.6,1242.2 V1252.2 M103.6,1247.2 H113.6" stroke="#000" stroke-width="2" fill="none"/>
<path d="M240.6,1346.4 V1356.4 M235.6,1351.4 H245.6" stroke="#000" stroke-width="2" fill="none"/>
<path d="M263.3,1371.7 V1381.7 M258.3,1376.7 H268.3" stroke="#000" stroke-width="2" fill="none"/>
<path d="M112.8,1249.3 V1259.3 M107.8,1254.3 H117.8" stroke="#000" stroke-width="2" fill="none"/>
<path d="M231.7,1344.8 V1354.8 M226.7,1349.8 H236.7" stroke="#000" stroke-width="2" fill="none"/>
<path d="M166.5,1279.2 V1289.2 M161.5,1284.2 H171.5" stroke="#000" stroke-width="2" fill="none"/>
<path d="M123.2,1251.3 V1261.3 M118.2,1256.3 H128.2" stroke="#000" stroke-width="2" fill="none"/>
<path d="M147.1,1268.8 V1278.8 M142.1,1273.8 H152.1" stroke="#000" stroke-width="2" fill="none"/>
<path d="M226.4,1343.8 V1353.8 M221.4,1348.8 H231.4" stroke="#000" stroke-width="2" fill="none"/>
<path d="M243.8,1347.0 V1357.0 M238.8,1352.0 H248.8" stroke="#000" stroke-width="2" fill="none"/>
<path d="M105.4,1236.6 V1246.6 M100.4,1241.6 H110.4" stroke="#000" stroke-width="2" fill="none"/>
<path d="M200.6,1323.8 V1333.8 M195.6,1328.8 H205.6" stroke="#000" stroke-width="2" fill="none"/>
<path d="M105.5,1236.7 V1246.7 M100.5,1241.7 H110.5" stroke="#000" stroke-width="2" fill="none"/>
<path d="M218.0,1342.3 V1352.3 M213.0,1347.3 H223.0" stroke="#000" stroke-width="2" fill="none"/>
<path d="M153.3,1276.7 V1286.7 M148.3,1281.7 H158.3" stroke="#000" stroke-width="2" fill="none"/>
<path d="M245.1,1347.2 V1357.2 M240.1,1352.2 H250.1" stroke="#000" stroke-width="2" fill="none"/>
<path d="M261.8,1368.6 V1378.6 M256.8,1373.6 H266.8" stroke="#000" stroke-width="2" fill="none"/>
<path d="M182.4,1303.2 V1313.2 M177.4,1308.2 H187.4" stroke="#000" stroke-width="2" fill="none"/>
<path d="M264.8,1371.7 V1381.7 M259.8,1376.7 H269.8" stroke="#000" stroke-width="2" fill="none"/>
<path d="M149.7,1272.1 V1282.1 M144.7,1277.1 H154.7" stroke="#000" stroke-width="2" fill="none"/>
<path d="M110.9,1246.8 V1256.8 M105.9,1251.8 H115.9" stroke="#000" stroke-width="2" fill="none"/>
<path d="M198.2,1321.5 V1331.5 M193.2,1326.5 H203.2" stroke="#000" stroke-width="2" fill="none"/>
<path d="M103.2,1233.7 V1243.7 M98.2,1238.7 H108.2" stroke="#000" stroke-width="2" fill="none"/>
<path d="M131.0,1252.4 V1262.4 M126.0,1257.4 H136.0" stroke="#000" stroke-width="2" fill="none"/>
<path d="M166.1,1279.1 V1289.1 M161.1,1284.1 H171.1" stroke="#000" stroke-width="2" fill="none"/>
<path d="M199.9,1323.2 V1333.2 M194.9,1328.2 H204.9" stroke="#000" stroke-width="2" fill="none"/>
<path d="M124.1,1251.5 V1261.5 M119.1,1256.5 H129.1" stroke="#000" stroke-width="2" fill="none"/>
<path d="M105.1,1236.2 V1246.2 M100.1,1241.2 H110.1" stroke="#000" stroke-width="2" fill="none"/>
<path d="M242.9,1346.8 V1356.8 M237.9,1351.8 H247.9" stroke="#000" stroke-width="2" fill="none"/>
<path d="M150.4,1273.0 V1283.0 M145.4,1278.0 H155.4" stroke="#000" stroke-width="2" fill="none"/>
<path d="M341.7,1397.7 V1407.7 M336.7,1402.7 H346.7" stroke="#000" stroke-width="2" fill="none"/>
<path d="M336.7,1394.0 V1404.0 M331.7,1399.0 H341.7" stroke="#000" stroke-width="2" fill="none"/>
<path d="M295.2,1371.7 V1381.7 M290.2,1376.7 H300.2" stroke="#000" stroke-width="2" fill="none"/>
<path d="M301.8,1371.7 V1381.7 M296.8,1376.7 H306.8" stroke="#000" stroke-width="2" fill="none"/>
<path d="M306.6,1371.7 V1381.7 M301.6,1376.7 H311.6" stroke="#000" stroke-width="2" fill="none"/>
<path d="M316.5,1384.8 V1394.8 M311.5,1389.8 H321.5" stroke="#000" stroke-width="2" fill="none"/>
<path d="M312.7,1384.8 V1394.8 M307.7,1389.8 H317.7" stroke="#000" stroke-width="2" fill="none"/>
<path d="M309.7,1371.7 V1381.7 M304.7,1376.7 H314.7" stroke="#000" stroke-width="2" fill="none"/>
<path d="M314.6,1384.8 V1394.8 M309.6,1389.8 H319.6" stroke="#000" stroke-width="2" fill="none"/>
<path d="M340.2,1396.6 V1406.6 M335.2,1401.6 H345.2" stroke="#000" stroke-width="2" fill="none"/>
<path d="M305.6,1371.7 V1381.7 M300.6,1376.7 H310.6" stroke="#000" stroke-width="2" fill="none"/>
<path d="M299.5,1371.7 V1381.7 M294.5,1376.7 H304.5" stroke="#000" stroke-width="2" fill="none"/>
<path d="M322.6,1384.8 V1394.8 M317.6,1389.8 H327.6" stroke="#000" stroke-width="2" fill="none"/>
<path d="M284.0,1371.7 V1381.7 M279.0,1376.7 H289.0" stroke="#000" stroke-width="2" fill="none"/>
<path d="M289.1,1371.7 V1381.7 M284.1,1376.7 H294.1" stroke="#000" stroke-width="2" fill="none"/>
<path d="M343.2,1398.8 V1408.8 M338.2,1403.8 H348.2" stroke="#000" stroke-width="2" fill="none"/>
<path d="M306.7,1371.7 V1381.7 M301.7,1376.7 H311.7" stroke="#000" stroke-width="2" fill="none"/>
<path d="M308.9,1371.7 V1381.7 M303.9,1376.7 H313.9" stroke="#000" stroke-width="2" fill="none"/>
<path d="M265.9,1371.7 V1381.7 M260.9,1376.7 H270.9" stroke="#000" stroke-width="2" fill="none"/>
<path d="M298.2,1371.7 V1381.7 M293.2,1376.7 H303.2" stroke="#000" stroke-width="2" fill="none"/>
<path d="M311.4,1384.8 V1394.8 M306.4,1389.8 H316.4" stroke="#000" stroke-width="2" fill="none"/>
<path d="M266.6,1371.7 V1381.7 M261.6,1376.7 H271.6" stroke="#000" stroke-width="2" fill="none"/>
<path d="M387.5,1409.2 V1419.2 M382.5,1414.2 H392.5" stroke="#000" stroke-width="2" fill="none"/>
<path d="M391.0,1409.2 V1419.2 M386.0,1414.2 H396.0" stroke="#000" stroke-width="2" fill="none"/>
<path d="M396.7,1409.2 V1419.2 M391.7,1414.2 H401.7" stroke="#000" stroke-width="2" fill="none"/>
<path d="M402.2,1409.2 V1419.2 M397.2,1414.2 H407.2" stroke="#000" stroke-width="2" fill="none"/>
<path d="M415.0,1409.2 V1419.2 M410.0,1414.2 H420.0" stroke="#000" stroke-width="2" fill="none"/>
<path d="M417.0,1409.2 V1419.2 M412.0,1414.2 H422.0" stroke="#000" stroke-width="2" fill="none"/>
<path d="M419.0,1409.2 V1419.2 M414.0,1414.2 H424.0" stroke="#000" stroke-width="2" fill="none"/>
<path d="M459.4,1470.0 V1480.0 M454.4,1475.0 H464.4" stroke="#000" stroke-width="2" fill="none"/>
<path d="M461.3,1470.0 V1480.0 M456.3,1475.0 H466.3" stroke="#000" stroke-width="2" fill="none"/>
<path d="M537.0,1542.0 V1552.0 M532.0,1547.0 H542.0" stroke="#000" stroke-width="2" fill="none"/>
<path d="M586.0,1542.0 V1552.0 M581.0,1547.0 H591.0" stroke="#000" stroke-width="2" fill="none"/>
<path d="M197.0,1372.2 V1382.2 M192.0,1377.2 H202.0" stroke="#d2475f" stroke-width="1.8" fill="none"/>
<path d="M199.7,1379.0 V1389.0 M194.7,1384.0 H204.7" stroke="#d2475f" stroke-width="1.8" fill="none"/>
<path d="M105.9,1241.6 V1251.6 M100.9,1246.6 H110.9" stroke="#d2475f" stroke-width="1.8" fill="none"/>
<path d="M198.9,1378.6 V1388.6 M193.9,1383.6 H203.9" stroke="#d2475f" stroke-width="1.8" fill="none"/>
<path d="M172.5,1361.5 V1371.5 M167.5,1366.5 H177.5" stroke="#d2475f" stroke-width="1.8" fill="none"/>
<path d="M207.4,1383.5 V1393.5 M202.4,1388.5 H212.4" stroke="#d2475f" stroke-width="1.8" fill="none"/>
<path d="M153.8,1342.3 V1352.3 M148.8,1347.3 H158.8" stroke="#d2475f" stroke-width="1.8" fill="none"/>
<path d="M211.9,1384.4 V1394.4 M206.9,1389.4 H216.9" stroke="#d2475f" stroke-width="1.8" fill="none"/>
<path d="M217.0,1385.5 V1395.5 M212.0,1390.5 H222.0" stroke="#d2475f" stroke-width="1.8" fill="none"/>
<path d="M99.6,1230.4 V1240.4 M94.6,1235.4 H104.6" stroke="#d2475f" stroke-width="1.8" fill="none"/>
<path d="M105.9,1241.8 V1251.8 M100.9,1246.8 H110.9" stroke="#d2475f" stroke-width="1.8" fill="none"/>
<path d="M206.9,1383.3 V1393.3 M201.9,1388.3 H211.9" stroke="#d2475f" stroke-width="1.8" fill="none"/>
<path d="M254.0,1397.3 V1407.3 M249.0,1402.3 H259.0" stroke="#d2475f" stroke-width="1.8" fill="none"/>
<path d="M137.2,1305.4 V1315.4 M132.2,1310.4 H142.2" stroke="#d2475f" stroke-width="1.8" fill="none"/>
<path d="M170.8,1360.8 V1370.8 M165.8,1365.8 H175.8" stroke="#d2475f" stroke-width="1.8" fill="none"/>
<path d="M193.2,1370.6 V1380.6 M188.2,1375.6 H198.2" stroke="#d2475f" stroke-width="1.8" fill="none"/>
<path d="M148.5,1332.8 V1342.8 M143.5,1337.8 H153.5" stroke="#d2475f" stroke-width="1.8" fill="none"/>
<path d="M155.7,1344.5 V1354.5 M150.7,1349.5 H160.7" stroke="#d2475f" stroke-width="1.8" fill="none"/>
<path d="M147.3,1329.8 V1339.8 M142.3,1334.8 H152.3" stroke="#d2475f" stroke-width="1.8" fill="none"/>
<path d="M156.5,1345.6 V1355.6 M151.5,1350.6 H161.5" stroke="#d2475f" stroke-width="1.8" fill="none"/>
<path d="M193.7,1370.7 V1380.7 M188.7,1375.7 H198.7" stroke="#d2475f" stroke-width="1.8" fill="none"/>
<path d="M145.3,1325.5 V1335.5 M140.3,1330.5 H150.3" stroke="#d2475f" stroke-width="1.8" fill="none"/>
<path d="M157.9,1347.0 V1357.0 M152.9,1352.0 H162.9" stroke="#d2475f" stroke-width="1.8" fill="none"/>
<path d="M222.7,1389.3 V1399.3 M217.7,1394.3 H227.7" stroke="#d2475f" stroke-width="1.8" fill="none"/>
<path d="M100.4,1231.7 V1241.7 M95.4,1236.7 H105.4" stroke="#d2475f" stroke-width="1.8" fill="none"/>
<path d="M189.4,1370.4 V1380.4 M184.4,1375.4 H194.4" stroke="#d2475f" stroke-width="1.8" fill="none"/>
<path d="M216.6,1385.4 V1395.4 M211.6,1390.4 H221.6" stroke="#d2475f" stroke-width="1.8" fill="none"/>
<path d="M146.8,1328.7 V1338.7 M141.8,1333.7 H151.8" stroke="#d2475f" stroke-width="1.8" fill="none"/>
<path d="M132.5,1293.4 V1303.4 M127.5,1298.4 H137.5" stroke="#d2475f" stroke-width="1.8" fill="none"/>
<path d="M227.8,1389.7 V1399.7 M222.8,1394.7 H232.8" stroke="#d2475f" stroke-width="1.8" fill="none"/>
<path d="M135.1,1299.9 V1309.9 M130.1,1304.9 H140.1" stroke="#d2475f" stroke-width="1.8" fill="none"/>
<path d="M126.7,1281.8 V1291.8 M121.7,1286.8 H131.7" stroke="#d2475f" stroke-width="1.8" fill="none"/>
<path d="M167.4,1357.4 V1367.4 M162.4,1362.4 H172.4" stroke="#d2475f" stroke-width="1.8" fill="none"/>
<path d="M210.5,1384.1 V1394.1 M205.5,1389.1 H215.5" stroke="#d2475f" stroke-width="1.8" fill="none"/>
<path d="M112.7,1257.9 V1267.9 M107.7,1262.9 H117.7" stroke="#d2475f" stroke-width="1.8" fill="none"/>
<path d="M148.8,1333.7 V1343.7 M143.8,1338.7 H153.8" stroke="#d2475f" stroke-width="1.8" fill="none"/>
<path d="M150.7,1337.8 V1347.8 M145.7,1342.8 H155.7" stroke="#d2475f" stroke-width="1.8" fill="none"/>
<path d="M232.7,1390.2 V1400.2 M227.7,1395.2 H237.7" stroke="#d2475f" stroke-width="1.8" fill="none"/>
<path d="M167.9,1357.9 V1367.9 M162.9,1362.9 H172.9" stroke="#d2475f" stroke-width="1.8" fill="none"/>
<path d="M236.3,1390.5 V1400.5 M231.3,1395.5 H241.3" stroke="#d2475f" stroke-width="1.8" fill="none"/>
<path d="M123.8,1275.9 V1285.9 M118.8,1280.9 H128.8" stroke="#d2475f" stroke-width="1.8" fill="none"/>
<path d="M151.2,1338.5 V1348.5 M146.2,1343.5 H156.2" stroke="#d2475f" stroke-width="1.8" fill="none"/>
<path d="M202.6,1380.5 V1390.5 M197.6,1385.5 H207.6" stroke="#d2475f" stroke-width="1.8" fill="none"/>
<path d="M241.1,1396.7 V1406.7 M236.1,1401.7 H246.1" stroke="#d2475f" stroke-width="1.8" fill="none"/>
<path d="M170.0,1360.0 V1370.0 M165.0,1365.0 H175.0" stroke="#d2475f" stroke-width="1.8" fill="none"/>
<path d="M132.9,1294.2 V1304.2 M127.9,1299.2 H137.9" stroke="#d2475f" stroke-width="1.8" fill="none"/>
<path d="M115.8,1261.7 V1271.7 M110.8,1266.7 H120.8" stroke="#d2475f" stroke-width="1.8" fill="none"/>
<path d="M182.9,1370.1 V1380.1 M177.9,1375.1 H187.9" stroke="#d2475f" stroke-width="1.8" fill="none"/>
<path d="M127.3,1282.9 V1292.9 M122.3,1287.9 H132.3" stroke="#d2475f" stroke-width="1.8" fill="none"/>
<path d="M228.3,1389.8 V1399.8 M223.3,1394.8 H233.3" stroke="#d2475f" stroke-width="1.8" fill="none"/>
<path d="M233.5,1390.2 V1400.2 M228.5,1395.2 H238.5" stroke="#d2475f" stroke-width="1.8" fill="none"/>
<path d="M126.1,1280.5 V1290.5 M121.1,1285.5 H131.1" stroke="#d2475f" stroke-width="1.8" fill="none"/>
<path d="M141.7,1316.3 V1326.3 M136.7,1321.3 H146.7" stroke="#d2475f" stroke-width="1.8" fill="none"/>
<path d="M228.4,1389.8 V1399.8 M223.4,1394.8 H233.4" stroke="#d2475f" stroke-width="1.8" fill="none"/>
<path d="M201.3,1379.8 V1389.8 M196.3,1384.8 H206.3" stroke="#d2475f" stroke-width="1.8" fill="none"/>
<path d="M228.2,1389.8 V1399.8 M223.2,1394.8 H233.2" stroke="#d2475f" stroke-width="1.8" fill="none"/>
<path d="M152.6,1340.7 V1350.7 M147.6,1345.7 H157.6" stroke="#d2475f" stroke-width="1.8" fill="none"/>
<path d="M117.3,1264.0 V1274.0 M112.3,1269.0 H122.3" stroke="#d2475f" stroke-width="1.8" fill="none"/>
<path d="M143.9,1322.8 V1332.8 M138.9,1327.8 H148.9" stroke="#d2475f" stroke-width="1.8" fill="none"/>
<path d="M226.2,1389.6 V1399.6 M221.2,1394.6 H231.2" stroke="#d2475f" stroke-width="1.8" fill="none"/>
<path d="M140.5,1312.6 V1322.6 M135.5,1317.6 H145.5" stroke="#d2475f" stroke-width="1.8" fill="none"/>
<path d="M152.8,1340.9 V1350.9 M147.8,1345.9 H157.8" stroke="#d2475f" stroke-width="1.8" fill="none"/>
<path d="M164.4,1352.7 V1362.7 M159.4,1357.7 H169.4" stroke="#d2475f" stroke-width="1.8" fill="none"/>
<path d="M164.8,1353.5 V1363.5 M159.8,1358.5 H169.8" stroke="#d2475f" stroke-width="1.8" fill="none"/>
<path d="M163.2,1350.7 V1360.7 M158.2,1355.7 H168.2" stroke="#d2475f" stroke-width="1.8" fill="none"/>
<path d="M247.0,1397.0 V1407.0 M242.0,1402.0 H252.0" stroke="#d2475f" stroke-width="1.8" fill="none"/>
<path d="M121.6,1271.5 V1281.5 M116.6,1276.5 H126.6" stroke="#d2475f" stroke-width="1.8" fill="none"/>
<path d="M96.8,1224.1 V1234.1 M91.8,1229.1 H101.8" stroke="#d2475f" stroke-width="1.8" fill="none"/>
<path d="M250.7,1397.2 V1407.2 M245.7,1402.2 H255.7" stroke="#d2475f" stroke-width="1.8" fill="none"/>
<path d="M240.3,1393.1 V1403.1 M235.3,1398.1 H245.3" stroke="#d2475f" stroke-width="1.8" fill="none"/>
<path d="M257.9,1397.5 V1407.5 M252.9,1402.5 H262.9" stroke="#d2475f" stroke-width="1.8" fill="none"/>
<path d="M167.2,1357.2 V1367.2 M162.2,1362.2 H172.2" stroke="#d2475f" stroke-width="1.8" fill="none"/>
<path d="M251.8,1397.2 V1407.2 M246.8,1402.2 H256.8" stroke="#d2475f" stroke-width="1.8" fill="none"/>
<path d="M248.1,1397.0 V1407.0 M243.1,1402.0 H253.1" stroke="#d2475f" stroke-width="1.8" fill="none"/>
<path d="M132.4,1293.2 V1303.2 M127.4,1298.2 H137.4" stroke="#d2475f" stroke-width="1.8" fill="none"/>
<path d="M293.5,1443.3 V1453.3 M288.5,1448.3 H298.5" stroke="#d2475f" stroke-width="1.8" fill="none"/>
<path d="M297.7,1447.4 V1457.4 M292.7,1452.4 H302.7" stroke="#d2475f" stroke-width="1.8" fill="none"/>
<path d="M289.8,1439.6 V1449.6 M284.8,1444.6 H294.8" stroke="#d2475f" stroke-width="1.8" fill="none"/>
<path d="M283.4,1430.9 V1440.9 M278.4,1435.9 H288.4" stroke="#d2475f" stroke-width="1.8" fill="none"/>
<path d="M273.0,1404.0 V1414.0 M268.0,1409.0 H278.0" stroke="#d2475f" stroke-width="1.8" fill="none"/>
<path d="M275.3,1404.1 V1414.1 M270.3,1409.1 H280.3" stroke="#d2475f" stroke-width="1.8" fill="none"/>
<path d="M270.2,1403.9 V1413.9 M265.2,1408.9 H275.2" stroke="#d2475f" stroke-width="1.8" fill="none"/>
<path d="M263.1,1403.5 V1413.5 M258.1,1408.5 H268.1" stroke="#d2475f" stroke-width="1.8" fill="none"/>
<path d="M338.4,1478.2 V1488.2 M333.4,1483.2 H343.4" stroke="#d2475f" stroke-width="1.8" fill="none"/>
<path d="M346.9,1478.2 V1488.2 M341.9,1483.2 H351.9" stroke="#d2475f" stroke-width="1.8" fill="none"/>
<path d="M352.4,1478.2 V1488.2 M347.4,1483.2 H357.4" stroke="#d2475f" stroke-width="1.8" fill="none"/>
<path d="M404.8,1494.8 V1504.8 M399.8,1499.8 H409.8" stroke="#d2475f" stroke-width="1.8" fill="none"/>
<path d="M418.8,1494.8 V1504.8 M413.8,1499.8 H423.8" stroke="#d2475f" stroke-width="1.8" fill="none"/>
<path d="M421.8,1494.8 V1504.8 M416.8,1499.8 H426.8" stroke="#d2475f" stroke-width="1.8" fill="none"/>
<path d="M429.2,1524.3 V1534.3 M424.2,1529.3 H434.2" stroke="#d2475f" stroke-width="1.8" fill="none"/>
<path d="M555.4,1524.3 V1534.3 M550.4,1529.3 H560.4" stroke="#d2475f" stroke-width="1.8" fill="none"/>
<path d="M559.0,1524.3 V1534.3 M554.0,1529.3 H564.0" stroke="#d2475f" stroke-width="1.8" fill="none"/>
<text x="12.95" y="1863.70" font-size="40" fill="#000" stroke="#000" stroke-width="0.2" >h</text>
<text x="120.80" y="1912.50" font-size="23.3" fill="#161010" stroke="#161010" stroke-width="0.3" >S100P/ACC1</text>
<text x="304.50" y="1912.50" font-size="23.3" fill="#161010" stroke="#161010" stroke-width="0.3" >Sorafenib treatment</text>
<text x="377.75" y="1962.50" font-size="23.3" fill="#161010" stroke="#161010" stroke-width="0.3" >HR=3.06 (1-9.4)</text>
<text x="384.35" y="2003.50" font-size="23.3" fill="#161010" stroke="#161010" stroke-width="0.3" >logrank P=0.04</text>
<text x="90.30" y="2282.00" font-size="23.3" fill="#161010" stroke="#161010" stroke-width="0.3" >Expression</text>
<text x="138.70" y="2312.00" font-size="23.3" fill="#161010" stroke="#161010" stroke-width="0.3" >low</text>
<text x="141.50" y="2338.00" font-size="23.3" fill="#161010" stroke="#161010" stroke-width="0.3" >high</text>
<text x="232.00" y="2425.50" font-size="23.3" fill="#161010" stroke="#161010" stroke-width="0.3" >Time (months)</text>
<text x="82.90" y="2461.00" font-size="23.3" fill="#161010" stroke="#161010" stroke-width="0.3" >Number at risk</text>
<text transform="translate(14.50,2148.75) rotate(-90)" x="0" y="0" font-size="23.3" fill="#161010" stroke="#161010" stroke-width="0.3">Probability</text>
<text transform="translate(54.50,2355.25) rotate(-90)" x="0" y="0" font-size="23.3" fill="#161010" stroke="#161010" stroke-width="0.3">0.0</text>
<text transform="translate(54.50,2275.93) rotate(-90)" x="0" y="0" font-size="23.3" fill="#161010" stroke="#161010" stroke-width="0.3">0.2</text>
<text transform="translate(54.50,2196.97) rotate(-90)" x="0" y="0" font-size="23.3" fill="#161010" stroke="#161010" stroke-width="0.3">0.4</text>
<text transform="translate(54.50,2117.65) rotate(-90)" x="0" y="0" font-size="23.3" fill="#161010" stroke="#161010" stroke-width="0.3">0.6</text>
<text transform="translate(54.50,2038.45) rotate(-90)" x="0" y="0" font-size="23.3" fill="#161010" stroke="#161010" stroke-width="0.3">0.8</text>
<text transform="translate(54.50,1959.62) rotate(-90)" x="0" y="0" font-size="23.3" fill="#161010" stroke="#161010" stroke-width="0.3">1.0</text>
<text x="84.00" y="2393.00" font-size="23.3" fill="#161010" stroke="#161010" stroke-width="0.3" >0</text>
<text x="178.78" y="2393.00" font-size="23.3" fill="#161010" stroke="#161010" stroke-width="0.3" >20</text>
<text x="294.65" y="2393.00" font-size="23.3" fill="#161010" stroke="#161010" stroke-width="0.3" >40</text>
<text x="404.88" y="2393.00" font-size="23.3" fill="#161010" stroke="#161010" stroke-width="0.3" >60</text>
<text x="517.00" y="2393.00" font-size="23.3" fill="#161010" stroke="#161010" stroke-width="0.3" >80</text>
<text x="87.05" y="2497.00" font-size="23.3" fill="#161010" stroke="#161010" stroke-width="0.3" >low</text>
<text x="84.80" y="2532.00" font-size="23.3" fill="#dc2222" stroke="#dc2222" stroke-width="0.3" >high</text>
<text x="149.15" y="2496.00" font-size="23.3" fill="#161010" stroke="#161010" stroke-width="0.3" >19</text>
<text x="240.53" y="2496.00" font-size="23.3" fill="#161010" stroke="#161010" stroke-width="0.3" >13</text>
<text x="341.50" y="2497.00" font-size="23.3" fill="#161010" stroke="#161010" stroke-width="0.3" >3</text>
<text x="444.80" y="2499.00" font-size="23.3" fill="#161010" stroke="#161010" stroke-width="0.3" >2</text>
<text x="531.50" y="2497.00" font-size="23.3" fill="#161010" stroke="#161010" stroke-width="0.3" >2</text>
<text x="147.93" y="2536.00" font-size="23.3" fill="#dc2222" stroke="#dc2222" stroke-width="0.3" >10</text>
<text x="243.18" y="2536.00" font-size="23.3" fill="#dc2222" stroke="#dc2222" stroke-width="0.3" >6</text>
<text x="342.20" y="2536.00" font-size="23.3" fill="#dc2222" stroke="#dc2222" stroke-width="0.3" >2</text>
<text x="444.50" y="2536.00" font-size="23.3" fill="#dc2222" stroke="#dc2222" stroke-width="0.3" >0</text>
<text x="531.50" y="2536.00" font-size="23.3" fill="#dc2222" stroke="#dc2222" stroke-width="0.3" >0</text>
<rect x="70.2" y="1927" width="498.1" height="427.5" fill="none" stroke="#000" stroke-width="2.2"/>
<line x1="60.50" y1="2339.00" x2="70.20" y2="2339.00" stroke="#000" stroke-width="2.2" />
<line x1="60.50" y1="2259.80" x2="70.20" y2="2259.80" stroke="#000" stroke-width="2.2" />
<line x1="60.50" y1="2180.60" x2="70.20" y2="2180.60" stroke="#000" stroke-width="2.2" />
<line x1="60.50" y1="2101.40" x2="70.20" y2="2101.40" stroke="#000" stroke-width="2.2" />
<line x1="60.50" y1="2022.20" x2="70.20" y2="2022.20" stroke="#000" stroke-width="2.2" />
<line x1="60.50" y1="1943.00" x2="70.20" y2="1943.00" stroke="#000" stroke-width="2.2" />
<line x1="88.70" y1="2354.50" x2="88.70" y2="2364.60" stroke="#000" stroke-width="2.2" />
<line x1="198.00" y1="2354.50" x2="198.00" y2="2364.60" stroke="#000" stroke-width="2.2" />
<line x1="307.30" y1="2354.50" x2="307.30" y2="2364.60" stroke="#000" stroke-width="2.2" />
<line x1="416.60" y1="2354.50" x2="416.60" y2="2364.60" stroke="#000" stroke-width="2.2" />
<line x1="525.90" y1="2354.50" x2="525.90" y2="2364.60" stroke="#000" stroke-width="2.2" />
<line x1="90.00" y1="2304.90" x2="131.40" y2="2304.90" stroke="#000" stroke-width="2.2" />
<line x1="90.00" y1="2329.90" x2="131.40" y2="2329.90" stroke="#d2475f" stroke-width="2.0" />
<path d="M88.6,1943.0 H190.5 V1967.7 H204.1 V2001.0 H208.9 V2035.2 H243.7 V2060.0 H243.7 V2085.7 H271.8 V2148.5 H536.2 V2243.3 H549.8 V2339.0" fill="none" stroke="#000" stroke-width="2.2"/>
<path d="M153.1,1937.8 V1948.2 M148.1,1943.0 H158.1" stroke="#000" stroke-width="2.2" fill="none"/>
<path d="M155.7,1937.8 V1948.2 M150.7,1943.0 H160.7" stroke="#000" stroke-width="2.2" fill="none"/>
<path d="M159.4,1937.8 V1948.2 M154.4,1943.0 H164.4" stroke="#000" stroke-width="2.2" fill="none"/>
<path d="M190.9,1962.5 V1972.9 M185.9,1967.7 H195.9" stroke="#000" stroke-width="2.2" fill="none"/>
<path d="M197.5,1962.5 V1972.9 M192.5,1967.7 H202.5" stroke="#000" stroke-width="2.2" fill="none"/>
<path d="M198.5,1962.5 V1972.9 M193.5,1967.7 H203.5" stroke="#000" stroke-width="2.2" fill="none"/>
<path d="M200.8,1962.5 V1972.9 M195.8,1967.7 H205.8" stroke="#000" stroke-width="2.2" fill="none"/>
<path d="M211.0,2030.0 V2040.4 M206.0,2035.2 H216.0" stroke="#000" stroke-width="2.2" fill="none"/>
<path d="M215.3,2030.0 V2040.4 M210.3,2035.2 H220.3" stroke="#000" stroke-width="2.2" fill="none"/>
<path d="M230.9,2030.0 V2040.4 M225.9,2035.2 H235.9" stroke="#000" stroke-width="2.2" fill="none"/>
<path d="M243.7,2054.8 V2065.2 M238.7,2060.0 H248.7" stroke="#000" stroke-width="2.2" fill="none"/>
<path d="M360.9,2143.3 V2153.7 M355.9,2148.5 H365.9" stroke="#000" stroke-width="2.2" fill="none"/>
<path d="M88.6,1943.0 H139.5 V1981.7 H156.1 V2021.5 H164.2 V2061.4 H190.0 V2101.2 H202.6 V2140.7 H228.8 V2180.6 H338.4 V2259.1 H373.4 V2339.0" fill="none" stroke="#d2475f" stroke-width="2"/>
<path d="M242.8,2175.6 V2185.6 M237.8,2180.6 H247.8" stroke="#d2475f" stroke-width="1.8" fill="none"/>
<path d="M255.4,2175.6 V2185.6 M250.4,2180.6 H260.4" stroke="#d2475f" stroke-width="1.8" fill="none"/>
<text x="750.65" y="1431.80" font-size="40" fill="#000" stroke="#000" stroke-width="0.2" >i</text>
<rect x="739.6" y="1476" width="598.2" height="883" rx="92" fill="#dce6f2" stroke="#4a86c8" stroke-width="2.1" stroke-dasharray="9 5.5"/>
<rect x="1344.7" y="1479" width="597.9" height="883.4" rx="92" fill="#f9dde0" stroke="#4a86c8" stroke-width="2.1" stroke-dasharray="9 5.5"/>
<text x="980.00" y="1446.00" font-size="23.3" fill="#231815" stroke="#231815" stroke-width="0.3" >Oxidative stress</text>
<text x="1425.00" y="1446.00" font-size="23.3" fill="#231815" stroke="#231815" stroke-width="0.3" >Oxidative stress</text>
<line x1="1057.4" y1="1451.4" x2="1057.4" y2="1545.0" stroke="#000" stroke-width="2.6"/>
<path d="M1048.4,1534.5 L1057.4,1545.0 L1066.4,1534.5" fill="none" stroke="#000" stroke-width="2.6" stroke-linejoin="miter"/>
<line x1="1531.6" y1="1451.4" x2="1531.6" y2="1554.2" stroke="#000" stroke-width="2.6"/>
<path d="M1522.6,1543.7 L1531.6,1554.2 L1540.6,1543.7" fill="none" stroke="#000" stroke-width="2.6" stroke-linejoin="miter"/>
<text x="1154.00" y="1534.50" font-size="23.3" fill="#231815" stroke="#231815" stroke-width="0.3" >S100P high</text>
<text x="1783.00" y="1536.00" font-size="23.3" fill="#231815" stroke="#231815" stroke-width="0.3" >S100P low</text>
<rect x="816.8" y="1523.8" width="64.7" height="22.2" rx="4.5" fill="#63b97c" stroke="#8fd0a0" stroke-width="1.3"/>
<text x="849.1" y="1541.9" font-size="19.5" text-anchor="middle" fill="#231815">S100P</text>
<rect x="901.0" y="1519.0" width="65.0" height="21.7" rx="4.5" fill="#63b97c" stroke="#8fd0a0" stroke-width="1.3"/>
<text x="933.5" y="1536.8" font-size="19.5" text-anchor="middle" fill="#231815">S100P</text>
<rect x="876.0" y="1548.0" width="65.8" height="22.6" rx="4.5" fill="#63b97c" stroke="#8fd0a0" stroke-width="1.3"/>
<text x="908.9" y="1566.3" font-size="19.5" text-anchor="middle" fill="#231815">S100P</text>
<rect x="837.8" y="1657.7" width="64.7" height="21.3" rx="4.5" fill="#63b97c" stroke="#8fd0a0" stroke-width="1.3"/>
<text x="870.1" y="1675.3" font-size="19.5" text-anchor="middle" fill="#231815">S100P</text>
<rect x="795.0" y="1597.0" width="71.8" height="25.0" rx="4.5" fill="#fde48c" stroke="#f0c44a" stroke-width="1.3"/>
<text x="830.9" y="1616.5" font-size="19.5" text-anchor="middle" fill="#231815">RAB5C</text>
<rect x="879.0" y="1681.8" width="71.0" height="24.2" rx="4.5" fill="#fde48c" stroke="#f0c44a" stroke-width="1.3"/>
<text x="914.5" y="1700.9" font-size="19.5" text-anchor="middle" fill="#231815">RAB5C</text>
<rect x="806.0" y="1739.0" width="70.6" height="24.0" rx="4.5" fill="#d3a2d2" stroke="#eec05a" stroke-width="1.3"/>
<text x="841.3" y="1758.0" font-size="19.5" text-anchor="middle" fill="#231815">ATG7</text>
<rect x="828.0" y="1928.3" width="59.8" height="29.9" rx="4.5" fill="#7bc143" stroke="#9bd36a" stroke-width="1.3"/>
<text x="857.9" y="1951.1" font-size="22" text-anchor="middle" fill="#231815">P62</text>
<line x1="904.7" y1="1581.8" x2="904.7" y2="1643.4" stroke="#000" stroke-width="2.6"/>
<path d="M895.7,1632.9 L904.7,1643.4 L913.7,1632.9" fill="none" stroke="#000" stroke-width="2.6" stroke-linejoin="miter"/>
<line x1="1110.2" y1="1665.8" x2="1010.0" y2="1665.8" stroke="#000" stroke-width="2.6"/>
<path d="M1020.5,1656.8 L1010.0,1665.8 L1020.5,1674.8" fill="none" stroke="#000" stroke-width="2.6" stroke-linejoin="miter"/>
<line x1="904.7" y1="1718.0" x2="904.7" y2="1778.7" stroke="#000" stroke-width="2.6"/>
<path d="M895.7,1768.2 L904.7,1778.7 L913.7,1768.2" fill="none" stroke="#000" stroke-width="2.6" stroke-linejoin="miter"/>
<line x1="904.7" y1="1878.0" x2="904.7" y2="1940.4" stroke="#000" stroke-width="2.6"/>
<path d="M895.7,1929.9 L904.7,1940.4 L913.7,1929.9" fill="none" stroke="#000" stroke-width="2.6" stroke-linejoin="miter"/>
<line x1="904.7" y1="2027.4" x2="904.7" y2="2076.5" stroke="#000" stroke-width="2.6"/>
<path d="M895.7,2066.0 L904.7,2076.5 L913.7,2066.0" fill="none" stroke="#000" stroke-width="2.6" stroke-linejoin="miter"/>
<line x1="1214.0" y1="1969.4" x2="1214.0" y2="2040.8" stroke="#000" stroke-width="2.6"/>
<path d="M1205.0,2030.3 L1214.0,2040.8 L1223.0,2030.3" fill="none" stroke="#000" stroke-width="2.6" stroke-linejoin="miter"/>
<line x1="1210.5" y1="2098.8" x2="1210.5" y2="2176.0" stroke="#000" stroke-width="2.6"/>
<path d="M1201.5,2165.5 L1210.5,2176.0 L1219.5,2165.5" fill="none" stroke="#000" stroke-width="2.6" stroke-linejoin="miter"/>
<line x1="1210.5" y1="2235.0" x2="1210.5" y2="2285.0" stroke="#000" stroke-width="2.6"/>
<path d="M1201.5,2274.5 L1210.5,2285.0 L1219.5,2274.5" fill="none" stroke="#000" stroke-width="2.6" stroke-linejoin="miter"/>
<line x1="1088.7" y1="2337.7" x2="988.7" y2="2337.7" stroke="#000" stroke-width="2.6"/>
<path d="M999.2,2328.7 L988.7,2337.7 L999.2,2346.7" fill="none" stroke="#000" stroke-width="2.6" stroke-linejoin="miter"/>
<line x1="726.0" y1="2117.6" x2="797.6" y2="2117.6" stroke="#000" stroke-width="2.6"/>
<line x1="797.6" y1="2125.6" x2="797.6" y2="2109.6" stroke="#000" stroke-width="2.6"/>
<line x1="1070.8" y1="2129.0" x2="1162.3" y2="2129.0" stroke="#000" stroke-width="2.6"/>
<line x1="1162.3" y1="2137.0" x2="1162.3" y2="2121.0" stroke="#000" stroke-width="2.6"/>
<line x1="1046.7" y1="2369.0" x2="1046.7" y2="2440.4" stroke="#000" stroke-width="2.6"/>
<line x1="1038.7" y1="2440.4" x2="1054.7" y2="2440.4" stroke="#000" stroke-width="2.6"/>
<line x1="1464.0" y1="1872.0" x2="1464.0" y2="1939.0" stroke="#000" stroke-width="2.6"/>
<path d="M1455.0,1928.5 L1464.0,1939.0 L1473.0,1928.5" fill="none" stroke="#000" stroke-width="2.6" stroke-linejoin="miter"/>
<line x1="1464.0" y1="2030.8" x2="1464.0" y2="2109.0" stroke="#000" stroke-width="2.6"/>
<path d="M1455.0,2098.5 L1464.0,2109.0 L1473.0,2098.5" fill="none" stroke="#000" stroke-width="2.6" stroke-linejoin="miter"/>
<line x1="1464.0" y1="2189.4" x2="1464.0" y2="2280.5" stroke="#000" stroke-width="2.6"/>
<path d="M1455.0,2270.0 L1464.0,2280.5 L1473.0,2270.0" fill="none" stroke="#000" stroke-width="2.6" stroke-linejoin="miter"/>
<line x1="1612.8" y1="2315.4" x2="1699.0" y2="2315.4" stroke="#000" stroke-width="2.6"/>
<path d="M1688.5,2324.4 L1699.0,2315.4 L1688.5,2306.4" fill="none" stroke="#000" stroke-width="2.6" stroke-linejoin="miter"/>
<line x1="1656.0" y1="2366.8" x2="1656.0" y2="2429.2" stroke="#000" stroke-width="2.6"/>
<path d="M1647.0,2418.7 L1656.0,2429.2 L1665.0,2418.7" fill="none" stroke="#000" stroke-width="2.6" stroke-linejoin="miter"/>
<path d="M828.8,1822.0 A62.5,49.0 0 0 0 953.8,1822.0" fill="none" stroke="#5b9bd5" stroke-width="1.4"/>
<path d="M833.8,1824.0 A57.5,38.0 0 0 0 948.8,1824.0" fill="none" stroke="#5b9bd5" stroke-width="1.4"/>
<path d="M828.8,1967.0 A62.5,51.5 0 0 0 953.8,1967.0" fill="none" stroke="#5b9bd5" stroke-width="1.4"/>
<path d="M833.8,1969.0 A57.5,41.0 0 0 0 948.8,1969.0" fill="none" stroke="#5b9bd5" stroke-width="1.4"/>
<rect x="918.3" y="1639.6" width="72.3" height="37.6" rx="4.5" fill="#f3b5a8" stroke="#e68b7c" stroke-width="1.3"/>
<text x="955.5" y="1666.5" font-size="22.5" text-anchor="middle" fill="#231815">ACC1</text>
<rect x="1124.4" y="1656.0" width="72.6" height="36.5" rx="4.5" fill="#f3b5a8" stroke="#e68b7c" stroke-width="1.3"/>
<text x="1161.7" y="1682.3" font-size="22.5" text-anchor="middle" fill="#231815">ACC1</text>
<rect x="850.0" y="1810.8" width="72.6" height="36.6" rx="4.5" fill="#f3b5a8" stroke="#e68b7c" stroke-width="1.3"/>
<text x="887.3" y="1837.2" font-size="22.5" text-anchor="middle" fill="#231815">ACC1</text>
<rect x="849.8" y="1959.0" width="72.8" height="37.6" rx="4.5" fill="#f3b5a8" stroke="#e68b7c" stroke-width="1.3"/>
<text x="887.2" y="1985.9" font-size="22.5" text-anchor="middle" fill="#231815">ACC1</text>
<rect x="1062.3" y="1962.7" width="73.2" height="37.9" rx="4.5" fill="#f3b5a8" stroke="#e68b7c" stroke-width="1.3"/>
<text x="1099.9" y="1989.7" font-size="22.5" text-anchor="middle" fill="#231815">ACC1</text>
<rect x="1111.4" y="2006.4" width="73.2" height="37.6" rx="4.5" fill="#f3b5a8" stroke="#e68b7c" stroke-width="1.3"/>
<text x="1149.0" y="2033.3" font-size="22.5" text-anchor="middle" fill="#231815">ACC1</text>
<rect x="1576.0" y="1751.5" width="72.0" height="38.9" rx="4.5" fill="#f3b5a8" stroke="#e68b7c" stroke-width="1.3"/>
<text x="1613.0" y="1779.0" font-size="22.5" text-anchor="middle" fill="#231815">ACC1</text>
<rect x="1705.0" y="1751.5" width="72.3" height="38.9" rx="4.5" fill="#f3b5a8" stroke="#e68b7c" stroke-width="1.3"/>
<text x="1742.2" y="1779.0" font-size="22.5" text-anchor="middle" fill="#231815">ACC1</text>
<rect x="1622.7" y="1810.2" width="72.0" height="38.6" rx="4.5" fill="#f3b5a8" stroke="#e68b7c" stroke-width="1.3"/>
<text x="1659.7" y="1837.6" font-size="22.5" text-anchor="middle" fill="#231815">ACC1</text>
<rect x="1705.0" y="1861.8" width="72.3" height="38.6" rx="4.5" fill="#f3b5a8" stroke="#e68b7c" stroke-width="1.3"/>
<text x="1742.2" y="1889.2" font-size="22.5" text-anchor="middle" fill="#231815">ACC1</text>
<rect x="1558.4" y="1877.3" width="72.0" height="39.7" rx="4.5" fill="#f3b5a8" stroke="#e68b7c" stroke-width="1.3"/>
<text x="1595.4" y="1905.2" font-size="22.5" text-anchor="middle" fill="#231815">ACC1</text>
<g transform="translate(999.5,1628.5) rotate(32)"><ellipse cx="0" cy="0" rx="13.2" ry="17" fill="#3e84c6" stroke="#2a64a0" stroke-width="1"/></g>
<g transform="translate(1029.6,1620.6) rotate(32)"><ellipse cx="0" cy="0" rx="13.2" ry="17" fill="#3e84c6" stroke="#2a64a0" stroke-width="1"/></g>
<g transform="translate(1058.5,1612.7) rotate(32)"><ellipse cx="0" cy="0" rx="13.2" ry="17" fill="#3e84c6" stroke="#2a64a0" stroke-width="1"/></g>
<g transform="translate(1087.9,1604.9) rotate(32)"><ellipse cx="0" cy="0" rx="13.2" ry="17" fill="#3e84c6" stroke="#2a64a0" stroke-width="1"/></g>
<text transform="translate(999.5,1628.5) rotate(-60)" x="0" y="6.5" font-size="18.5" text-anchor="middle" fill="#231815">K63</text>
<text transform="translate(1029.6,1620.6) rotate(-60)" x="0" y="6.5" font-size="18.5" text-anchor="middle" fill="#231815">K63</text>
<text transform="translate(1058.5,1612.7) rotate(-60)" x="0" y="6.5" font-size="18.5" text-anchor="middle" fill="#231815">K63</text>
<text transform="translate(1087.9,1604.9) rotate(-60)" x="0" y="6.5" font-size="18.5" text-anchor="middle" fill="#231815">K63</text>
<g transform="translate(1206.0,1643.4) rotate(32)"><ellipse cx="0" cy="0" rx="13.2" ry="17" fill="#3e84c6" stroke="#2a64a0" stroke-width="1"/></g>
<g transform="translate(1235.0,1634.5) rotate(32)"><ellipse cx="0" cy="0" rx="13.2" ry="17" fill="#3e84c6" stroke="#2a64a0" stroke-width="1"/></g>
<g transform="translate(1264.1,1625.5) rotate(32)"><ellipse cx="0" cy="0" rx="13.2" ry="17" fill="#3e84c6" stroke="#2a64a0" stroke-width="1"/></g>
<g transform="translate(1293.1,1616.6) rotate(32)"><ellipse cx="0" cy="0" rx="13.2" ry="17" fill="#3e84c6" stroke="#2a64a0" stroke-width="1"/></g>
<text transform="translate(1206.0,1643.4) rotate(-60)" x="0" y="6.5" font-size="18.5" text-anchor="middle" fill="#231815">K63</text>
<text transform="translate(1235.0,1634.5) rotate(-60)" x="0" y="6.5" font-size="18.5" text-anchor="middle" fill="#231815">K63</text>
<text transform="translate(1264.1,1625.5) rotate(-60)" x="0" y="6.5" font-size="18.5" text-anchor="middle" fill="#231815">K63</text>
<text transform="translate(1293.1,1616.6) rotate(-60)" x="0" y="6.5" font-size="18.5" text-anchor="middle" fill="#231815">K63</text>
<g transform="translate(933.8,1797.4) rotate(32)"><ellipse cx="0" cy="0" rx="13.2" ry="17" fill="#3e84c6" stroke="#2a64a0" stroke-width="1"/></g>
<g transform="translate(961.9,1788.5) rotate(32)"><ellipse cx="0" cy="0" rx="13.2" ry="17" fill="#3e84c6" stroke="#2a64a0" stroke-width="1"/></g>
<g transform="translate(990.4,1779.5) rotate(32)"><ellipse cx="0" cy="0" rx="13.2" ry="17" fill="#3e84c6" stroke="#2a64a0" stroke-width="1"/></g>
<g transform="translate(1018.6,1772.9) rotate(32)"><ellipse cx="0" cy="0" rx="13.2" ry="17" fill="#3e84c6" stroke="#2a64a0" stroke-width="1"/></g>
<text transform="translate(933.8,1797.4) rotate(-60)" x="0" y="6.5" font-size="18.5" text-anchor="middle" fill="#231815">K63</text>
<text transform="translate(961.9,1788.5) rotate(-60)" x="0" y="6.5" font-size="18.5" text-anchor="middle" fill="#231815">K63</text>
<text transform="translate(990.4,1779.5) rotate(-60)" x="0" y="6.5" font-size="18.5" text-anchor="middle" fill="#231815">K63</text>
<text transform="translate(1018.6,1772.9) rotate(-60)" x="0" y="6.5" font-size="18.5" text-anchor="middle" fill="#231815">K63</text>
<g transform="translate(931.5,1947.0) rotate(32)"><ellipse cx="0" cy="0" rx="13.2" ry="17" fill="#3e84c6" stroke="#2a64a0" stroke-width="1"/></g>
<g transform="translate(960.5,1939.5) rotate(32)"><ellipse cx="0" cy="0" rx="13.2" ry="17" fill="#3e84c6" stroke="#2a64a0" stroke-width="1"/></g>
<g transform="translate(988.7,1932.3) rotate(32)"><ellipse cx="0" cy="0" rx="13.2" ry="17" fill="#3e84c6" stroke="#2a64a0" stroke-width="1"/></g>
<g transform="translate(1018.6,1924.7) rotate(32)"><ellipse cx="0" cy="0" rx="13.2" ry="17" fill="#3e84c6" stroke="#2a64a0" stroke-width="1"/></g>
<text transform="translate(931.5,1947.0) rotate(-60)" x="0" y="6.5" font-size="18.5" text-anchor="middle" fill="#231815">K63</text>
<text transform="translate(960.5,1939.5) rotate(-60)" x="0" y="6.5" font-size="18.5" text-anchor="middle" fill="#231815">K63</text>
<text transform="translate(988.7,1932.3) rotate(-60)" x="0" y="6.5" font-size="18.5" text-anchor="middle" fill="#231815">K63</text>
<text transform="translate(1018.6,1924.7) rotate(-60)" x="0" y="6.5" font-size="18.5" text-anchor="middle" fill="#231815">K63</text>
<path d="M895.93,2153.95 A45.2,45.2 0 1 1 895.93,2106.05" fill="none" stroke="#e23a3f" stroke-width="1.4"/>
<path d="M891.03,2149.30 A38.6,38.6 0 1 1 891.03,2110.70" fill="none" stroke="#e23a3f" stroke-width="1.4"/>
<path d="M900.99,2100.19 A50.6,50.6 0 1 1 900.99,2153.81" fill="none" stroke="#3f85cc" stroke-width="1.4"/>
<path d="M907.69,2101.65 A44.2,44.2 0 1 1 907.69,2152.35" fill="none" stroke="#3f85cc" stroke-width="1.4"/>
<rect x="904.0" y="2105.6" width="72.7" height="37.5" rx="4.5" fill="#f3b5a8" stroke="#e68b7c" stroke-width="1.3"/>
<text x="941.4" y="2132.4" font-size="22.5" text-anchor="middle" fill="#231815">ACC1</text>
<circle cx="857.6" cy="2108.6" r="10.2" fill="#f08a1a"/>
<circle cx="857.6" cy="2106.6" r="7.5" fill="#f5a030"/>
<circle cx="874.3" cy="2134.2" r="10.2" fill="#f08a1a"/>
<circle cx="874.3" cy="2132.2" r="7.5" fill="#f5a030"/>
<path d="M843.3,2132.4 L846.2,2124.4 A8.5,8.5 0 1 0 851.7,2130.9 Z" fill="#f2a77a" stroke="#999" stroke-width="0.8"/>
<text x="797.50" y="2202.00" font-size="23.3" fill="#231815" stroke="#231815" stroke-width="0.3" >autophagolysosome</text>
<text x="596.00" y="2090.00" font-size="23.3" fill="#231815" stroke="#231815" stroke-width="0.3" >Bafilomycin A1</text>
<text x="623.55" y="2161.50" font-size="23.3" fill="#231815" stroke="#231815" stroke-width="0.3" >Chloroquine</text>
<text x="1157.90" y="1941.20" font-size="23.3" fill="#231815" stroke="#231815" stroke-width="0.3" >Acetyl-CoA</text>
<text x="1408.00" y="1836.50" font-size="23.3" fill="#231815" stroke="#231815" stroke-width="0.3" >Acetyl-CoA</text>
<text x="1163.90" y="2079.50" font-size="23.3" fill="#231815" stroke="#231815" stroke-width="0.3" >Fatty acid</text>
<text x="1399.60" y="2006.00" font-size="23.3" fill="#231815" stroke="#231815" stroke-width="0.3" >Fatty acid</text>
<text x="1174.00" y="2206.50" font-size="23.3" fill="#231815" stroke="#231815" stroke-width="0.3" >PUFA</text>
<text x="1437.40" y="2176.50" font-size="23.3" fill="#231815" stroke="#231815" stroke-width="0.3" >PUFA</text>
<text x="1154.00" y="2323.00" font-size="23.3" fill="#231815" stroke="#231815" stroke-width="0.3" >PUFA-OH</text>
<text x="1434.50" y="2326.50" font-size="23.3" fill="#231815" stroke="#231815" stroke-width="0.3" >PUFA-OH</text>
<text x="813.40" y="2314.00" font-size="23.3" fill="#231815" stroke="#231815" stroke-width="0.3" >PUFA-OOH</text>
<text x="1723.90" y="2317.00" font-size="23.3" fill="#231815" stroke="#231815" stroke-width="0.3" >PUFA-OOH</text>
<text x="992.95" y="2470.00" font-size="23.3" fill="#231815" stroke="#231815" stroke-width="0.3" >ferroptosis</text>
<text x="1594.65" y="2471.00" font-size="23.3" fill="#231815" stroke="#231815" stroke-width="0.3" >ferroptosis</text>
<text x="1711.00" y="2128.00" font-size="23.3" fill="#231815" stroke="#231815" stroke-width="0.3" >lysosome</text>
<text x="1031.50" y="2286.30" font-size="23.3" fill="#231815" stroke="#231815" stroke-width="0.3" >•OH</text>
<text x="982.50" y="2315.00" font-size="23.3" fill="#231815" stroke="#231815" stroke-width="0.3" >•OH</text>
<text x="1074.00" y="2315.00" font-size="23.3" fill="#231815" stroke="#231815" stroke-width="0.3" >•OH</text>
<text x="1637.00" y="2188.50" font-size="23.3" fill="#231815" stroke="#231815" stroke-width="0.3" >•OH</text>
<text x="1562.00" y="2218.00" font-size="23.3" fill="#231815" stroke="#231815" stroke-width="0.3" >•OH</text>
<text x="1643.50" y="2264.00" font-size="23.3" fill="#231815" stroke="#231815" stroke-width="0.3" >•OH</text>
<circle cx="1757.8" cy="2027" r="59.5" fill="none" stroke="#e23a3f" stroke-width="1.5"/>
<circle cx="1757.8" cy="2027" r="52" fill="none" stroke="#e23a3f" stroke-width="1.5"/>
<path d="M1762.6,2011.7 L1756.8,2018.6 A9,9 0 1 0 1753.7,2010.1 Z" fill="#f5b52a" stroke="none" stroke-width="0.8"/>
<path d="M1767.0,2043.6 L1761.2,2050.5 A9,9 0 1 0 1758.1,2042.0 Z" fill="#f5b52a" stroke="none" stroke-width="0.8"/>
<path d="M1730.3,2027.8 L1735.1,2022.1 A7.5,7.5 0 1 0 1737.7,2029.1 Z" fill="#e8541a" stroke="none" stroke-width="0.8"/>
<path d="M1741.3,2054.0 L1746.1,2048.3 A7.5,7.5 0 1 0 1748.7,2055.3 Z" fill="#e8541a" stroke="none" stroke-width="0.8"/>
<path d="M1474.5,1596.1 L1516.8,1622.9 L1523.3,1597.9 L1537.5,1620.3 L1559.9,1582.8 L1556.9,1616.9 L1582.4,1611.3 L1571.2,1628.5 L1598.4,1633.3 L1576.3,1647.5 L1601.8,1665.2 L1572.9,1661.7 L1581.1,1695.0 L1555.6,1670.4 L1551.3,1704.5 L1536.2,1673.4 L1524.6,1716.6 L1519.8,1676.8 L1501.7,1691.1 L1508.2,1667.4 L1474.1,1672.5 L1496.9,1654.8 L1474.5,1635.8 L1502.1,1630.2 Z" fill="#f2b819" stroke="#b8901c" stroke-width="1.7" stroke-linejoin="miter"/>
<text x="1512.20" y="1651.80" font-size="22.3" fill="#231815" stroke="#231815" stroke-width="0.3" >ROS</text>
<defs><linearGradient id="mg1109" x1="0" y1="0" x2="0" y2="1"><stop offset="0" stop-color="#eceef8" stop-opacity="0.6"/><stop offset="0.5" stop-color="#b9c2e6"/><stop offset="1" stop-color="#eceef8" stop-opacity="0.6"/></linearGradient></defs>
<rect x="1105.5" y="2346.0" width="139.0" height="32.2" fill="url(#mg1109)"/>
<path d="M1107.7,2360.0 V2352.0 H1111.3 V2360.0 M1109.5,2350.0 V2352.0" fill="none" stroke="#ee7a22" stroke-width="0.9"/>
<path d="M1107.7,2364.2 V2372.2 H1111.3 V2364.2 M1109.5,2374.2 V2372.2" fill="none" stroke="#ee7a22" stroke-width="0.9"/>
<circle cx="1109.5" cy="2346.0" r="4.1" fill="#f2c935" stroke="#b97a1c" stroke-width="0.9"/>
<circle cx="1109.5" cy="2378.2" r="4.1" fill="#f2c935" stroke="#b97a1c" stroke-width="0.9"/>
<path d="M1116.4,2360.0 V2352.0 H1120.0 V2360.0 M1118.2,2350.0 V2352.0" fill="none" stroke="#ee7a22" stroke-width="0.9"/>
<path d="M1116.4,2364.2 V2372.2 H1120.0 V2364.2 M1118.2,2374.2 V2372.2" fill="none" stroke="#ee7a22" stroke-width="0.9"/>
<circle cx="1118.2" cy="2346.0" r="4.1" fill="#f2c935" stroke="#b97a1c" stroke-width="0.9"/>
<circle cx="1118.2" cy="2378.2" r="4.1" fill="#f2c935" stroke="#b97a1c" stroke-width="0.9"/>
<path d="M1125.2,2360.0 V2352.0 H1128.8 V2360.0 M1127.0,2350.0 V2352.0" fill="none" stroke="#ee7a22" stroke-width="0.9"/>
<path d="M1125.2,2364.2 V2372.2 H1128.8 V2364.2 M1127.0,2374.2 V2372.2" fill="none" stroke="#ee7a22" stroke-width="0.9"/>
<circle cx="1127.0" cy="2346.0" r="4.1" fill="#f2c935" stroke="#b97a1c" stroke-width="0.9"/>
<circle cx="1127.0" cy="2378.2" r="4.1" fill="#f2c935" stroke="#b97a1c" stroke-width="0.9"/>
<path d="M1133.9,2360.0 V2352.0 H1137.5 V2360.0 M1135.7,2350.0 V2352.0" fill="none" stroke="#ee7a22" stroke-width="0.9"/>
<path d="M1133.9,2364.2 V2372.2 H1137.5 V2364.2 M1135.7,2374.2 V2372.2" fill="none" stroke="#ee7a22" stroke-width="0.9"/>
<circle cx="1135.7" cy="2346.0" r="4.1" fill="#f2c935" stroke="#b97a1c" stroke-width="0.9"/>
<circle cx="1135.7" cy="2378.2" r="4.1" fill="#f2c935" stroke="#b97a1c" stroke-width="0.9"/>
<path d="M1142.6,2360.0 V2352.0 H1146.2 V2360.0 M1144.4,2350.0 V2352.0" fill="none" stroke="#ee7a22" stroke-width="0.9"/>
<path d="M1142.6,2364.2 V2372.2 H1146.2 V2364.2 M1144.4,2374.2 V2372.2" fill="none" stroke="#ee7a22" stroke-width="0.9"/>
<circle cx="1144.4" cy="2346.0" r="4.1" fill="#f2c935" stroke="#b97a1c" stroke-width="0.9"/>
<circle cx="1144.4" cy="2378.2" r="4.1" fill="#f2c935" stroke="#b97a1c" stroke-width="0.9"/>
<path d="M1151.4,2360.0 V2352.0 H1155.0 V2360.0 M1153.2,2350.0 V2352.0" fill="none" stroke="#ee7a22" stroke-width="0.9"/>
<path d="M1151.4,2364.2 V2372.2 H1155.0 V2364.2 M1153.2,2374.2 V2372.2" fill="none" stroke="#ee7a22" stroke-width="0.9"/>
<circle cx="1153.2" cy="2346.0" r="4.1" fill="#f2c935" stroke="#b97a1c" stroke-width="0.9"/>
<circle cx="1153.2" cy="2378.2" r="4.1" fill="#f2c935" stroke="#b97a1c" stroke-width="0.9"/>
<path d="M1160.1,2360.0 V2352.0 H1163.7 V2360.0 M1161.9,2350.0 V2352.0" fill="none" stroke="#ee7a22" stroke-width="0.9"/>
<path d="M1160.1,2364.2 V2372.2 H1163.7 V2364.2 M1161.9,2374.2 V2372.2" fill="none" stroke="#ee7a22" stroke-width="0.9"/>
<circle cx="1161.9" cy="2346.0" r="4.1" fill="#f2c935" stroke="#b97a1c" stroke-width="0.9"/>
<circle cx="1161.9" cy="2378.2" r="4.1" fill="#f2c935" stroke="#b97a1c" stroke-width="0.9"/>
<path d="M1168.8,2360.0 V2352.0 H1172.4 V2360.0 M1170.6,2350.0 V2352.0" fill="none" stroke="#ee7a22" stroke-width="0.9"/>
<path d="M1168.8,2364.2 V2372.2 H1172.4 V2364.2 M1170.6,2374.2 V2372.2" fill="none" stroke="#ee7a22" stroke-width="0.9"/>
<circle cx="1170.6" cy="2346.0" r="4.1" fill="#f2c935" stroke="#b97a1c" stroke-width="0.9"/>
<circle cx="1170.6" cy="2378.2" r="4.1" fill="#f2c935" stroke="#b97a1c" stroke-width="0.9"/>
<path d="M1177.6,2360.0 V2352.0 H1181.2 V2360.0 M1179.4,2350.0 V2352.0" fill="none" stroke="#ee7a22" stroke-width="0.9"/>
<path d="M1177.6,2364.2 V2372.2 H1181.2 V2364.2 M1179.4,2374.2 V2372.2" fill="none" stroke="#ee7a22" stroke-width="0.9"/>
<circle cx="1179.4" cy="2346.0" r="4.1" fill="#f2c935" stroke="#b97a1c" stroke-width="0.9"/>
<circle cx="1179.4" cy="2378.2" r="4.1" fill="#f2c935" stroke="#b97a1c" stroke-width="0.9"/>
<path d="M1186.3,2360.0 V2352.0 H1189.9 V2360.0 M1188.1,2350.0 V2352.0" fill="none" stroke="#ee7a22" stroke-width="0.9"/>
<path d="M1186.3,2364.2 V2372.2 H1189.9 V2364.2 M1188.1,2374.2 V2372.2" fill="none" stroke="#ee7a22" stroke-width="0.9"/>
<circle cx="1188.1" cy="2346.0" r="4.1" fill="#f2c935" stroke="#b97a1c" stroke-width="0.9"/>
<circle cx="1188.1" cy="2378.2" r="4.1" fill="#f2c935" stroke="#b97a1c" stroke-width="0.9"/>
<path d="M1195.0,2360.0 V2352.0 H1198.6 V2360.0 M1196.8,2350.0 V2352.0" fill="none" stroke="#ee7a22" stroke-width="0.9"/>
<path d="M1195.0,2364.2 V2372.2 H1198.6 V2364.2 M1196.8,2374.2 V2372.2" fill="none" stroke="#ee7a22" stroke-width="0.9"/>
<circle cx="1196.8" cy="2346.0" r="4.1" fill="#f2c935" stroke="#b97a1c" stroke-width="0.9"/>
<circle cx="1196.8" cy="2378.2" r="4.1" fill="#f2c935" stroke="#b97a1c" stroke-width="0.9"/>
<path d="M1203.8,2360.0 V2352.0 H1207.4 V2360.0 M1205.6,2350.0 V2352.0" fill="none" stroke="#ee7a22" stroke-width="0.9"/>
<path d="M1203.8,2364.2 V2372.2 H1207.4 V2364.2 M1205.6,2374.2 V2372.2" fill="none" stroke="#ee7a22" stroke-width="0.9"/>
<circle cx="1205.6" cy="2346.0" r="4.1" fill="#f2c935" stroke="#b97a1c" stroke-width="0.9"/>
<circle cx="1205.6" cy="2378.2" r="4.1" fill="#f2c935" stroke="#b97a1c" stroke-width="0.9"/>
<path d="M1212.5,2360.0 V2352.0 H1216.1 V2360.0 M1214.3,2350.0 V2352.0" fill="none" stroke="#ee7a22" stroke-width="0.9"/>
<path d="M1212.5,2364.2 V2372.2 H1216.1 V2364.2 M1214.3,2374.2 V2372.2" fill="none" stroke="#ee7a22" stroke-width="0.9"/>
<circle cx="1214.3" cy="2346.0" r="4.1" fill="#f2c935" stroke="#b97a1c" stroke-width="0.9"/>
<circle cx="1214.3" cy="2378.2" r="4.1" fill="#f2c935" stroke="#b97a1c" stroke-width="0.9"/>
<path d="M1221.2,2360.0 V2352.0 H1224.8 V2360.0 M1223.0,2350.0 V2352.0" fill="none" stroke="#ee7a22" stroke-width="0.9"/>
<path d="M1221.2,2364.2 V2372.2 H1224.8 V2364.2 M1223.0,2374.2 V2372.2" fill="none" stroke="#ee7a22" stroke-width="0.9"/>
<circle cx="1223.0" cy="2346.0" r="4.1" fill="#f2c935" stroke="#b97a1c" stroke-width="0.9"/>
<circle cx="1223.0" cy="2378.2" r="4.1" fill="#f2c935" stroke="#b97a1c" stroke-width="0.9"/>
<path d="M1230.0,2360.0 V2352.0 H1233.6 V2360.0 M1231.8,2350.0 V2352.0" fill="none" stroke="#ee7a22" stroke-width="0.9"/>
<path d="M1230.0,2364.2 V2372.2 H1233.6 V2364.2 M1231.8,2374.2 V2372.2" fill="none" stroke="#ee7a22" stroke-width="0.9"/>
<circle cx="1231.8" cy="2346.0" r="4.1" fill="#f2c935" stroke="#b97a1c" stroke-width="0.9"/>
<circle cx="1231.8" cy="2378.2" r="4.1" fill="#f2c935" stroke="#b97a1c" stroke-width="0.9"/>
<path d="M1238.7,2360.0 V2352.0 H1242.3 V2360.0 M1240.5,2350.0 V2352.0" fill="none" stroke="#ee7a22" stroke-width="0.9"/>
<path d="M1238.7,2364.2 V2372.2 H1242.3 V2364.2 M1240.5,2374.2 V2372.2" fill="none" stroke="#ee7a22" stroke-width="0.9"/>
<circle cx="1240.5" cy="2346.0" r="4.1" fill="#f2c935" stroke="#b97a1c" stroke-width="0.9"/>
<circle cx="1240.5" cy="2378.2" r="4.1" fill="#f2c935" stroke="#b97a1c" stroke-width="0.9"/>
<defs><linearGradient id="mg1431" x1="0" y1="0" x2="0" y2="1"><stop offset="0" stop-color="#eceef8" stop-opacity="0.6"/><stop offset="0.5" stop-color="#b9c2e6"/><stop offset="1" stop-color="#eceef8" stop-opacity="0.6"/></linearGradient></defs>
<rect x="1427.0" y="2343.5" width="136.5" height="33.0" fill="url(#mg1431)"/>
<path d="M1429.2,2357.5 V2349.5 H1432.8 V2357.5 M1431.0,2347.5 V2349.5" fill="none" stroke="#ee7a22" stroke-width="0.9"/>
<path d="M1429.2,2362.5 V2370.5 H1432.8 V2362.5 M1431.0,2372.5 V2370.5" fill="none" stroke="#ee7a22" stroke-width="0.9"/>
<circle cx="1431.0" cy="2343.5" r="4.1" fill="#f2c935" stroke="#b97a1c" stroke-width="0.9"/>
<circle cx="1431.0" cy="2376.5" r="4.1" fill="#f2c935" stroke="#b97a1c" stroke-width="0.9"/>
<path d="M1437.8,2357.5 V2349.5 H1441.4 V2357.5 M1439.6,2347.5 V2349.5" fill="none" stroke="#ee7a22" stroke-width="0.9"/>
<path d="M1437.8,2362.5 V2370.5 H1441.4 V2362.5 M1439.6,2372.5 V2370.5" fill="none" stroke="#ee7a22" stroke-width="0.9"/>
<circle cx="1439.6" cy="2343.5" r="4.1" fill="#f2c935" stroke="#b97a1c" stroke-width="0.9"/>
<circle cx="1439.6" cy="2376.5" r="4.1" fill="#f2c935" stroke="#b97a1c" stroke-width="0.9"/>
<path d="M1446.3,2357.5 V2349.5 H1449.9 V2357.5 M1448.1,2347.5 V2349.5" fill="none" stroke="#ee7a22" stroke-width="0.9"/>
<path d="M1446.3,2362.5 V2370.5 H1449.9 V2362.5 M1448.1,2372.5 V2370.5" fill="none" stroke="#ee7a22" stroke-width="0.9"/>
<circle cx="1448.1" cy="2343.5" r="4.1" fill="#f2c935" stroke="#b97a1c" stroke-width="0.9"/>
<circle cx="1448.1" cy="2376.5" r="4.1" fill="#f2c935" stroke="#b97a1c" stroke-width="0.9"/>
<path d="M1454.9,2357.5 V2349.5 H1458.5 V2357.5 M1456.7,2347.5 V2349.5" fill="none" stroke="#ee7a22" stroke-width="0.9"/>
<path d="M1454.9,2362.5 V2370.5 H1458.5 V2362.5 M1456.7,2372.5 V2370.5" fill="none" stroke="#ee7a22" stroke-width="0.9"/>
<circle cx="1456.7" cy="2343.5" r="4.1" fill="#f2c935" stroke="#b97a1c" stroke-width="0.9"/>
<circle cx="1456.7" cy="2376.5" r="4.1" fill="#f2c935" stroke="#b97a1c" stroke-width="0.9"/>
<path d="M1463.5,2357.5 V2349.5 H1467.1 V2357.5 M1465.3,2347.5 V2349.5" fill="none" stroke="#ee7a22" stroke-width="0.9"/>
<path d="M1463.5,2362.5 V2370.5 H1467.1 V2362.5 M1465.3,2372.5 V2370.5" fill="none" stroke="#ee7a22" stroke-width="0.9"/>
<circle cx="1465.3" cy="2343.5" r="4.1" fill="#f2c935" stroke="#b97a1c" stroke-width="0.9"/>
<circle cx="1465.3" cy="2376.5" r="4.1" fill="#f2c935" stroke="#b97a1c" stroke-width="0.9"/>
<path d="M1472.0,2357.5 V2349.5 H1475.6 V2357.5 M1473.8,2347.5 V2349.5" fill="none" stroke="#ee7a22" stroke-width="0.9"/>
<path d="M1472.0,2362.5 V2370.5 H1475.6 V2362.5 M1473.8,2372.5 V2370.5" fill="none" stroke="#ee7a22" stroke-width="0.9"/>
<circle cx="1473.8" cy="2343.5" r="4.1" fill="#f2c935" stroke="#b97a1c" stroke-width="0.9"/>
<circle cx="1473.8" cy="2376.5" r="4.1" fill="#f2c935" stroke="#b97a1c" stroke-width="0.9"/>
<path d="M1480.6,2357.5 V2349.5 H1484.2 V2357.5 M1482.4,2347.5 V2349.5" fill="none" stroke="#ee7a22" stroke-width="0.9"/>
<path d="M1480.6,2362.5 V2370.5 H1484.2 V2362.5 M1482.4,2372.5 V2370.5" fill="none" stroke="#ee7a22" stroke-width="0.9"/>
<circle cx="1482.4" cy="2343.5" r="4.1" fill="#f2c935" stroke="#b97a1c" stroke-width="0.9"/>
<circle cx="1482.4" cy="2376.5" r="4.1" fill="#f2c935" stroke="#b97a1c" stroke-width="0.9"/>
<path d="M1489.2,2357.5 V2349.5 H1492.8 V2357.5 M1491.0,2347.5 V2349.5" fill="none" stroke="#ee7a22" stroke-width="0.9"/>
<path d="M1489.2,2362.5 V2370.5 H1492.8 V2362.5 M1491.0,2372.5 V2370.5" fill="none" stroke="#ee7a22" stroke-width="0.9"/>
<circle cx="1491.0" cy="2343.5" r="4.1" fill="#f2c935" stroke="#b97a1c" stroke-width="0.9"/>
<circle cx="1491.0" cy="2376.5" r="4.1" fill="#f2c935" stroke="#b97a1c" stroke-width="0.9"/>
<path d="M1497.7,2357.5 V2349.5 H1501.3 V2357.5 M1499.5,2347.5 V2349.5" fill="none" stroke="#ee7a22" stroke-width="0.9"/>
<path d="M1497.7,2362.5 V2370.5 H1501.3 V2362.5 M1499.5,2372.5 V2370.5" fill="none" stroke="#ee7a22" stroke-width="0.9"/>
<circle cx="1499.5" cy="2343.5" r="4.1" fill="#f2c935" stroke="#b97a1c" stroke-width="0.9"/>
<circle cx="1499.5" cy="2376.5" r="4.1" fill="#f2c935" stroke="#b97a1c" stroke-width="0.9"/>
<path d="M1506.3,2357.5 V2349.5 H1509.9 V2357.5 M1508.1,2347.5 V2349.5" fill="none" stroke="#ee7a22" stroke-width="0.9"/>
<path d="M1506.3,2362.5 V2370.5 H1509.9 V2362.5 M1508.1,2372.5 V2370.5" fill="none" stroke="#ee7a22" stroke-width="0.9"/>
<circle cx="1508.1" cy="2343.5" r="4.1" fill="#f2c935" stroke="#b97a1c" stroke-width="0.9"/>
<circle cx="1508.1" cy="2376.5" r="4.1" fill="#f2c935" stroke="#b97a1c" stroke-width="0.9"/>
<path d="M1514.9,2357.5 V2349.5 H1518.5 V2357.5 M1516.7,2347.5 V2349.5" fill="none" stroke="#ee7a22" stroke-width="0.9"/>
<path d="M1514.9,2362.5 V2370.5 H1518.5 V2362.5 M1516.7,2372.5 V2370.5" fill="none" stroke="#ee7a22" stroke-width="0.9"/>
<circle cx="1516.7" cy="2343.5" r="4.1" fill="#f2c935" stroke="#b97a1c" stroke-width="0.9"/>
<circle cx="1516.7" cy="2376.5" r="4.1" fill="#f2c935" stroke="#b97a1c" stroke-width="0.9"/>
<path d="M1523.4,2357.5 V2349.5 H1527.0 V2357.5 M1525.2,2347.5 V2349.5" fill="none" stroke="#ee7a22" stroke-width="0.9"/>
<path d="M1523.4,2362.5 V2370.5 H1527.0 V2362.5 M1525.2,2372.5 V2370.5" fill="none" stroke="#ee7a22" stroke-width="0.9"/>
<circle cx="1525.2" cy="2343.5" r="4.1" fill="#f2c935" stroke="#b97a1c" stroke-width="0.9"/>
<circle cx="1525.2" cy="2376.5" r="4.1" fill="#f2c935" stroke="#b97a1c" stroke-width="0.9"/>
<path d="M1532.0,2357.5 V2349.5 H1535.6 V2357.5 M1533.8,2347.5 V2349.5" fill="none" stroke="#ee7a22" stroke-width="0.9"/>
<path d="M1532.0,2362.5 V2370.5 H1535.6 V2362.5 M1533.8,2372.5 V2370.5" fill="none" stroke="#ee7a22" stroke-width="0.9"/>
<circle cx="1533.8" cy="2343.5" r="4.1" fill="#f2c935" stroke="#b97a1c" stroke-width="0.9"/>
<circle cx="1533.8" cy="2376.5" r="4.1" fill="#f2c935" stroke="#b97a1c" stroke-width="0.9"/>
<path d="M1540.6,2357.5 V2349.5 H1544.2 V2357.5 M1542.4,2347.5 V2349.5" fill="none" stroke="#ee7a22" stroke-width="0.9"/>
<path d="M1540.6,2362.5 V2370.5 H1544.2 V2362.5 M1542.4,2372.5 V2370.5" fill="none" stroke="#ee7a22" stroke-width="0.9"/>
<circle cx="1542.4" cy="2343.5" r="4.1" fill="#f2c935" stroke="#b97a1c" stroke-width="0.9"/>
<circle cx="1542.4" cy="2376.5" r="4.1" fill="#f2c935" stroke="#b97a1c" stroke-width="0.9"/>
<path d="M1549.1,2357.5 V2349.5 H1552.7 V2357.5 M1550.9,2347.5 V2349.5" fill="none" stroke="#ee7a22" stroke-width="0.9"/>
<path d="M1549.1,2362.5 V2370.5 H1552.7 V2362.5 M1550.9,2372.5 V2370.5" fill="none" stroke="#ee7a22" stroke-width="0.9"/>
<circle cx="1550.9" cy="2343.5" r="4.1" fill="#f2c935" stroke="#b97a1c" stroke-width="0.9"/>
<circle cx="1550.9" cy="2376.5" r="4.1" fill="#f2c935" stroke="#b97a1c" stroke-width="0.9"/>
<path d="M1557.7,2357.5 V2349.5 H1561.3 V2357.5 M1559.5,2347.5 V2349.5" fill="none" stroke="#ee7a22" stroke-width="0.9"/>
<path d="M1557.7,2362.5 V2370.5 H1561.3 V2362.5 M1559.5,2372.5 V2370.5" fill="none" stroke="#ee7a22" stroke-width="0.9"/>
<circle cx="1559.5" cy="2343.5" r="4.1" fill="#f2c935" stroke="#b97a1c" stroke-width="0.9"/>
<circle cx="1559.5" cy="2376.5" r="4.1" fill="#f2c935" stroke="#b97a1c" stroke-width="0.9"/>
<defs><linearGradient id="mr833" x1="0" y1="0" x2="0" y2="1"><stop offset="0" stop-color="#f4f4fa" stop-opacity="0.7"/><stop offset="0.5" stop-color="#c3c8e8"/><stop offset="1" stop-color="#f4f4fa" stop-opacity="0.7"/></linearGradient></defs>
<rect x="830.4" y="2349.0" width="129.2" height="18.6" fill="url(#mr833)"/>
<path d="M830.0,2344.0 V2336.0 H833.2 V2344.0 M831.6,2334.0 V2336.0" fill="none" stroke="#d23a3a" stroke-width="0.9"/>
<circle cx="831.6" cy="2330.0" r="4.7" fill="#e03535" stroke="#b01c1c" stroke-width="0.7"/>
<circle cx="830.4" cy="2328.8" r="1" fill="#fff" opacity="0.8"/>
<path d="M842.1,2357.0 V2349.0 H845.3 V2357.0 M843.7,2347.0 V2349.0" fill="none" stroke="#d23a3a" stroke-width="0.9"/>
<circle cx="843.7" cy="2343.0" r="4.7" fill="#e03535" stroke="#b01c1c" stroke-width="0.7"/>
<circle cx="842.5" cy="2341.8" r="1" fill="#fff" opacity="0.8"/>
<path d="M848.2,2355.0 V2347.0 H851.4 V2355.0 M849.8,2345.0 V2347.0" fill="none" stroke="#d23a3a" stroke-width="0.9"/>
<circle cx="849.8" cy="2341.0" r="4.7" fill="#e03535" stroke="#b01c1c" stroke-width="0.7"/>
<circle cx="848.6" cy="2339.8" r="1" fill="#fff" opacity="0.8"/>
<path d="M859.5,2355.0 V2347.0 H862.7 V2355.0 M861.1,2345.0 V2347.0" fill="none" stroke="#d23a3a" stroke-width="0.9"/>
<circle cx="861.1" cy="2341.0" r="4.7" fill="#e03535" stroke="#b01c1c" stroke-width="0.7"/>
<circle cx="859.9" cy="2339.8" r="1" fill="#fff" opacity="0.8"/>
<path d="M867.8,2344.0 V2336.0 H871.0 V2344.0 M869.4,2334.0 V2336.0" fill="none" stroke="#d23a3a" stroke-width="0.9"/>
<circle cx="869.4" cy="2330.0" r="4.7" fill="#e03535" stroke="#b01c1c" stroke-width="0.7"/>
<circle cx="868.2" cy="2328.8" r="1" fill="#fff" opacity="0.8"/>
<path d="M874.3,2355.0 V2347.0 H877.5 V2355.0 M875.9,2345.0 V2347.0" fill="none" stroke="#d23a3a" stroke-width="0.9"/>
<circle cx="875.9" cy="2341.0" r="4.7" fill="#e03535" stroke="#b01c1c" stroke-width="0.7"/>
<circle cx="874.7" cy="2339.8" r="1" fill="#fff" opacity="0.8"/>
<path d="M882.2,2344.0 V2336.0 H885.4 V2344.0 M883.8,2334.0 V2336.0" fill="none" stroke="#d23a3a" stroke-width="0.9"/>
<circle cx="883.8" cy="2330.0" r="4.7" fill="#e03535" stroke="#b01c1c" stroke-width="0.7"/>
<circle cx="882.6" cy="2328.8" r="1" fill="#fff" opacity="0.8"/>
<path d="M892.8,2352.0 V2344.0 H896.0 V2352.0 M894.4,2342.0 V2344.0" fill="none" stroke="#d23a3a" stroke-width="0.9"/>
<circle cx="894.4" cy="2338.0" r="4.7" fill="#e03535" stroke="#b01c1c" stroke-width="0.7"/>
<circle cx="893.2" cy="2336.8" r="1" fill="#fff" opacity="0.8"/>
<path d="M903.5,2357.0 V2349.0 H906.7 V2357.0 M905.1,2347.0 V2349.0" fill="none" stroke="#d23a3a" stroke-width="0.9"/>
<circle cx="905.1" cy="2343.0" r="4.7" fill="#e03535" stroke="#b01c1c" stroke-width="0.7"/>
<circle cx="903.9" cy="2341.8" r="1" fill="#fff" opacity="0.8"/>
<path d="M912.0,2357.0 V2349.0 H915.2 V2357.0 M913.6,2347.0 V2349.0" fill="none" stroke="#d23a3a" stroke-width="0.9"/>
<circle cx="913.6" cy="2343.0" r="4.7" fill="#e03535" stroke="#b01c1c" stroke-width="0.7"/>
<circle cx="912.4" cy="2341.8" r="1" fill="#fff" opacity="0.8"/>
<path d="M920.9,2357.0 V2349.0 H924.1 V2357.0 M922.5,2347.0 V2349.0" fill="none" stroke="#d23a3a" stroke-width="0.9"/>
<circle cx="922.5" cy="2343.0" r="4.7" fill="#e03535" stroke="#b01c1c" stroke-width="0.7"/>
<circle cx="921.3" cy="2341.8" r="1" fill="#fff" opacity="0.8"/>
<path d="M929.1,2357.0 V2349.0 H932.3 V2357.0 M930.7,2347.0 V2349.0" fill="none" stroke="#d23a3a" stroke-width="0.9"/>
<circle cx="930.7" cy="2343.0" r="4.7" fill="#e03535" stroke="#b01c1c" stroke-width="0.7"/>
<circle cx="929.5" cy="2341.8" r="1" fill="#fff" opacity="0.8"/>
<path d="M939.4,2357.0 V2349.0 H942.6 V2357.0 M941.0,2347.0 V2349.0" fill="none" stroke="#d23a3a" stroke-width="0.9"/>
<circle cx="941.0" cy="2343.0" r="4.7" fill="#e03535" stroke="#b01c1c" stroke-width="0.7"/>
<circle cx="939.8" cy="2341.8" r="1" fill="#fff" opacity="0.8"/>
<path d="M943.8,2348.0 V2340.0 H947.0 V2348.0 M945.4,2338.0 V2340.0" fill="none" stroke="#d23a3a" stroke-width="0.9"/>
<circle cx="945.4" cy="2334.0" r="4.7" fill="#e03535" stroke="#b01c1c" stroke-width="0.7"/>
<circle cx="944.2" cy="2332.8" r="1" fill="#fff" opacity="0.8"/>
<path d="M955.2,2355.0 V2347.0 H958.4 V2355.0 M956.8,2345.0 V2347.0" fill="none" stroke="#d23a3a" stroke-width="0.9"/>
<circle cx="956.8" cy="2341.0" r="4.7" fill="#e03535" stroke="#b01c1c" stroke-width="0.7"/>
<circle cx="955.6" cy="2339.8" r="1" fill="#fff" opacity="0.8"/>
<path d="M832.7,2361.6 V2369.6 H835.9 V2361.6 M834.3,2371.6 V2369.6" fill="none" stroke="#d23a3a" stroke-width="0.9"/>
<circle cx="834.3" cy="2375.6" r="4.7" fill="#e03535" stroke="#b01c1c" stroke-width="0.7"/>
<circle cx="833.1" cy="2374.4" r="1" fill="#fff" opacity="0.8"/>
<path d="M841.7,2364.6 V2372.6 H844.9 V2364.6 M843.3,2374.6 V2372.6" fill="none" stroke="#d23a3a" stroke-width="0.9"/>
<circle cx="843.3" cy="2378.6" r="4.7" fill="#e03535" stroke="#b01c1c" stroke-width="0.7"/>
<circle cx="842.1" cy="2377.4" r="1" fill="#fff" opacity="0.8"/>
<path d="M848.0,2361.6 V2369.6 H851.2 V2361.6 M849.6,2371.6 V2369.6" fill="none" stroke="#d23a3a" stroke-width="0.9"/>
<circle cx="849.6" cy="2375.6" r="4.7" fill="#e03535" stroke="#b01c1c" stroke-width="0.7"/>
<circle cx="848.4" cy="2374.4" r="1" fill="#fff" opacity="0.8"/>
<path d="M860.4,2364.6 V2372.6 H863.6 V2364.6 M862.0,2374.6 V2372.6" fill="none" stroke="#d23a3a" stroke-width="0.9"/>
<circle cx="862.0" cy="2378.6" r="4.7" fill="#e03535" stroke="#b01c1c" stroke-width="0.7"/>
<circle cx="860.8" cy="2377.4" r="1" fill="#fff" opacity="0.8"/>
<path d="M865.7,2359.6 V2367.6 H868.9 V2359.6 M867.3,2369.6 V2367.6" fill="none" stroke="#d23a3a" stroke-width="0.9"/>
<circle cx="867.3" cy="2373.6" r="4.7" fill="#e03535" stroke="#b01c1c" stroke-width="0.7"/>
<circle cx="866.1" cy="2372.4" r="1" fill="#fff" opacity="0.8"/>
<path d="M876.7,2372.6 V2380.6 H879.9 V2372.6 M878.3,2382.6 V2380.6" fill="none" stroke="#d23a3a" stroke-width="0.9"/>
<circle cx="878.3" cy="2386.6" r="4.7" fill="#e03535" stroke="#b01c1c" stroke-width="0.7"/>
<circle cx="877.1" cy="2385.4" r="1" fill="#fff" opacity="0.8"/>
<path d="M884.4,2359.6 V2367.6 H887.6 V2359.6 M886.0,2369.6 V2367.6" fill="none" stroke="#d23a3a" stroke-width="0.9"/>
<circle cx="886.0" cy="2373.6" r="4.7" fill="#e03535" stroke="#b01c1c" stroke-width="0.7"/>
<circle cx="884.8" cy="2372.4" r="1" fill="#fff" opacity="0.8"/>
<path d="M895.5,2361.6 V2369.6 H898.7 V2361.6 M897.1,2371.6 V2369.6" fill="none" stroke="#d23a3a" stroke-width="0.9"/>
<circle cx="897.1" cy="2375.6" r="4.7" fill="#e03535" stroke="#b01c1c" stroke-width="0.7"/>
<circle cx="895.9" cy="2374.4" r="1" fill="#fff" opacity="0.8"/>
<path d="M903.9,2364.6 V2372.6 H907.1 V2364.6 M905.5,2374.6 V2372.6" fill="none" stroke="#d23a3a" stroke-width="0.9"/>
<circle cx="905.5" cy="2378.6" r="4.7" fill="#e03535" stroke="#b01c1c" stroke-width="0.7"/>
<circle cx="904.3" cy="2377.4" r="1" fill="#fff" opacity="0.8"/>
<path d="M913.1,2359.6 V2367.6 H916.3 V2359.6 M914.7,2369.6 V2367.6" fill="none" stroke="#d23a3a" stroke-width="0.9"/>
<circle cx="914.7" cy="2373.6" r="4.7" fill="#e03535" stroke="#b01c1c" stroke-width="0.7"/>
<circle cx="913.5" cy="2372.4" r="1" fill="#fff" opacity="0.8"/>
<path d="M918.2,2368.6 V2376.6 H921.4 V2368.6 M919.8,2378.6 V2376.6" fill="none" stroke="#d23a3a" stroke-width="0.9"/>
<circle cx="919.8" cy="2382.6" r="4.7" fill="#e03535" stroke="#b01c1c" stroke-width="0.7"/>
<circle cx="918.6" cy="2381.4" r="1" fill="#fff" opacity="0.8"/>
<path d="M930.4,2359.6 V2367.6 H933.6 V2359.6 M932.0,2369.6 V2367.6" fill="none" stroke="#d23a3a" stroke-width="0.9"/>
<circle cx="932.0" cy="2373.6" r="4.7" fill="#e03535" stroke="#b01c1c" stroke-width="0.7"/>
<circle cx="930.8" cy="2372.4" r="1" fill="#fff" opacity="0.8"/>
<path d="M938.6,2368.6 V2376.6 H941.8 V2368.6 M940.2,2378.6 V2376.6" fill="none" stroke="#d23a3a" stroke-width="0.9"/>
<circle cx="940.2" cy="2382.6" r="4.7" fill="#e03535" stroke="#b01c1c" stroke-width="0.7"/>
<circle cx="939.0" cy="2381.4" r="1" fill="#fff" opacity="0.8"/>
<path d="M948.6,2364.6 V2372.6 H951.8 V2364.6 M950.2,2374.6 V2372.6" fill="none" stroke="#d23a3a" stroke-width="0.9"/>
<circle cx="950.2" cy="2378.6" r="4.7" fill="#e03535" stroke="#b01c1c" stroke-width="0.7"/>
<circle cx="949.0" cy="2377.4" r="1" fill="#fff" opacity="0.8"/>
<path d="M957.2,2361.6 V2369.6 H960.4 V2361.6 M958.8,2371.6 V2369.6" fill="none" stroke="#d23a3a" stroke-width="0.9"/>
<circle cx="958.8" cy="2375.6" r="4.7" fill="#e03535" stroke="#b01c1c" stroke-width="0.7"/>
<circle cx="957.6" cy="2374.4" r="1" fill="#fff" opacity="0.8"/>
<defs><linearGradient id="mr1727" x1="0" y1="0" x2="0" y2="1"><stop offset="0" stop-color="#f4f4fa" stop-opacity="0.7"/><stop offset="0.5" stop-color="#c3c8e8"/><stop offset="1" stop-color="#f4f4fa" stop-opacity="0.7"/></linearGradient></defs>
<rect x="1724.0" y="2349.5" width="131.0" height="18.5" fill="url(#mr1727)"/>
<path d="M1727.7,2344.5 V2336.5 H1730.9 V2344.5 M1729.3,2334.5 V2336.5" fill="none" stroke="#d23a3a" stroke-width="0.9"/>
<circle cx="1729.3" cy="2330.5" r="4.7" fill="#e03535" stroke="#b01c1c" stroke-width="0.7"/>
<circle cx="1728.1" cy="2329.3" r="1" fill="#fff" opacity="0.8"/>
<path d="M1732.1,2357.5 V2349.5 H1735.3 V2357.5 M1733.7,2347.5 V2349.5" fill="none" stroke="#d23a3a" stroke-width="0.9"/>
<circle cx="1733.7" cy="2343.5" r="4.7" fill="#e03535" stroke="#b01c1c" stroke-width="0.7"/>
<circle cx="1732.5" cy="2342.3" r="1" fill="#fff" opacity="0.8"/>
<path d="M1742.6,2357.5 V2349.5 H1745.8 V2357.5 M1744.2,2347.5 V2349.5" fill="none" stroke="#d23a3a" stroke-width="0.9"/>
<circle cx="1744.2" cy="2343.5" r="4.7" fill="#e03535" stroke="#b01c1c" stroke-width="0.7"/>
<circle cx="1743.0" cy="2342.3" r="1" fill="#fff" opacity="0.8"/>
<path d="M1753.4,2348.5 V2340.5 H1756.6 V2348.5 M1755.0,2338.5 V2340.5" fill="none" stroke="#d23a3a" stroke-width="0.9"/>
<circle cx="1755.0" cy="2334.5" r="4.7" fill="#e03535" stroke="#b01c1c" stroke-width="0.7"/>
<circle cx="1753.8" cy="2333.3" r="1" fill="#fff" opacity="0.8"/>
<path d="M1762.9,2357.5 V2349.5 H1766.1 V2357.5 M1764.5,2347.5 V2349.5" fill="none" stroke="#d23a3a" stroke-width="0.9"/>
<circle cx="1764.5" cy="2343.5" r="4.7" fill="#e03535" stroke="#b01c1c" stroke-width="0.7"/>
<circle cx="1763.3" cy="2342.3" r="1" fill="#fff" opacity="0.8"/>
<path d="M1770.6,2352.5 V2344.5 H1773.8 V2352.5 M1772.2,2342.5 V2344.5" fill="none" stroke="#d23a3a" stroke-width="0.9"/>
<circle cx="1772.2" cy="2338.5" r="4.7" fill="#e03535" stroke="#b01c1c" stroke-width="0.7"/>
<circle cx="1771.0" cy="2337.3" r="1" fill="#fff" opacity="0.8"/>
<path d="M1776.7,2348.5 V2340.5 H1779.9 V2348.5 M1778.3,2338.5 V2340.5" fill="none" stroke="#d23a3a" stroke-width="0.9"/>
<circle cx="1778.3" cy="2334.5" r="4.7" fill="#e03535" stroke="#b01c1c" stroke-width="0.7"/>
<circle cx="1777.1" cy="2333.3" r="1" fill="#fff" opacity="0.8"/>
<path d="M1786.2,2355.5 V2347.5 H1789.4 V2355.5 M1787.8,2345.5 V2347.5" fill="none" stroke="#d23a3a" stroke-width="0.9"/>
<circle cx="1787.8" cy="2341.5" r="4.7" fill="#e03535" stroke="#b01c1c" stroke-width="0.7"/>
<circle cx="1786.6" cy="2340.3" r="1" fill="#fff" opacity="0.8"/>
<path d="M1797.5,2344.5 V2336.5 H1800.7 V2344.5 M1799.1,2334.5 V2336.5" fill="none" stroke="#d23a3a" stroke-width="0.9"/>
<circle cx="1799.1" cy="2330.5" r="4.7" fill="#e03535" stroke="#b01c1c" stroke-width="0.7"/>
<circle cx="1797.9" cy="2329.3" r="1" fill="#fff" opacity="0.8"/>
<path d="M1806.9,2352.5 V2344.5 H1810.1 V2352.5 M1808.5,2342.5 V2344.5" fill="none" stroke="#d23a3a" stroke-width="0.9"/>
<circle cx="1808.5" cy="2338.5" r="4.7" fill="#e03535" stroke="#b01c1c" stroke-width="0.7"/>
<circle cx="1807.3" cy="2337.3" r="1" fill="#fff" opacity="0.8"/>
<path d="M1816.9,2352.5 V2344.5 H1820.1 V2352.5 M1818.5,2342.5 V2344.5" fill="none" stroke="#d23a3a" stroke-width="0.9"/>
<circle cx="1818.5" cy="2338.5" r="4.7" fill="#e03535" stroke="#b01c1c" stroke-width="0.7"/>
<circle cx="1817.3" cy="2337.3" r="1" fill="#fff" opacity="0.8"/>
<path d="M1825.8,2352.5 V2344.5 H1829.0 V2352.5 M1827.4,2342.5 V2344.5" fill="none" stroke="#d23a3a" stroke-width="0.9"/>
<circle cx="1827.4" cy="2338.5" r="4.7" fill="#e03535" stroke="#b01c1c" stroke-width="0.7"/>
<circle cx="1826.2" cy="2337.3" r="1" fill="#fff" opacity="0.8"/>
<path d="M1831.4,2357.5 V2349.5 H1834.6 V2357.5 M1833.0,2347.5 V2349.5" fill="none" stroke="#d23a3a" stroke-width="0.9"/>
<circle cx="1833.0" cy="2343.5" r="4.7" fill="#e03535" stroke="#b01c1c" stroke-width="0.7"/>
<circle cx="1831.8" cy="2342.3" r="1" fill="#fff" opacity="0.8"/>
<path d="M1843.3,2357.5 V2349.5 H1846.5 V2357.5 M1844.9,2347.5 V2349.5" fill="none" stroke="#d23a3a" stroke-width="0.9"/>
<circle cx="1844.9" cy="2343.5" r="4.7" fill="#e03535" stroke="#b01c1c" stroke-width="0.7"/>
<circle cx="1843.7" cy="2342.3" r="1" fill="#fff" opacity="0.8"/>
<path d="M1850.2,2357.5 V2349.5 H1853.4 V2357.5 M1851.8,2347.5 V2349.5" fill="none" stroke="#d23a3a" stroke-width="0.9"/>
<circle cx="1851.8" cy="2343.5" r="4.7" fill="#e03535" stroke="#b01c1c" stroke-width="0.7"/>
<circle cx="1850.6" cy="2342.3" r="1" fill="#fff" opacity="0.8"/>
<path d="M1727.4,2362.0 V2370.0 H1730.6 V2362.0 M1729.0,2372.0 V2370.0" fill="none" stroke="#d23a3a" stroke-width="0.9"/>
<circle cx="1729.0" cy="2376.0" r="4.7" fill="#e03535" stroke="#b01c1c" stroke-width="0.7"/>
<circle cx="1727.8" cy="2374.8" r="1" fill="#fff" opacity="0.8"/>
<path d="M1736.3,2365.0 V2373.0 H1739.5 V2365.0 M1737.9,2375.0 V2373.0" fill="none" stroke="#d23a3a" stroke-width="0.9"/>
<circle cx="1737.9" cy="2379.0" r="4.7" fill="#e03535" stroke="#b01c1c" stroke-width="0.7"/>
<circle cx="1736.7" cy="2377.8" r="1" fill="#fff" opacity="0.8"/>
<path d="M1741.6,2360.0 V2368.0 H1744.8 V2360.0 M1743.2,2370.0 V2368.0" fill="none" stroke="#d23a3a" stroke-width="0.9"/>
<circle cx="1743.2" cy="2374.0" r="4.7" fill="#e03535" stroke="#b01c1c" stroke-width="0.7"/>
<circle cx="1742.0" cy="2372.8" r="1" fill="#fff" opacity="0.8"/>
<path d="M1750.9,2360.0 V2368.0 H1754.1 V2360.0 M1752.5,2370.0 V2368.0" fill="none" stroke="#d23a3a" stroke-width="0.9"/>
<circle cx="1752.5" cy="2374.0" r="4.7" fill="#e03535" stroke="#b01c1c" stroke-width="0.7"/>
<circle cx="1751.3" cy="2372.8" r="1" fill="#fff" opacity="0.8"/>
<path d="M1759.5,2360.0 V2368.0 H1762.7 V2360.0 M1761.1,2370.0 V2368.0" fill="none" stroke="#d23a3a" stroke-width="0.9"/>
<circle cx="1761.1" cy="2374.0" r="4.7" fill="#e03535" stroke="#b01c1c" stroke-width="0.7"/>
<circle cx="1759.9" cy="2372.8" r="1" fill="#fff" opacity="0.8"/>
<path d="M1768.2,2365.0 V2373.0 H1771.4 V2365.0 M1769.8,2375.0 V2373.0" fill="none" stroke="#d23a3a" stroke-width="0.9"/>
<circle cx="1769.8" cy="2379.0" r="4.7" fill="#e03535" stroke="#b01c1c" stroke-width="0.7"/>
<circle cx="1768.6" cy="2377.8" r="1" fill="#fff" opacity="0.8"/>
<path d="M1778.3,2365.0 V2373.0 H1781.5 V2365.0 M1779.9,2375.0 V2373.0" fill="none" stroke="#d23a3a" stroke-width="0.9"/>
<circle cx="1779.9" cy="2379.0" r="4.7" fill="#e03535" stroke="#b01c1c" stroke-width="0.7"/>
<circle cx="1778.7" cy="2377.8" r="1" fill="#fff" opacity="0.8"/>
<path d="M1788.8,2360.0 V2368.0 H1792.0 V2360.0 M1790.4,2370.0 V2368.0" fill="none" stroke="#d23a3a" stroke-width="0.9"/>
<circle cx="1790.4" cy="2374.0" r="4.7" fill="#e03535" stroke="#b01c1c" stroke-width="0.7"/>
<circle cx="1789.2" cy="2372.8" r="1" fill="#fff" opacity="0.8"/>
<path d="M1799.3,2362.0 V2370.0 H1802.5 V2362.0 M1800.9,2372.0 V2370.0" fill="none" stroke="#d23a3a" stroke-width="0.9"/>
<circle cx="1800.9" cy="2376.0" r="4.7" fill="#e03535" stroke="#b01c1c" stroke-width="0.7"/>
<circle cx="1799.7" cy="2374.8" r="1" fill="#fff" opacity="0.8"/>
<path d="M1807.2,2369.0 V2377.0 H1810.4 V2369.0 M1808.8,2379.0 V2377.0" fill="none" stroke="#d23a3a" stroke-width="0.9"/>
<circle cx="1808.8" cy="2383.0" r="4.7" fill="#e03535" stroke="#b01c1c" stroke-width="0.7"/>
<circle cx="1807.6" cy="2381.8" r="1" fill="#fff" opacity="0.8"/>
<path d="M1814.8,2373.0 V2381.0 H1818.0 V2373.0 M1816.4,2383.0 V2381.0" fill="none" stroke="#d23a3a" stroke-width="0.9"/>
<circle cx="1816.4" cy="2387.0" r="4.7" fill="#e03535" stroke="#b01c1c" stroke-width="0.7"/>
<circle cx="1815.2" cy="2385.8" r="1" fill="#fff" opacity="0.8"/>
<path d="M1822.9,2365.0 V2373.0 H1826.1 V2365.0 M1824.5,2375.0 V2373.0" fill="none" stroke="#d23a3a" stroke-width="0.9"/>
<circle cx="1824.5" cy="2379.0" r="4.7" fill="#e03535" stroke="#b01c1c" stroke-width="0.7"/>
<circle cx="1823.3" cy="2377.8" r="1" fill="#fff" opacity="0.8"/>
<path d="M1831.8,2373.0 V2381.0 H1835.0 V2373.0 M1833.4,2383.0 V2381.0" fill="none" stroke="#d23a3a" stroke-width="0.9"/>
<circle cx="1833.4" cy="2387.0" r="4.7" fill="#e03535" stroke="#b01c1c" stroke-width="0.7"/>
<circle cx="1832.2" cy="2385.8" r="1" fill="#fff" opacity="0.8"/>
<path d="M1843.8,2360.0 V2368.0 H1847.0 V2360.0 M1845.4,2370.0 V2368.0" fill="none" stroke="#d23a3a" stroke-width="0.9"/>
<circle cx="1845.4" cy="2374.0" r="4.7" fill="#e03535" stroke="#b01c1c" stroke-width="0.7"/>
<circle cx="1844.2" cy="2372.8" r="1" fill="#fff" opacity="0.8"/>
<path d="M1852.7,2362.0 V2370.0 H1855.9 V2362.0 M1854.3,2372.0 V2370.0" fill="none" stroke="#d23a3a" stroke-width="0.9"/>
<circle cx="1854.3" cy="2376.0" r="4.7" fill="#e03535" stroke="#b01c1c" stroke-width="0.7"/>
<circle cx="1853.1" cy="2374.8" r="1" fill="#fff" opacity="0.8"/>
</svg>
</body></html>
